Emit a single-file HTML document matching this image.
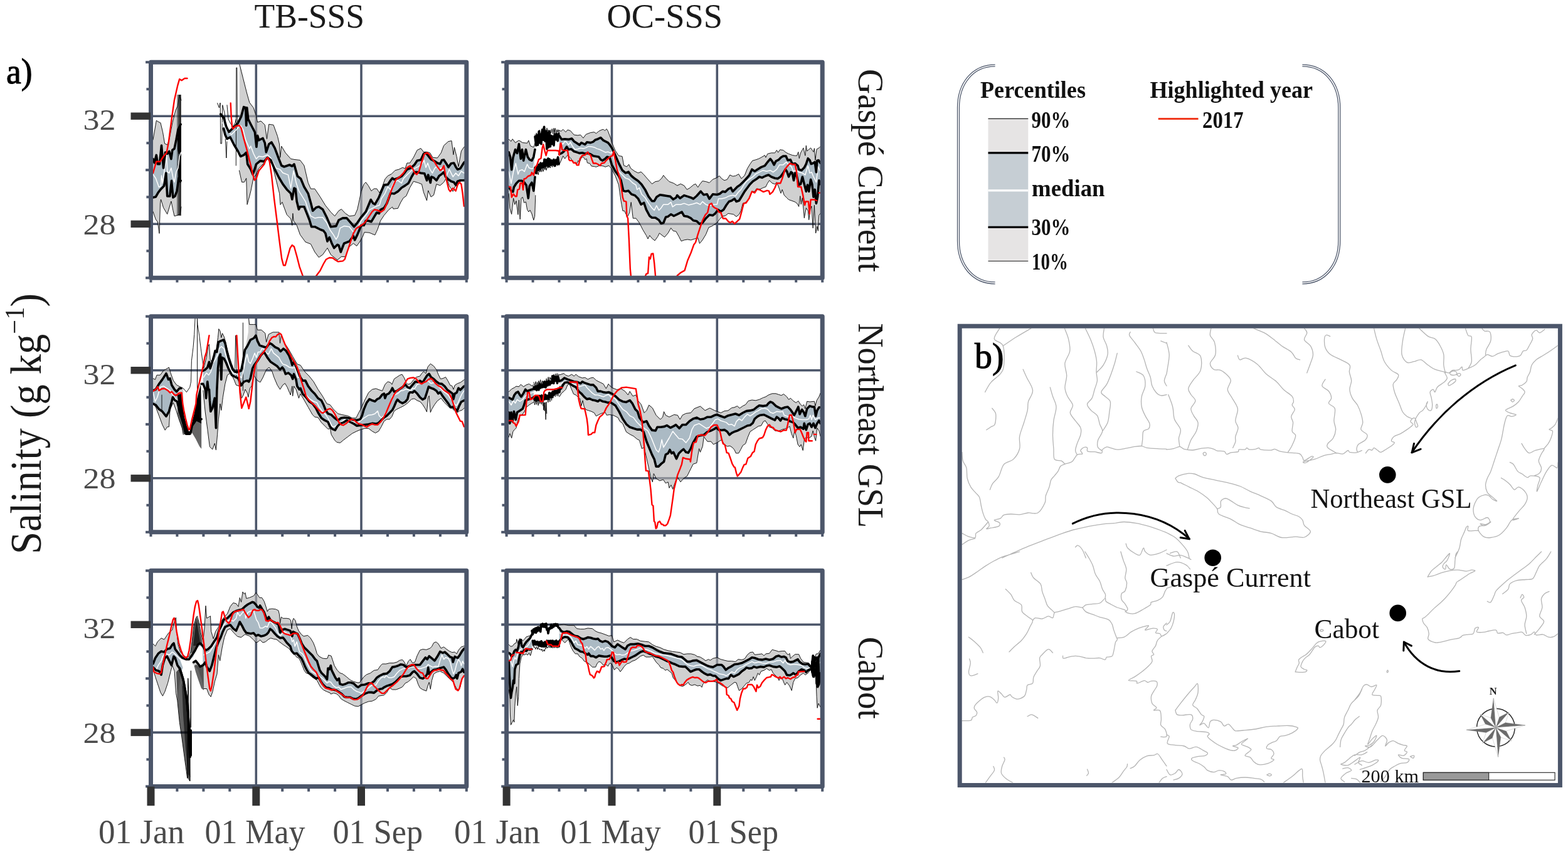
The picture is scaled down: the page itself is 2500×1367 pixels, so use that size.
<!DOCTYPE html>
<html lang="en"><head><meta charset="utf-8"><title>Salinity percentiles</title>
<style>html,body{margin:0;padding:0;background:#fff}body{width:2500px;height:1367px;overflow:hidden}svg{display:block}text{font-family:"Liberation Serif",serif}</style></head><body>
<svg width="2500" height="1367" viewBox="0 0 2500 1367">
<defs><linearGradient id="dk" x1="0" x2="1" y1="0" y2="0"><stop offset="0" stop-color="#000" stop-opacity="0"/><stop offset="0.35" stop-color="#000" stop-opacity="0.55"/><stop offset="1" stop-color="#000" stop-opacity="0.9"/></linearGradient></defs>
<rect width="2500" height="1367" fill="#fff"/>
<g>
<line x1="408.3" y1="99.2" x2="408.3" y2="443.3" stroke="#4c566a" stroke-width="3.6"/>
<line x1="576" y1="99.2" x2="576" y2="443.3" stroke="#4c566a" stroke-width="3.6"/>
<line x1="240.5" y1="185.2" x2="743.8" y2="185.2" stroke="#4c566a" stroke-width="3.6"/>
<line x1="240.5" y1="357.3" x2="743.8" y2="357.3" stroke="#4c566a" stroke-width="3.6"/>
<clipPath id="c1"><rect x="240.5" y="99.2" width="503.3" height="344.1"/></clipPath>
<g clip-path="url(#c1)" fill="none" stroke-linejoin="round" stroke-linecap="round">
<path d="M244,223 249.3,192.2 252,194 256,196 259.5,210.6 262.6,229 266.7,231 270,222 274.9,196 280,175.8 283,169.6 286.2,151.2 289,160 289,330 287.2,341.6 282,343.7 278,344.7 275.9,335.5 272.9,321 266.7,341.6 260.6,331.4 256.5,318 255.5,325 254,372.4 251.4,354 248.3,350 244,337.5Z" fill="#b3b3b3" fill-opacity="0.62" stroke="none"/>
<path d="M381.8,102 387.5,124.6 393.7,149 397.8,163.5 404,171.7 408,183.3 410.6,195 416,193 422.3,199.3 425.5,221.6 428.7,198.2 436,199.3 442.5,217.3 445.5,230 446.7,251.3 448.8,233.2 455.2,243.8 463.7,253.4 470,254.5 478.5,255.5 484.9,264 491.3,291.6 495.5,301.2 501.9,301.2 510.4,313.9 518.9,327.7 527.4,338.3 533.7,344.7 540.1,336.2 544.3,333.6 550.7,340.4 557.1,344.7 565.6,343.6 569.8,334 575.9,305.4 580.2,293.7 583.2,290.7 587.6,296.6 592,304.6 596.3,301 600.7,301 605.1,307.6 608.8,299.5 613.9,285.6 618.3,280.5 624.1,277.6 630,271.7 635.9,270.2 641.7,267.3 646,268.8 649,260 653.4,260 659.3,251.2 665.1,239.5 671,236.6 675.4,242.4 681.2,242.4 685.6,243.9 690,251.2 697.3,252 703.2,243.9 707.6,232.2 714.9,225.6 720,224.6 722.9,246.8 724.4,235 728.1,249.8 731,265.9 735.4,241 739.8,234.4 743,234 743,286 739.8,286.3 735.4,287.8 731,293.7 725.1,298 722.2,305.4 716.3,296.6 712,283.4 707.6,290.7 701.7,295.9 695.9,293.7 691.5,311.2 687.1,314.1 682.7,303.9 680.5,320 675.4,306.8 672.4,293.7 666.6,291.5 659.3,289.3 653.4,299.5 647.6,312.7 643.2,315.6 638.8,322.9 634.4,332.4 627,333.2 625.6,330.2 619.8,334.6 612.4,343.4 606.6,352.2 602.2,365.4 597.8,374.9 589,371.2 581,370.5 578.5,377 574,385 568.8,392.4 563.4,388.2 557,393.5 550.7,409.4 544.3,409.4 538,414.7 527.4,406.2 522,395.6 514.6,406.2 508.3,410.5 501.9,402 495.5,389.3 487,386 478.5,374.4 473.2,359.5 468,352 466.9,340.4 465.8,359.5 463.7,349 457.3,342.5 449.9,322.4 447,326.6 445.6,308.6 440.3,287.4 434,262 426.5,253.4 419,262 412.7,268.3 408,279 404.2,283 400,304.3 397.8,313 394.1,326.3 392.7,284.3 389.6,290.5 385.5,290.5 381.8,273.8Z" fill="#b3b3b3" fill-opacity="0.62" stroke="none"/>
<path d="M244,253.6 246.2,259.7 249.3,247.4 251.4,261.8 254.4,261.8 257.5,232 260.6,268 263.6,243 266.7,245.4 269.8,241.3 272.9,253.6 274.9,239.3 278,237.2 281,222.9 284,206.5 288.2,198.3 288.2,288.4 285,284 282,304.8 279,313 275.9,315 273.5,288.4 270.8,313 266.7,313 264.7,276 261.6,296.6 256.5,301.7 252.4,306.8 248.3,314 244,315Z" fill="#abbac4" stroke="none"/>
<path d="M356.5,187.6 356.8,188 360.9,202.4 365,210.6 371.2,204.4 379.4,196.3 384.5,186 388.6,170.7 391.6,171.7 392.7,200.3 393.7,171.7 395.7,190 399.8,198.2 406.4,211 408.9,234.3 410.6,216.2 412.7,223.7 419,220.5 422.3,228 424.4,242.8 428.7,230 432.9,226.9 438.2,236.4 444.6,253.4 448.8,264 453,266 461.6,263 465.8,265 469,261.9 474.3,281 479.6,285.2 484.9,298 491.3,308.6 495.5,323.4 498.7,336.2 504,330.9 508.3,329.8 514.6,334 521,346.8 527.4,361.7 535.9,360.6 540.1,351 546.5,347.9 552.8,347.9 559.2,355.3 564.5,361.7 569.8,355.3 575.9,346.3 583.2,337.6 587.6,327.3 591.2,318.5 594.9,324.4 597.8,325.8 603.7,315.6 608,305.4 612.4,295.1 618.3,294.4 622.7,287.8 625.6,284.2 628.5,286.3 634.4,284.2 640.2,281.2 644.6,276.1 649,270.2 654.9,268 660.7,262.9 665.1,256.3 671,254.9 675.4,245.4 679,243.9 682.7,248.3 687.1,254.1 692.9,257.1 697.3,260 701.7,261.5 704.6,255.6 707.6,254.9 712,261.5 714.9,266.6 719.3,260.7 723.7,260 726.6,265.9 729.5,270.2 733.9,268.8 739.8,259.3 743,257 743,288 739.8,287.8 733.9,287.8 729.5,289.3 726.6,295.1 723.7,290.7 719.3,289.3 714.9,286.3 710.5,282 707.6,274.6 704.6,277.6 700.2,280.5 695.9,287.8 691.5,283.4 687.8,282 686.3,291.5 682.7,279 680.5,287.8 676.8,276.8 671,276.1 665.1,274.6 660.7,274.6 656.3,282 651.2,292.2 646.1,295.9 640.2,299.5 634.4,305.4 628.5,309 622.7,308.3 616.8,324.4 612.4,331.7 606.6,334.6 604.4,340.5 600.7,339 596.3,346.3 592,353.7 587.6,352.2 583.2,352.2 580.2,359.5 575.9,359.5 569.8,374.4 565.6,382.9 563.4,376.5 557,385 548.6,388.2 546.5,393.5 543.3,402 540.1,391.4 538,390.3 532.7,395.6 529.5,389.3 525.2,378.6 522,385 518.9,372.3 515.7,368 510.4,366 501.9,361.7 496.6,361.7 493.4,351 489.2,340.4 484.9,329.8 478.5,329.8 476.4,334 473.2,321.3 471.1,301.2 469,300 465.8,318 463.7,308.6 457.3,302.2 450.9,293.7 444.6,283 438.2,270.4 431.8,255.5 426.5,251.3 421.2,257.6 414.9,256.6 408.5,261.9 406,270 403,278 399.8,270 394.7,261.8 392.7,243.4 388.6,247.4 383.5,249.5 379.4,241.3 373.2,231 367,218.8 362,221.5 358.9,214.7 356.5,205Z" fill="#abbac4" stroke="none"/>
<path d="M283,222 285,205 288.8,197 288.8,292 284.5,290 283.5,262 286,256 287,244 284.5,246 283,238Z" fill="#000" stroke="none"/>
<rect x="281" y="151" width="7.7" height="193" fill="url(#dk)" stroke="none"/>
<path d="M244,223 249.3,192.2 252,194 256,196 259.5,210.6 262.6,229 266.7,231 270,222 274.9,196 280,175.8 283,169.6 286.2,151.2 289,160" stroke="#000" stroke-width="0.9"/>
<path d="M381.8,102 387.5,124.6 393.7,149 397.8,163.5 404,171.7 408,183.3 410.6,195 416,193 422.3,199.3 425.5,221.6 428.7,198.2 436,199.3 442.5,217.3 445.5,230 446.7,251.3 448.8,233.2 455.2,243.8 463.7,253.4 470,254.5 478.5,255.5 484.9,264 491.3,291.6 495.5,301.2 501.9,301.2 510.4,313.9 518.9,327.7 527.4,338.3 533.7,344.7 540.1,336.2 544.3,333.6 550.7,340.4 557.1,344.7 565.6,343.6 569.8,334 575.9,305.4 580.2,293.7 583.2,290.7 587.6,296.6 592,304.6 596.3,301 600.7,301 605.1,307.6 608.8,299.5 613.9,285.6 618.3,280.5 624.1,277.6 630,271.7 635.9,270.2 641.7,267.3 646,268.8 649,260 653.4,260 659.3,251.2 665.1,239.5 671,236.6 675.4,242.4 681.2,242.4 685.6,243.9 690,251.2 697.3,252 703.2,243.9 707.6,232.2 714.9,225.6 720,224.6 722.9,246.8 724.4,235 728.1,249.8 731,265.9 735.4,241 739.8,234.4 743,234" stroke="#000" stroke-width="0.9"/>
<path d="M244,337.5 248.3,350 251.4,354 254,372.4 255.5,325 256.5,318 260.6,331.4 266.7,341.6 272.9,321 275.9,335.5 278,344.7 282,343.7 287.2,341.6 289,330" stroke="#000" stroke-width="0.9"/>
<path d="M381.4,272 385.5,290.5 389.6,290.5 392.7,284.3 394.1,326.3 397.8,313 400,304.3 404.2,283 408,279 412.7,268.3 419,262 426.5,253.4 434,262 440.3,287.4 445.6,308.6 447,326.6 449.9,322.4 457.3,342.5 463.7,349 465.8,359.5 466.9,340.4 468,352 473.2,359.5 478.5,374.4 487,386 495.5,389.3 501.9,402 508.3,410.5 514.6,406.2 522,395.6 527.4,406.2 538,414.7 544.3,409.4 550.7,409.4 557,393.5 563.4,388.2 568.8,392.4 574,385 578.5,377 581,370.5 589,371.2 597.8,374.9 602.2,365.4 606.6,352.2 612.4,343.4 619.8,334.6 625.6,330.2 627,333.2 634.4,332.4 638.8,322.9 643.2,315.6 647.6,312.7 653.4,299.5 659.3,289.3 666.6,291.5 672.4,293.7 675.4,306.8 680.5,320 682.7,303.9 687.1,314.1 691.5,311.2 695.9,293.7 701.7,295.9 707.6,290.7 712,283.4 716.3,296.6 722.2,305.4 725.1,298 731,293.7 735.4,287.8 739.8,286.3 743,286" stroke="#000" stroke-width="0.9"/>
<path d="M359.3,222 360.9,252 361.8,226" stroke="#000" stroke-width="0.9"/>
<path d="M346.6,164.5 348,168 349.5,172 350.5,166 351.2,164 351.7,229 353.5,229 354.8,167.6 358,180 360,200" stroke="#000" stroke-width="0.9"/>
<path d="M376.3,264 376.8,108 377.8,108 378.5,200" stroke="#000" stroke-width="0.9"/>
<path d="M362,167.6 364,190 367,196 371,202 375,196 376.3,190" stroke="#000" stroke-width="0.9"/>
<path d="M244,278 248.3,284.3 253.4,298.6 256.5,296.6 257.5,280 259.5,292.5 262.6,268 265.7,247.4 266.7,274 269.8,276 272.9,268 276,284 278,290.5 281,274 284,268 286.2,249.5 288.8,243" stroke="#fff" stroke-width="1.5"/>
<path d="M354.8,196 363,210.6 369,214.7 375.3,208.5 383.5,200 387.5,206.5 391.6,222.9 397.8,237.2 399.8,233 404.2,245 408.5,253.4 412.7,249.2 419,250.2 426.5,247 431.8,252.3 440.3,268.3 446.7,270.4 451,275.7 459.4,278.9 463.7,300 468,272.5 472.2,291.6 476.4,304.3 481.7,312.8 487,321.3 491.3,334 495.5,344.7 501.9,347.9 508.3,346.8 514.6,346.8 521,355.3 526.3,367 531.6,374.4 535.9,381.8 539,376.5 542.2,363.8 548.6,360.6 557,361.7 563.4,370.1 567.7,365.9 572,360.6 575.9,352.2 583.2,343.4 589,334.6 594.9,331.7 600.7,328.8 605.1,327.3 608,317 613.9,308.3 618.3,298 622.7,302.4 628.5,290.7 634.4,287.8 640.2,292.2 643.2,284.9 649,279 654.9,273.2 660.7,268.8 666.6,265.9 672.4,261.5 676.1,255.6 679,267.3 682,260 685.6,270.2 689.3,276.1 692.9,268.8 695.9,265.9 700.2,271.7 703.2,267.3 707.6,274.6 711.2,282 716.3,270.2 722.2,282 726.6,276.1 731,280.5 735.4,273.2 739.8,276.1 743,274" stroke="#fff" stroke-width="1.5"/>
<path d="M244,253.6 246.2,259.7 249.3,247.4 251.4,261.8 254.4,261.8 257.5,232 260.6,268 263.6,243 266.7,245.4 269.8,241.3 272.9,253.6 274.9,239.3 278,237.2 281,222.9 284,206.5 288.2,198.3" stroke="#000" stroke-width="3.6"/>
<path d="M351.7,182 356.8,188 360.9,202.4 365,210.6 371.2,204.4 379.4,196.3 384.5,186 388.6,170.7 391.6,171.7 392.7,200.3 393.7,171.7 395.7,190 399.8,198.2 406.4,211 408.9,234.3 410.6,216.2 412.7,223.7 419,220.5 422.3,228 424.4,242.8 428.7,230 432.9,226.9 438.2,236.4 444.6,253.4 448.8,264 453,266 461.6,263 465.8,265 469,261.9 474.3,281 479.6,285.2 484.9,298 491.3,308.6 495.5,323.4 498.7,336.2 504,330.9 508.3,329.8 514.6,334 521,346.8 527.4,361.7 535.9,360.6 540.1,351 546.5,347.9 552.8,347.9 559.2,355.3 564.5,361.7 569.8,355.3 575.9,346.3 583.2,337.6 587.6,327.3 591.2,318.5 594.9,324.4 597.8,325.8 603.7,315.6 608,305.4 612.4,295.1 618.3,294.4 622.7,287.8 625.6,284.2 628.5,286.3 634.4,284.2 640.2,281.2 644.6,276.1 649,270.2 654.9,268 660.7,262.9 665.1,256.3 671,254.9 675.4,245.4 679,243.9 682.7,248.3 687.1,254.1 692.9,257.1 697.3,260 701.7,261.5 704.6,255.6 707.6,254.9 712,261.5 714.9,266.6 719.3,260.7 723.7,260 726.6,265.9 729.5,270.2 733.9,268.8 739.8,259.3 743,257" stroke="#000" stroke-width="3.6"/>
<path d="M244,315 248.3,314 252.4,306.8 256.5,301.7 261.6,296.6 264.7,276 266.7,313 270.8,313 273.5,288.4 275.9,315 279,313 282,304.8 285,284 288.2,288.4" stroke="#000" stroke-width="3.6"/>
<path d="M356.5,205 358.9,214.7 362,221.5 367,218.8 373.2,231 379.4,241.3 383.5,249.5 388.6,247.4 392.7,243.4 394.7,261.8 399.8,270 403,278 406,270 408.5,261.9 414.9,256.6 421.2,257.6 426.5,251.3 431.8,255.5 438.2,270.4 444.6,283 450.9,293.7 457.3,302.2 463.7,308.6 465.8,318 469,300 471.1,301.2 473.2,321.3 476.4,334 478.5,329.8 484.9,329.8 489.2,340.4 493.4,351 496.6,361.7 501.9,361.7 510.4,366 515.7,368 518.9,372.3 522,385 525.2,378.6 529.5,389.3 532.7,395.6 538,390.3 540.1,391.4 543.3,402 546.5,393.5 548.6,388.2 557,385 563.4,376.5 565.6,382.9 569.8,374.4 575.9,359.5 580.2,359.5 583.2,352.2 587.6,352.2 592,353.7 596.3,346.3 600.7,339 604.4,340.5 606.6,334.6 612.4,331.7 616.8,324.4 622.7,308.3 628.5,309 634.4,305.4 640.2,299.5 646.1,295.9 651.2,292.2 656.3,282 660.7,274.6 665.1,274.6 671,276.1 676.8,276.8 680.5,287.8 682.7,279 686.3,291.5 687.8,282 691.5,283.4 695.9,287.8 700.2,280.5 704.6,277.6 707.6,274.6 710.5,282 714.9,286.3 719.3,289.3 723.7,290.7 726.6,295.1 729.5,289.3 733.9,287.8 739.8,287.8 743,288" stroke="#000" stroke-width="3.6"/>
<path d="M244,276 249.3,257.7 255.5,257.7 260.6,249.5 265.7,243.4 268.8,227 273.9,188 278,159.4 283.1,136.9 286.2,126.2 289.7,128.3 294.4,125 298.5,125" stroke="#ff0000" stroke-width="2.4"/>
<path d="M367.7,164.5 368.7,186 370.1,202.4 371.6,205.5 375.3,201.4 381.4,200 384.5,204.4 388.6,220.8 393.7,239.3 399.8,263.8 403.2,278.9 405.9,287.4 408.5,285.2 412.7,272.5 418,266 421.2,262 424.4,253.4 427.2,251.3 429.7,257.6 432.9,278.9 437.1,317 441.4,351 445.6,385 449.2,412.6 452,423.2 454.8,423.2 458.4,410.5 462.6,395.6 465.8,391 469,393.5 473.2,408.4 477.5,425.3 482.8,440.2 488,452 498,452 504,440.2 510.4,431.7 515.7,421 520,413.7 525.2,411 530.5,411.5 534.8,414.7 539,417.3 546.5,416.4 549.7,413.7 552.8,404 558.1,388.2 563.4,372.3 567.7,364.8 574,360.6 575.9,359.5 581.7,355.1 587.6,346.3 593.4,337.6 597.1,334.3 602.2,335.4 607.3,338.3 612.4,334.6 616.8,324.4 621.2,311.2 625.6,299.5 631.5,286.3 637.3,282 643.2,276.1 649,267.3 654.2,264.4 657.8,268.8 661.5,276.1 664.4,278.3 668.1,273.2 672.4,258.5 676.8,245.4 681.2,243.6 684.9,246.8 688.5,252.7 692.9,258.5 697.3,265.9 701.7,271.7 704.6,270.2 707.6,264.4 709.8,276.1 712.7,290.7 715.6,302.4 717.8,305.4 722.2,300.2 726.6,304.6 729.5,295.1 732.4,290.7 735.4,293.7 737.6,308.3 739.8,328.8" stroke="#ff0000" stroke-width="2.4"/>
</g>
<rect x="232.1" y="97.2" width="5.4" height="4" fill="#4c566a"/>
<rect x="233.4" y="140.2" width="4.1" height="4" fill="#4c566a"/>
<rect x="232.1" y="183.2" width="5.4" height="4" fill="#4c566a"/>
<rect x="233.4" y="226.2" width="4.1" height="4" fill="#4c566a"/>
<rect x="232.1" y="269.2" width="5.4" height="4" fill="#4c566a"/>
<rect x="233.4" y="312.3" width="4.1" height="4" fill="#4c566a"/>
<rect x="232.1" y="355.3" width="5.4" height="4" fill="#4c566a"/>
<rect x="233.4" y="398.3" width="4.1" height="4" fill="#4c566a"/>
<rect x="232.1" y="441.3" width="5.4" height="4" fill="#4c566a"/>
<rect x="238.5" y="446.3" width="4" height="4.2" fill="#4c566a"/>
<rect x="280.4" y="446.3" width="4" height="4.2" fill="#4c566a"/>
<rect x="322.4" y="446.3" width="4" height="4.2" fill="#4c566a"/>
<rect x="364.3" y="446.3" width="4" height="4.2" fill="#4c566a"/>
<rect x="406.3" y="446.3" width="4" height="4.2" fill="#4c566a"/>
<rect x="448.2" y="446.3" width="4" height="4.2" fill="#4c566a"/>
<rect x="490.1" y="446.3" width="4" height="4.2" fill="#4c566a"/>
<rect x="532.1" y="446.3" width="4" height="4.2" fill="#4c566a"/>
<rect x="574" y="446.3" width="4" height="4.2" fill="#4c566a"/>
<rect x="616" y="446.3" width="4" height="4.2" fill="#4c566a"/>
<rect x="657.9" y="446.3" width="4" height="4.2" fill="#4c566a"/>
<rect x="699.9" y="446.3" width="4" height="4.2" fill="#4c566a"/>
<rect x="741.8" y="446.3" width="4" height="4.2" fill="#4c566a"/>
<rect x="240.5" y="99.2" width="503.3" height="344.1" fill="none" stroke="#4c566a" stroke-width="7" stroke-linejoin="round"/>
<rect x="208.5" y="179.5" width="31.5" height="11.4" fill="#333"/>
<rect x="208.5" y="351.6" width="31.5" height="11.4" fill="#333"/>
</g>
<g>
<line x1="975.5" y1="99.2" x2="975.5" y2="443.3" stroke="#4c566a" stroke-width="3.6"/>
<line x1="1143.3" y1="99.2" x2="1143.3" y2="443.3" stroke="#4c566a" stroke-width="3.6"/>
<line x1="807.6" y1="185.2" x2="1311.2" y2="185.2" stroke="#4c566a" stroke-width="3.6"/>
<line x1="807.6" y1="357.3" x2="1311.2" y2="357.3" stroke="#4c566a" stroke-width="3.6"/>
<clipPath id="c2"><rect x="807.6" y="99.2" width="503.6" height="344.1"/></clipPath>
<g clip-path="url(#c2)" fill="none" stroke-linejoin="round" stroke-linecap="round">
<path d="M811.3,222.4 815,225.4 817.2,221.7 821.6,227.6 827.4,223.9 833.3,227.6 840.6,228.3 842.8,223.9 845.7,232.7 850.8,234.9 853,228.3 853,334.2 852.6,345.4 850.8,351.2 847.9,341 845,335.1 842.8,338 840.6,334.4 838.4,322 835.5,323.4 833.3,314.6 831.1,316.1 829.2,349.8 827.4,319 826,342.4 823,320.5 820.8,326.3 818.6,316.1 815.7,341.7 812.8,332.2 811.3,308.8Z" fill="#b3b3b3" fill-opacity="0.62" stroke="none"/>
<path d="M891.8,208.1 894.7,209.3 897.7,206.3 902,210.7 905,207.1 909.4,208.5 915.2,215.1 921.1,215.9 925.5,215.1 929.9,220.2 934.2,214.4 941.6,211.5 947.4,210.7 950.4,212.9 954.7,209.3 959.1,207.1 962,206.3 964.2,208.5 967.2,205.6 969.4,209.3 973.8,221 975.5,227.4 981,240.2 986.5,248.5 992,249.4 994.7,264 999.3,265.9 1002.6,262.2 1005.7,268.6 1012,273.2 1017.6,275.9 1022.1,274.1 1026.7,278.7 1032.2,285.1 1039.5,293.3 1045,289.6 1050.5,288.7 1055.1,284.1 1057.8,279.6 1061.5,284.1 1066.9,289.6 1074.3,292.4 1079.7,296 1085.2,293.3 1090.7,296 1095.3,302.4 1099.9,299.7 1105.4,295.1 1109,293.3 1112.7,298.8 1116.3,293.3 1120,288.7 1125.5,289.6 1131,291.5 1136.5,286 1143.3,283.4 1147,280.5 1150.6,284.9 1155,287.8 1159.4,286.3 1163.8,279 1168.2,281.2 1172.6,280.5 1177.7,277.6 1182.1,284.9 1187.2,279.8 1191.6,268.8 1196,261.5 1199.7,256.3 1204.8,254.9 1209.2,253.4 1213.6,251.2 1219.4,247.6 1220.9,251.2 1223.8,245.4 1229.7,243.9 1235.5,243.9 1238.4,239.5 1240.6,243.2 1243.6,238.8 1248.7,239.5 1253.1,243.2 1257.5,245.4 1263.3,247.6 1267.7,248.3 1270.6,248.3 1272.8,242.4 1274.3,252.7 1276.5,243.9 1280.9,235.9 1283.8,248.3 1285.3,232.2 1286.7,241 1292.6,235.9 1297,242.4 1298.4,236.6 1299.9,255.6 1302.1,238.1 1305.8,235.9 1308,233.7 1308,340.5 1305.8,343.4 1304.3,368.3 1302.8,361 1300.6,372 1298.4,327.3 1296.2,363.9 1294,328.8 1291.9,334.6 1289.7,350.7 1288.2,336.1 1285.3,331.7 1282.3,347.8 1279.4,315.6 1277.2,325.9 1275.8,312.7 1273.6,329.5 1271.4,325.1 1267.7,322.2 1261.9,320 1257.5,318.5 1254.5,315.6 1250.2,311.2 1247.2,302.4 1245,308.3 1241.4,298 1238.4,290.7 1235.5,293.7 1231.1,292.2 1226.7,287.8 1223.8,292.2 1220.9,298 1216.5,299.5 1212.1,301.7 1206.2,301 1203.3,305.4 1198.9,305.4 1194.5,317.1 1188.7,322.9 1184.3,324.4 1181.4,336.1 1178.4,342 1174,345.6 1169.7,342 1165.3,341.2 1160.9,340.5 1156.5,344.2 1152.1,344.9 1147.7,349.3 1143.3,355.1 1140.1,357.3 1134.6,361 1130,362.8 1125.5,373.8 1120,382.9 1115.4,388.4 1112.7,379.3 1107.2,381.1 1101.7,382.9 1096.2,382 1090.7,382.9 1086.2,384.7 1082.5,377.4 1077.9,369.2 1073.3,368.3 1069.7,363.7 1065.1,371.9 1059.6,378.3 1056,375.6 1051.4,371.9 1048.7,377.4 1044.1,383.8 1039.5,380.2 1035.8,375.6 1033.1,381.1 1030.4,375.6 1024.9,366.5 1019.4,355.5 1013.9,348.2 1009.3,348.2 1006.2,322.6 1003.8,339 1000.2,346.3 995.6,336.3 992.9,336.3 990.1,320.7 986.5,295.1 981,280.5 975.5,269.5 970.8,264.2 965,266.3 962,264.9 956.2,264.2 950.4,266.3 947.4,265.6 943,264.9 940.1,260.5 936.4,259.8 935,253.2 932.8,254.6 929.9,250.2 926.9,251.7 924,259 921.8,256.1 919.6,262 913.8,259 909.4,251.7 906.4,248.8 905,247.3 900.6,253.2 897.7,248.8 894.7,256.1 891.8,262Z" fill="#b3b3b3" fill-opacity="0.62" stroke="none"/>
<path d="M811.3,242.9 813.5,250.2 815.7,270.7 817.9,251.7 821.6,238.5 824.5,244.4 827.4,229.8 830.3,253.2 832.5,238.5 834.7,256.1 838.4,238.5 841.3,250.2 844.2,254.6 847.9,256.1 850.8,250.2 853,238.5 853,282.4 850.8,304.4 847.9,291.2 844.2,297 842.3,316.1 839.1,295.6 836.2,291.2 831.8,288.3 827.4,288.3 823,292.7 819.4,298.5 817.9,305.9 815,304.4 811.3,298.5Z" fill="#abbac4" stroke="none"/>
<path d="M891.8,216.6 895.5,222.4 900.6,221.7 906.4,222.4 911.6,221 915.2,225.4 919.6,228.3 924,231.2 926.9,227.6 932.8,230.5 935.7,226.8 941.6,227.6 946,226.1 948.9,223.2 953.3,221.7 957.7,219.5 962,223.9 966.4,226.1 969.4,227.6 972.3,231.2 975.5,235.7 981,247.6 986.5,260.4 992,271.3 997.4,275.9 1002,274.1 1006.6,280.5 1012.1,285.1 1017.6,288.7 1023,294.2 1028.5,302.4 1034,313.4 1039.5,320.7 1043.2,320.7 1046.8,314.3 1052.3,310.7 1057.8,311.6 1063.3,312.5 1068.8,313.4 1073.3,318 1077.9,315.2 1079.7,311.6 1084.3,316.2 1090.7,311.6 1096.2,313.4 1101.7,315.2 1105.4,317.1 1110.8,312.5 1117.2,305.2 1121.8,310.7 1127.3,309.7 1131,317.1 1136.5,309.7 1143.3,310.5 1147.7,309 1152.1,305.4 1156.5,306.1 1160.9,301.7 1165.3,299.5 1168.2,305.4 1172.6,301 1175.5,298 1179.9,295.1 1184.3,290.7 1188.7,286.3 1194.5,279.8 1198.9,270.2 1203.3,273.2 1207.7,270.2 1213.6,266.6 1219.4,264.4 1223.8,258.5 1228.2,253.4 1231.1,257.1 1234.1,262.9 1237,257.1 1241.4,254.9 1245,251.2 1248.7,249 1253.1,249 1256,255.6 1260.4,254.9 1263.3,261.5 1267.7,260.7 1272.1,264.4 1273.6,270.2 1278,271.7 1282.3,267.3 1285.3,261.5 1288.2,252.7 1291.1,255.6 1293.3,261.5 1297,260 1299.2,258.5 1301.4,274.6 1302.8,256.3 1305,255.6 1308,260 1308,293.7 1305.8,287.8 1303.6,314.1 1301.4,324.4 1299.2,302.4 1297,314.1 1294.8,293.7 1292.6,286.3 1289.7,305.4 1287.5,295.1 1285.3,305.4 1282.3,293.7 1279.4,282 1276.5,293.7 1273.6,295.1 1269.9,279 1267.7,276.1 1265.5,287.8 1263.3,276.1 1261.1,274.6 1257.5,282 1254.5,273.2 1252.3,270.2 1248.7,276.1 1244.3,282 1239.9,284.9 1235.5,284.2 1229.7,282 1225.3,279 1220.9,280.5 1215,283.4 1210.6,282 1206.2,285.6 1200.4,289.3 1196,293.7 1191.6,299.5 1187.2,305.4 1182.8,312.7 1178.4,320 1174,321.5 1171.1,317.1 1166.7,320 1162.3,321.5 1158,327.3 1153.6,334.6 1149.2,337.6 1144.8,334.6 1140.4,340.5 1136.5,343.6 1131,342.7 1125.5,348.2 1120,355.5 1115.4,357.3 1110.8,352.7 1105.4,351.8 1101.7,348.2 1096.2,345.4 1090.7,344.5 1087.1,338.1 1079.7,341.8 1074.3,344.5 1069.7,341.8 1065.1,345.4 1061.5,346.3 1057.8,355.5 1054.1,356.4 1050.5,350.9 1045,347.2 1039.5,347.2 1035.8,344.5 1030.4,334.4 1026.7,323.5 1022.1,326.2 1017.6,317.1 1012.1,311.6 1006.6,309.7 1002,304.3 997.4,305.2 993.8,304.3 990.1,287.8 986.5,280.5 981,273.2 975.5,263.1 972.3,251.7 967.9,250.2 964.2,253.9 960.6,256.1 957.7,254.6 954.7,250.2 950.4,249.5 946,248.8 941.6,245.9 937.2,244.4 932.8,245.1 928.4,243.7 924,244.4 919.6,242.9 915.2,241.5 910.8,237.8 906.4,238.5 903.5,234.1 899.1,241.5 895.5,244.4 891.8,245.9Z" fill="#abbac4" stroke="none"/>
<path d="M811.3,222.4 815,225.4 817.2,221.7 821.6,227.6 827.4,223.9 833.3,227.6 840.6,228.3 842.8,223.9 845.7,232.7 850.8,234.9 853,228.3" stroke="#000" stroke-width="0.9"/>
<path d="M891.1,207.8 894.7,209.3 897.7,206.3 902,210.7 905,207.1 909.4,208.5 915.2,215.1 921.1,215.9 925.5,215.1 929.9,220.2 934.2,214.4 941.6,211.5 947.4,210.7 950.4,212.9 954.7,209.3 959.1,207.1 962,206.3 964.2,208.5 967.2,205.6 969.4,209.3 973.8,221 975.5,227.4 981,240.2 986.5,248.5 992,249.4 994.7,264 999.3,265.9 1002.6,262.2 1005.7,268.6 1012,273.2 1017.6,275.9 1022.1,274.1 1026.7,278.7 1032.2,285.1 1039.5,293.3 1045,289.6 1050.5,288.7 1055.1,284.1 1057.8,279.6 1061.5,284.1 1066.9,289.6 1074.3,292.4 1079.7,296 1085.2,293.3 1090.7,296 1095.3,302.4 1099.9,299.7 1105.4,295.1 1109,293.3 1112.7,298.8 1116.3,293.3 1120,288.7 1125.5,289.6 1131,291.5 1136.5,286 1143.3,283.4 1147,280.5 1150.6,284.9 1155,287.8 1159.4,286.3 1163.8,279 1168.2,281.2 1172.6,280.5 1177.7,277.6 1182.1,284.9 1187.2,279.8 1191.6,268.8 1196,261.5 1199.7,256.3 1204.8,254.9 1209.2,253.4 1213.6,251.2 1219.4,247.6 1220.9,251.2 1223.8,245.4 1229.7,243.9 1235.5,243.9 1238.4,239.5 1240.6,243.2 1243.6,238.8 1248.7,239.5 1253.1,243.2 1257.5,245.4 1263.3,247.6 1267.7,248.3 1270.6,248.3 1272.8,242.4 1274.3,252.7 1276.5,243.9 1280.9,235.9 1283.8,248.3 1285.3,232.2 1286.7,241 1292.6,235.9 1297,242.4 1298.4,236.6 1299.9,255.6 1302.1,238.1 1305.8,235.9 1308,233.7" stroke="#000" stroke-width="0.9"/>
<path d="M811.3,308.8 812.8,332.2 815.7,341.7 818.6,316.1 820.8,326.3 823,320.5 826,342.4 827.4,319 829.2,349.8 831.1,316.1 833.3,314.6 835.5,323.4 838.4,322 840.6,334.4 842.8,338 845,335.1 847.9,341 850.8,351.2 852.6,345.4 853.8,311.7" stroke="#000" stroke-width="0.9"/>
<path d="M891.8,262 894.7,256.1 897.7,248.8 900.6,253.2 905,247.3 906.4,248.8 909.4,251.7 913.8,259 919.6,262 921.8,256.1 924,259 926.9,251.7 929.9,250.2 932.8,254.6 935,253.2 936.4,259.8 940.1,260.5 943,264.9 947.4,265.6 950.4,266.3 956.2,264.2 962,264.9 965,266.3 970.8,264.2 975.5,269.5 981,280.5 986.5,295.1 990.1,320.7 992.9,336.3 995.6,336.3 1000.2,346.3 1003.8,339 1006.2,322.6 1009.3,348.2 1013.9,348.2 1019.4,355.5 1024.9,366.5 1030.4,375.6 1033.1,381.1 1035.8,375.6 1039.5,380.2 1044.1,383.8 1048.7,377.4 1051.4,371.9 1056,375.6 1059.6,378.3 1065.1,371.9 1069.7,363.7 1073.3,368.3 1077.9,369.2 1082.5,377.4 1086.2,384.7 1090.7,382.9 1096.2,382 1101.7,382.9 1107.2,381.1 1112.7,379.3 1115.4,388.4 1120,382.9 1125.5,373.8 1130,362.8 1134.6,361 1140.1,357.3 1143.3,355.1 1147.7,349.3 1152.1,344.9 1156.5,344.2 1160.9,340.5 1165.3,341.2 1169.7,342 1174,345.6 1178.4,342 1181.4,336.1 1184.3,324.4 1188.7,322.9 1194.5,317.1 1198.9,305.4 1203.3,305.4 1206.2,301 1212.1,301.7 1216.5,299.5 1220.9,298 1223.8,292.2 1226.7,287.8 1231.1,292.2 1235.5,293.7 1238.4,290.7 1241.4,298 1245,308.3 1247.2,302.4 1250.2,311.2 1254.5,315.6 1257.5,318.5 1261.9,320 1267.7,322.2 1271.4,325.1 1273.6,329.5 1275.8,312.7 1277.2,325.9 1279.4,315.6 1282.3,347.8 1285.3,331.7 1288.2,336.1 1289.7,350.7 1291.9,334.6 1294,328.8 1296.2,363.9 1298.4,327.3 1300.6,372 1302.8,361 1304.3,368.3 1305.8,343.4 1308,340.5" stroke="#000" stroke-width="0.9"/>
<path d="M853,214.7 854.1,220.6 855.2,212 856.5,217.8 858.1,212.1 859.3,218.3 860.5,207.3 861.6,219.1 863.4,208.4 865,214.6 866.2,202.8 867.7,214.2 869.4,206.1 870.4,214.7 872,204.2 873.1,215.2 874.1,206.9 875.8,214.4 877.1,207.1 878.5,212.4 880.2,205.5 881.6,213.5 882.9,204.5 884.1,212.3 885.2,204.5 886.7,214.1 888.1,206.7 889.4,211.3 890.5,206.9 891.7,212.3" stroke="#000" stroke-width="0.9"/>
<path d="M853,272.6 854.6,277.8 856.4,271.8 858.1,278.9 859.5,271.4 861,274.2 862.1,268.8 863.3,274.2 864.8,266.4 865.9,273.6 867.7,267.6 868.8,270.6 869.9,266.4 871,271.6 872.7,264.5 873.8,268.2 875.5,263.8 877.3,268 878.9,262.5 880.7,266.5 882.4,263 883.7,266.2 884.8,260.5 885.8,265.6 887.3,259.4 888.9,264.4 890.1,260.3 891.5,263.5" stroke="#000" stroke-width="0.9"/>
<path d="M853,241.8 854.8,257.7 856.8,243.5 858.1,257.5 860.3,240 861.8,249.3 863.5,242.9 865.3,250.3 866.7,241.4 868.9,249.8 871,240.8 872.3,247.9 874.2,237.2 875.5,246.8 877.3,238.3 879.5,247.1 881.7,234.4 883.9,247.2 886.1,236.5 887.5,247.4 889,236.2 890.7,243" stroke="#fff" stroke-width="2.6"/>
<path d="M811.3,273.7 815,292.7 818.6,273.7 822.3,260.5 826,278 828.1,272.2 832.5,270.7 836.2,273.7 840.6,262 843.5,267.8 847.9,269.3 850.8,267.8 853,253.2" stroke="#fff" stroke-width="1.5"/>
<path d="M891.8,231.2 894.7,228.3 897.7,229.8 900.6,225.4 903.5,226.8 906.4,231.2 909.4,226.8 912.3,232.7 916.7,238.5 921.1,237.8 925.5,236.3 929.9,237.1 934.2,235.6 938.6,233.4 943,234.1 947.4,234.9 951.8,237.1 956.2,238.5 960.6,240.7 965,242.9 969.4,242.2 973.8,244.4 975.5,242.1 981,260.4 986.5,273.2 992,278.7 997.4,284.1 1002.9,286 1008.4,291.5 1013.9,295.1 1015.7,302.4 1019.4,299.7 1023,309.7 1028.5,315.2 1034,324.4 1039.5,331.7 1043.2,335.4 1046.8,328 1050.5,335.4 1054.1,331.7 1057.8,326.2 1065.1,326.2 1069.7,322.6 1072.4,329.9 1077.9,326.2 1085.2,326.2 1090.7,324.4 1098,327.1 1105.4,325.3 1110.8,323.5 1116.3,326.2 1120,321.6 1125.5,326.2 1131,328 1138.3,326.2 1143.3,325.9 1145.5,317.1 1150.6,317.1 1156.5,315.6 1162.3,312.7 1168.2,311.2 1172.6,312.7 1177,306.8 1181.4,302.4 1185.8,295.1 1190.1,289.3 1196,284.9 1200.4,282 1204.8,277.6 1210.6,274.6 1216.5,271.7 1222.3,273.2 1228.2,271.7 1232.6,274.6 1238.4,270.2 1242.8,262.9 1248.7,262.9 1253.8,258.5 1257.5,262.9 1261.9,265.9 1264.8,273.2 1269.2,271.7 1273.6,274.6 1279.4,276.1 1283.8,279 1288.2,264.4 1291.1,276.1 1294,274.6 1297,282 1301.4,290.7 1304.3,265.9 1308,273.2" stroke="#fff" stroke-width="1.5"/>
<path d="M811.3,242.9 813.5,250.2 815.7,270.7 817.9,251.7 821.6,238.5 824.5,244.4 827.4,229.8 830.3,253.2 832.5,238.5 834.7,256.1 838.4,238.5 841.3,250.2 844.2,254.6 847.9,256.1 850.8,250.2 853,238.5" stroke="#000" stroke-width="3.6"/>
<path d="M891.8,216.6 895.5,222.4 900.6,221.7 906.4,222.4 911.6,221 915.2,225.4 919.6,228.3 924,231.2 926.9,227.6 932.8,230.5 935.7,226.8 941.6,227.6 946,226.1 948.9,223.2 953.3,221.7 957.7,219.5 962,223.9 966.4,226.1 969.4,227.6 972.3,231.2 975.5,235.7 981,247.6 986.5,260.4 992,271.3 997.4,275.9 1002,274.1 1006.6,280.5 1012.1,285.1 1017.6,288.7 1023,294.2 1028.5,302.4 1034,313.4 1039.5,320.7 1043.2,320.7 1046.8,314.3 1052.3,310.7 1057.8,311.6 1063.3,312.5 1068.8,313.4 1073.3,318 1077.9,315.2 1079.7,311.6 1084.3,316.2 1090.7,311.6 1096.2,313.4 1101.7,315.2 1105.4,317.1 1110.8,312.5 1117.2,305.2 1121.8,310.7 1127.3,309.7 1131,317.1 1136.5,309.7 1143.3,310.5 1147.7,309 1152.1,305.4 1156.5,306.1 1160.9,301.7 1165.3,299.5 1168.2,305.4 1172.6,301 1175.5,298 1179.9,295.1 1184.3,290.7 1188.7,286.3 1194.5,279.8 1198.9,270.2 1203.3,273.2 1207.7,270.2 1213.6,266.6 1219.4,264.4 1223.8,258.5 1228.2,253.4 1231.1,257.1 1234.1,262.9 1237,257.1 1241.4,254.9 1245,251.2 1248.7,249 1253.1,249 1256,255.6 1260.4,254.9 1263.3,261.5 1267.7,260.7 1272.1,264.4 1273.6,270.2 1278,271.7 1282.3,267.3 1285.3,261.5 1288.2,252.7 1291.1,255.6 1293.3,261.5 1297,260 1299.2,258.5 1301.4,274.6 1302.8,256.3 1305,255.6 1308,260" stroke="#000" stroke-width="3.6"/>
<path d="M811.3,298.5 815,304.4 817.9,305.9 819.4,298.5 823,292.7 827.4,288.3 831.8,288.3 836.2,291.2 839.1,295.6 842.3,316.1 844.2,297 847.9,291.2 850.8,304.4 853,282.4" stroke="#000" stroke-width="3.6"/>
<path d="M891.8,245.9 895.5,244.4 899.1,241.5 903.5,234.1 906.4,238.5 910.8,237.8 915.2,241.5 919.6,242.9 924,244.4 928.4,243.7 932.8,245.1 937.2,244.4 941.6,245.9 946,248.8 950.4,249.5 954.7,250.2 957.7,254.6 960.6,256.1 964.2,253.9 967.9,250.2 972.3,251.7 975.5,263.1 981,273.2 986.5,280.5 990.1,287.8 993.8,304.3 997.4,305.2 1002,304.3 1006.6,309.7 1012.1,311.6 1017.6,317.1 1022.1,326.2 1026.7,323.5 1030.4,334.4 1035.8,344.5 1039.5,347.2 1045,347.2 1050.5,350.9 1054.1,356.4 1057.8,355.5 1061.5,346.3 1065.1,345.4 1069.7,341.8 1074.3,344.5 1079.7,341.8 1087.1,338.1 1090.7,344.5 1096.2,345.4 1101.7,348.2 1105.4,351.8 1110.8,352.7 1115.4,357.3 1120,355.5 1125.5,348.2 1131,342.7 1136.5,343.6 1140.4,340.5 1144.8,334.6 1149.2,337.6 1153.6,334.6 1158,327.3 1162.3,321.5 1166.7,320 1171.1,317.1 1174,321.5 1178.4,320 1182.8,312.7 1187.2,305.4 1191.6,299.5 1196,293.7 1200.4,289.3 1206.2,285.6 1210.6,282 1215,283.4 1220.9,280.5 1225.3,279 1229.7,282 1235.5,284.2 1239.9,284.9 1244.3,282 1248.7,276.1 1252.3,270.2 1254.5,273.2 1257.5,282 1261.1,274.6 1263.3,276.1 1265.5,287.8 1267.7,276.1 1269.9,279 1273.6,295.1 1276.5,293.7 1279.4,282 1282.3,293.7 1285.3,305.4 1287.5,295.1 1289.7,305.4 1292.6,286.3 1294.8,293.7 1297,314.1 1299.2,302.4 1301.4,324.4 1303.6,314.1 1305.8,287.8 1308,293.7" stroke="#000" stroke-width="3.6"/>
<path d="M853,218.1 854.8,231.9 856.1,215.6 857.5,231.1 859.3,209.5 860.4,227.6 861.8,214.3 862.9,229.7 864.6,206.9 866.5,223.2 867.6,202.4 869.1,225.2 870.5,209.3 871.9,237.6 873.2,212 874.7,234.9 875.9,209.9 877.4,233.7 878.4,216.2 880,229.7 881.2,217.2 883,231.9 884.4,213.8 886.1,222.7 887.5,213.8 889.2,224.8 890.7,213.3" stroke="#000" stroke-width="3.6"/>
<path d="M853,267.4 854.9,276.5 856,265.2 857.7,271.6 859.1,262.5 860.7,270.1 861.9,260 863.3,267.6 865.2,260.5 866.7,267 868,254.2 869.1,265.8 870.4,254.9 872.3,264.3 873.9,252.8 874.9,265.2 876.1,253.8 878.1,263.2 879.3,255.7 881,262.6 882.9,254.6 884.7,264.4 886.6,255 887.8,261.5 889.5,250.9 891,261.6" stroke="#000" stroke-width="3.6"/>
<path d="M811.3,297.8 814.2,298.5 815.7,314.6 818.6,309.5 821.6,313.2 823.8,313.2 825.2,302.9 828.1,301.5 829.6,292 832.5,292 834,302.9 835.5,285.4 838.4,284.6 842,281 846.4,279.5 847.9,275.1 850.8,279.5 853.8,266.3 856,263.4 858.9,254.6 862.5,252.4 864.7,235.6 866.2,230.5 868.4,240 870.6,248 872.8,240 877.2,240 886,240 891,240.7 891.8,247.3 893.3,229.8 894.4,228.3 896.2,238.5 899.1,240 905,240 907.2,254.6 908.6,256.1 912.3,256.1 914.5,259.8 918.2,259.8 919.6,263.4 922.5,263.4 924.7,253.2 928.4,248 932.8,247.3 935,244.4 937.2,242.6 938.6,245.9 941.6,247.3 943.8,254.6 946,260.5 950.4,260.5 953.3,262 956.9,264.2 959.1,260.5 963.5,259.8 966.4,256.1 970.8,251.7 973.7,249.4 976.4,248.5 978.6,241.2 980.1,251.2 983.7,269.5 988.3,284.1 991,302.4 992.9,315.2 994.7,320.7 998.4,321.6 999.3,344.5 1001.1,348.2 1002.9,382.9 1004.8,428.6 1006,441.4 1007,452 1027.5,452 1028.5,441.4 1030.4,436.9 1033.1,436 1034.9,410.3 1036.8,413.1 1038.6,404.9 1041.3,404.5 1043.2,419.5 1045,439.6 1046,452 1078,452 1079.7,439.6 1085.2,435 1091.6,431.4 1096.2,415.8 1101.7,403 1106.3,390.2 1109,386.6 1112.7,373.8 1116.3,362.8 1120,351.8 1124.6,342.7 1128.2,339 1131,326.2 1134.6,324.4 1136.5,329 1139.7,331.7 1143.3,333.2 1146.2,338.3 1149.2,339 1152.8,348.5 1157.2,348.5 1161.6,353.7 1164.5,355.1 1167.5,352.9 1171.1,356.9 1174.8,353.7 1179.2,349.3 1182.1,339 1185.8,324.4 1189.4,323.7 1194.5,316.3 1198.9,305.4 1203.3,307.6 1207,301.7 1212.1,303.2 1217.2,306.1 1223.1,303.9 1226,304.6 1227.5,309.8 1231.9,306.1 1235.5,299.5 1238.4,292.2 1244.3,292.2 1247.2,284.9 1251.6,270.2 1255.3,265.1 1259.7,260.7 1263.3,262.2 1267.7,262.2 1269.9,273.2 1272.1,298 1277.2,298 1280.2,311.2 1283.1,327.3 1284.5,321.5 1288.9,321.5 1290.8,341.2 1292.6,318.5 1298.4,318.5 1302.1,320" stroke="#ff0000" stroke-width="2.4"/>
<path d="M1305.5,307.6 1307.5,307.6" stroke="#ff0000" stroke-width="2.4"/>
</g>
<rect x="799.2" y="97.2" width="5.4" height="4" fill="#4c566a"/>
<rect x="800.5" y="140.2" width="4.1" height="4" fill="#4c566a"/>
<rect x="799.2" y="183.2" width="5.4" height="4" fill="#4c566a"/>
<rect x="800.5" y="226.2" width="4.1" height="4" fill="#4c566a"/>
<rect x="799.2" y="269.2" width="5.4" height="4" fill="#4c566a"/>
<rect x="800.5" y="312.3" width="4.1" height="4" fill="#4c566a"/>
<rect x="799.2" y="355.3" width="5.4" height="4" fill="#4c566a"/>
<rect x="800.5" y="398.3" width="4.1" height="4" fill="#4c566a"/>
<rect x="799.2" y="441.3" width="5.4" height="4" fill="#4c566a"/>
<rect x="805.6" y="446.3" width="4" height="4.2" fill="#4c566a"/>
<rect x="847.6" y="446.3" width="4" height="4.2" fill="#4c566a"/>
<rect x="889.5" y="446.3" width="4" height="4.2" fill="#4c566a"/>
<rect x="931.5" y="446.3" width="4" height="4.2" fill="#4c566a"/>
<rect x="973.5" y="446.3" width="4" height="4.2" fill="#4c566a"/>
<rect x="1015.4" y="446.3" width="4" height="4.2" fill="#4c566a"/>
<rect x="1057.4" y="446.3" width="4" height="4.2" fill="#4c566a"/>
<rect x="1099.4" y="446.3" width="4" height="4.2" fill="#4c566a"/>
<rect x="1141.3" y="446.3" width="4" height="4.2" fill="#4c566a"/>
<rect x="1183.3" y="446.3" width="4" height="4.2" fill="#4c566a"/>
<rect x="1225.3" y="446.3" width="4" height="4.2" fill="#4c566a"/>
<rect x="1267.2" y="446.3" width="4" height="4.2" fill="#4c566a"/>
<rect x="1309.2" y="446.3" width="4" height="4.2" fill="#4c566a"/>
<rect x="807.6" y="99.2" width="503.6" height="344.1" fill="none" stroke="#4c566a" stroke-width="7" stroke-linejoin="round"/>
</g>
<g>
<line x1="408.3" y1="504.7" x2="408.3" y2="848.8" stroke="#4c566a" stroke-width="3.6"/>
<line x1="576" y1="504.7" x2="576" y2="848.8" stroke="#4c566a" stroke-width="3.6"/>
<line x1="240.5" y1="590.7" x2="743.8" y2="590.7" stroke="#4c566a" stroke-width="3.6"/>
<line x1="240.5" y1="762.8" x2="743.8" y2="762.8" stroke="#4c566a" stroke-width="3.6"/>
<clipPath id="c3"><rect x="240.5" y="504.7" width="503.3" height="344.1"/></clipPath>
<g clip-path="url(#c3)" fill="none" stroke-linejoin="round" stroke-linecap="round">
<path d="M243.9,603.6 247.4,605.4 250,598.3 255.3,598.3 260.6,591.3 269.4,586 272,594.8 276.4,607.1 281.7,614.2 288.7,617.7 292.2,619.4 292.2,693.2 290.4,682.6 285.2,668.6 280.8,654.5 276.4,642.3 271.1,652.8 269.4,680.9 266.7,680.9 263.2,686.2 258.8,677.4 253.6,663.3 248.3,649.3 243.9,644Z" fill="#b3b3b3" fill-opacity="0.62" stroke="none"/>
<path d="M324.7,587.8 329.1,570.3 331.7,552.7 333.5,549.2 335.2,573.8 337.9,577.3 341.4,565 344.9,556.2 347.5,538.6 348.8,524.6 351,528.1 352.8,538.6 354.5,531.6 357.2,536.9 359.8,545.7 362.5,558 366,570.3 369.5,580.8 373,589.6 376,592 384.4,591.3 390.5,558 395.8,530 395.8,500 397.6,517.6 404.6,517.6 407.9,517.6 410.5,526.3 416.7,526.3 422.8,531.6 424.6,545.7 428.1,533.4 435.1,529.9 444.8,529.9 446.5,547.4 448.3,533.4 452.7,545.7 459.7,556.2 466.7,568.5 473.8,580.8 479,582.5 486.1,593.1 493.1,600.1 500.1,608.9 507.1,621.2 514.2,631.7 521.2,644 526.4,645.8 531.7,652.8 538.7,659.8 545.8,661.6 554.5,663.3 561.6,666.8 567.7,666.8 572.1,658 575.9,651.2 581.7,638 587.6,626.3 593.4,621.2 599.3,619.8 605.1,622 609.5,623.4 613.9,613.2 618.3,608.8 622.7,610.2 624.9,613.2 628.5,604.4 632.9,601.5 637.3,598.5 641,597.1 644.6,602.9 647.6,610.2 650.5,613.2 654.9,611.7 659.3,605.9 663.7,601.5 669.5,600 672.4,595.6 675.4,592.7 679,595.6 682,585.4 686.3,580.2 691.5,583.9 695.9,589.8 698.8,597.1 702.4,604.4 706.1,603.7 710.5,601.5 714.1,607.3 717.8,614.6 720.7,615.4 722.9,621.2 725.1,614.6 729.5,611.7 733.9,610.2 739.8,605.9 743,604 743,650 739.8,651.2 736.8,654.1 732.4,655.6 728.8,658.5 725.1,655.6 720.7,651.2 716.3,649.8 712,645.4 707.6,641 703.2,635.1 697.3,639.5 692.9,645.4 688.5,652.7 686.3,657.8 684.2,631.5 682.7,633.7 680.5,657.1 677.6,651.2 673.9,645.4 670.2,641 665.1,638.8 660.7,635.9 656.3,636.6 650.5,642.4 644.6,646.8 638.8,649.8 632.9,652.7 628.5,655.6 624.9,664.4 621.2,668.8 616.8,668.8 612.4,671.7 608,680.5 603.7,687.8 598.5,690.7 593.4,687.8 587.6,683.4 581.7,683.4 575.9,684.9 568.6,687.9 561.6,691.4 554.5,696.7 547.5,702 542.3,706.4 537,705.5 533.5,702 528.2,693.2 526.4,683.5 522.9,684.4 519.4,680.9 512.4,673.9 507.1,666 501.9,665.1 498.3,661.6 491.3,649.3 484.3,637 479,628.2 476.4,635.2 472,621.2 468.5,615.9 466.7,631.7 465.9,615.9 463.2,630 458,617.7 454.4,611.5 450.9,614.2 446.5,621.2 442.1,614.2 436.9,601.9 433.4,591.3 429,586 424.6,589.6 419.3,601.9 414.9,609.8 410.5,607.1 407.9,603.6 404.6,598.3 401.1,615.9 398.5,619.4 395.8,633.5 394,626.4 391,621 388,630 385.3,635.2 381.8,615.9 376.5,614.2 373,605.4 367.7,594.8 362.5,598.3 358.9,612.4 355.4,633.5 352.8,654.5 351,644 348.4,668.6 346.6,693.2 344.4,717.8 342.3,707.2 338.7,716.9 334.4,712.5 330.8,684.4 327.3,658 324.7,631.9Z" fill="#b3b3b3" fill-opacity="0.62" stroke="none"/>
<path d="M243.9,622.9 248.3,621.2 253.6,612.4 258.8,605.4 265,595.7 268.5,605.4 271.1,603.6 273.8,614.2 278.2,621.2 281.7,624.7 282.5,623.7 282.5,640.5 279,638.7 275.5,633.5 273.8,640.5 269.4,656.3 265,664.2 258.8,656.3 253.6,652.8 248.3,645.8 243.9,644Z" fill="#abbac4" stroke="none"/>
<path d="M323.8,591.3 327.3,589.6 330.8,586 333.5,577.3 335.2,587.8 337.9,579 341.4,566.7 343.1,559.7 345.8,561.5 348.4,545.7 351.9,543.9 356.3,542.1 358.9,547.4 361.6,559.7 364.2,570.3 367.7,580.8 371.2,589.6 374.7,593.1 380,593.1 384.4,591.3 387,579 390.5,558 394,552.7 399.3,542.1 404.6,539.5 407.9,535.1 410.5,543.9 414,550.9 419.3,552.7 424.6,554.4 429.9,547.4 433.4,549.2 438.6,553.6 443.9,556.2 447.4,560.6 451.8,556.2 456.2,559.7 460.6,566.7 464.1,575.5 465.9,582.5 468.5,577.3 472,584.3 474.6,591.3 479,601.9 482.5,607.1 486.9,607.1 491.3,615.9 496.6,622.9 501.9,628.2 507.1,635.2 512.4,638.7 515.9,645.8 519.4,654.5 522.9,659.8 528.2,661.6 533.5,666.8 538.7,670.4 544,666.8 549.3,666 556.3,666.8 561.6,669.5 567.7,670.4 574.4,668.8 577.3,662.9 580.2,652.7 584.6,642.4 589,636.6 593.4,638.8 597.8,640.2 601.5,636.6 605.1,635.1 609.5,629.3 612.4,627.8 613.9,635.1 616.1,629.3 619.8,627.8 623.4,623.4 625.6,619 628.5,624.9 632.9,623.4 637.3,620.5 641.7,617.6 646.1,613.2 649.8,617.6 653.4,619 657.8,613.9 662.2,608.8 666.6,609.5 669.5,607.3 673.9,610.2 678.3,602.9 681.2,598.5 684.2,596.3 687.1,601.5 691.5,604.4 695.9,608.8 700.2,611.7 704.6,612.4 709,616.1 713.4,622 717.8,624.9 721.5,627.8 722.9,636.6 725.1,627.8 728.1,626.3 731,619 733.9,622 739.8,616.1 743,615 743,638 739.8,638.8 735.4,641 731.7,648.3 728.8,655.6 725.9,652.7 722.2,649 718.5,649.8 714.9,643.9 710.5,638 706.1,632.2 701.7,625.6 698.8,627.8 695.9,623.4 691.5,620.5 687.1,619 683.4,616.8 680.5,626.3 677.6,635.1 673.9,637.3 669.5,633.7 665.1,627.8 660.7,623.4 657.8,626.3 654.1,625.6 651.9,627.8 649.8,636.6 646.1,641 641.7,643.2 637.3,641 633.7,637.3 631.5,641 628.5,648.3 625.6,654.1 621.2,658.5 616.8,662.9 612.4,665.9 608,670.2 603.7,674.6 599.3,676.1 593.4,675.4 587.6,676.8 581.7,677.6 575.9,678.3 568.6,679.1 563.3,675.6 558.1,673 552.8,670.4 547.5,673.9 542.3,675.6 537.9,680 534.4,686.2 530,684.4 526.4,680.9 522.9,673 517.7,670.4 512.4,666.8 507.1,658 503.6,651 498.3,644 493.1,640.5 487.8,633.5 482.5,628.2 479,619.4 477.3,621.2 473.8,615.9 472,605.4 468.5,596.6 466.7,604.5 464.1,598.3 459.7,594.8 455.3,596.6 452.7,589.6 450.1,586 446.5,589.6 442.1,584.3 436.9,580.8 431.6,577.3 426.3,570.3 421.1,561.5 415.8,566.7 410.5,575.5 405.3,582.5 402.6,587.8 399.3,603.6 396.7,608.9 394,607.1 388.8,608.9 384.4,615 380,603.6 374.7,601 369.5,598.3 364.2,587.8 360.7,579 357.2,572 354,570.3 352.8,605.4 351.4,565 349.3,570.3 347.5,587.8 345.8,622.9 344.4,682.6 342.3,635.2 338.7,651 335.8,656.3 334.4,638.7 333.5,621.2 332.2,621.2 330.8,608.9 328.6,635.2 327.3,621.2 323.8,612.4Z" fill="#abbac4" stroke="none"/>
<path d="M283,645 292,678 295.7,693 293,693 289,680 283,660Z" fill="#000" fill-opacity="0.55" stroke="none"/>
<path d="M303.6,693 306.2,682 313.3,672 321.2,676 321.2,716 318,712 312,700 306,690Z" fill="#000" fill-opacity="0.6" stroke="none"/>
<path d="M282.5,630 289.6,627.5 291.5,648 294,665 298,680 301,688 303,688 306.5,672 310,658 313,640 316,628 320.3,612 321.2,676 313.3,672 306.2,682 303.6,694 295.7,694 292,678 286.9,660Z" fill="#000" stroke="none"/>
<path d="M243.9,603.6 247.4,605.4 250,598.3 255.3,598.3 260.6,591.3 269.4,586 272,594.8 276.4,607.1 281.7,614.2 288.7,617.7 292.2,619.4 297.5,625.6 302.7,617.7 304.5,608.9 305.4,575.5 308,554.4 309.8,533.4 311.2,505 314.2,505 315,517.6 317.7,535.1 320.3,556.2 322.9,575.5 324.7,587.8 329.1,570.3 331.7,552.7 333.5,549.2 335.2,573.8 337.9,577.3 341.4,565 344.9,556.2 347.5,538.6 348.8,524.6 351,528.1 352.8,538.6 354.5,531.6 357.2,536.9 359.8,545.7 362.5,558 366,570.3 369.5,580.8 373,589.6 374.7,587.8 375.6,535.1 376.6,535.1 377.4,600" stroke="#000" stroke-width="0.9"/>
<path d="M395.8,500 397.6,517.6 404.6,517.6 407.9,517.6 410.5,526.3 416.7,526.3 422.8,531.6 424.6,545.7 428.1,533.4 435.1,529.9 444.8,529.9 446.5,547.4 448.3,533.4 452.7,545.7 459.7,556.2 466.7,568.5 473.8,580.8 479,582.5 486.1,593.1 493.1,600.1 500.1,608.9 507.1,621.2 514.2,631.7 521.2,644 526.4,645.8 531.7,652.8 538.7,659.8 545.8,661.6 554.5,663.3 561.6,666.8 567.7,666.8 572.1,658 575.9,651.2 581.7,638 587.6,626.3 593.4,621.2 599.3,619.8 605.1,622 609.5,623.4 613.9,613.2 618.3,608.8 622.7,610.2 624.9,613.2 628.5,604.4 632.9,601.5 637.3,598.5 641,597.1 644.6,602.9 647.6,610.2 650.5,613.2 654.9,611.7 659.3,605.9 663.7,601.5 669.5,600 672.4,595.6 675.4,592.7 679,595.6 682,585.4 686.3,580.2 691.5,583.9 695.9,589.8 698.8,597.1 702.4,604.4 706.1,603.7 710.5,601.5 714.1,607.3 717.8,614.6 720.7,615.4 722.9,621.2 725.1,614.6 729.5,611.7 733.9,610.2 739.8,605.9 743,604" stroke="#000" stroke-width="0.9"/>
<path d="M243.9,644 248.3,649.3 253.6,663.3 258.8,677.4 263.2,686.2 266.7,680.9 269.4,680.9 271.1,652.8 276.4,642.3 280.8,654.5 285.2,668.6 290.4,682.6 292.2,693.2" stroke="#000" stroke-width="0.9"/>
<path d="M323.8,622.9 327.3,658 330.8,684.4 334.4,712.5 338.7,716.9 342.3,707.2 344.4,717.8 346.6,693.2 348.4,668.6 351,644 352.8,654.5 355.4,633.5 358.9,612.4 362.5,598.3 367.7,594.8 373,605.4 376.5,614.2 381.8,615.9 385.3,635.2 388,630 391,621 394,626.4 395.8,633.5 398.5,619.4 401.1,615.9 404.6,598.3 407.9,603.6 410.5,607.1 414.9,609.8 419.3,601.9 424.6,589.6 429,586 433.4,591.3 436.9,601.9 442.1,614.2 446.5,621.2 450.9,614.2 454.4,611.5 458,617.7 463.2,630 465.9,615.9 466.7,631.7 468.5,615.9 472,621.2 476.4,635.2 479,628.2 484.3,637 491.3,649.3 498.3,661.6 501.9,665.1 507.1,666 512.4,673.9 519.4,680.9 522.9,684.4 526.4,683.5 528.2,693.2 533.5,702 537,705.5 542.3,706.4 547.5,702 554.5,696.7 561.6,691.4 568.6,687.9 575.9,684.9 581.7,683.4 587.6,683.4 593.4,687.8 598.5,690.7 603.7,687.8 608,680.5 612.4,671.7 616.8,668.8 621.2,668.8 624.9,664.4 628.5,655.6 632.9,652.7 638.8,649.8 644.6,646.8 650.5,642.4 656.3,636.6 660.7,635.9 665.1,638.8 670.2,641 673.9,645.4 677.6,651.2 680.5,657.1 682.7,633.7 684.2,631.5 686.3,657.8 688.5,652.7 692.9,645.4 697.3,639.5 703.2,635.1 707.6,641 712,645.4 716.3,649.8 720.7,651.2 725.1,655.6 728.8,658.5 732.4,655.6 736.8,654.1 739.8,651.2 743,650" stroke="#000" stroke-width="0.9"/>
<path d="M314.5,505 314.5,623" stroke="#000" stroke-width="0.9"/>
<path d="M387.4,515 387.4,623" stroke="#000" stroke-width="0.9"/>
<path d="M258,630 258,655" stroke="#000" stroke-width="0.9"/>
<path d="M243.9,624.7 247.4,640.5 250.9,633.5 255.3,617.7 260.6,615.9 265.9,619.4 271.1,622.9 276.4,631.7 280.8,637" stroke="#fff" stroke-width="1.5"/>
<path d="M324.7,601.9 329.1,594.8 332.6,598.3 336.1,593.1 339.6,579 343.1,573.8 346.6,566.7 349.3,556.2 352.8,552.7 357.2,556.2 360.7,568.5 364.2,579 367.7,589.6 372.1,595.7 376.5,596.6 381.8,600.1 385.3,602.7 388.8,587.8 391.4,573.8 394,565 396.7,577.3 399.3,579.9 403.5,570.3 406.1,563.2 408.8,570.3 411.4,561.5 414.9,561.5 417.6,556.2 421.1,557 424.6,563.2 428.1,565 432.5,556.2 436,563.2 440.4,566.7 444.8,570.3 447.4,575.5 450.9,580.8 456.2,582.5 461.5,586 466.7,586.9 470.2,586 472.9,594.8 474.6,601.9 478.2,601.9 482.5,615.9 487.8,630 494.8,637 500.1,640.5 505.4,642.3 508.9,649.3 514.2,656.3 519.4,661.6 522.9,666.8 526.4,673.9 530,680.9 534.4,680 538.7,677.4 544,673 549.3,669.5 554.5,670.4 559.8,671.2 565.1,673 570.4,674.7 575.9,670.2 581.7,665.9 587.6,662.2 593.4,661.5 597.8,660 602.2,655.6 604.4,662.9 608,666.6 612.4,662.9 616.8,654.1 621.2,645.4 625.6,632.2 630,629.3 634.4,627.8 638.8,623.4 643.2,622.7 647.6,620.5 651.9,622 654.9,623.4 657.8,619 660.7,620.5 665.1,613.2 669.5,611.7 673.9,610.2 678.3,608.8 682.7,607.3 687.1,611.7 691.5,610.2 695.9,613.2 701.7,619 707.6,624.9 712,627.8 714.9,630.7 717.8,635.1 722.2,639.5 725.1,645.4 728.1,646.8 731,641 733.9,633.7 736.8,627.8 739.8,623.4 743,622" stroke="#fff" stroke-width="1.5"/>
<path d="M243.9,622.9 248.3,621.2 253.6,612.4 258.8,605.4 265,595.7 268.5,605.4 271.1,603.6 273.8,614.2 278.2,621.2 281.7,624.7 286.1,619.4 288.7,619.4" stroke="#000" stroke-width="3.6"/>
<path d="M323.8,591.3 327.3,589.6 330.8,586 333.5,577.3 335.2,587.8 337.9,579 341.4,566.7 343.1,559.7 345.8,561.5 348.4,545.7 351.9,543.9 356.3,542.1 358.9,547.4 361.6,559.7 364.2,570.3 367.7,580.8 371.2,589.6 374.7,593.1 380,593.1 384.4,591.3 387,579 390.5,558 394,552.7 399.3,542.1 404.6,539.5 407.9,535.1 410.5,543.9 414,550.9 419.3,552.7 424.6,554.4 429.9,547.4 433.4,549.2 438.6,553.6 443.9,556.2 447.4,560.6 451.8,556.2 456.2,559.7 460.6,566.7 464.1,575.5 465.9,582.5 468.5,577.3 472,584.3 474.6,591.3 479,601.9 482.5,607.1 486.9,607.1 491.3,615.9 496.6,622.9 501.9,628.2 507.1,635.2 512.4,638.7 515.9,645.8 519.4,654.5 522.9,659.8 528.2,661.6 533.5,666.8 538.7,670.4 544,666.8 549.3,666 556.3,666.8 561.6,669.5 567.7,670.4 574.4,668.8 577.3,662.9 580.2,652.7 584.6,642.4 589,636.6 593.4,638.8 597.8,640.2 601.5,636.6 605.1,635.1 609.5,629.3 612.4,627.8 613.9,635.1 616.1,629.3 619.8,627.8 623.4,623.4 625.6,619 628.5,624.9 632.9,623.4 637.3,620.5 641.7,617.6 646.1,613.2 649.8,617.6 653.4,619 657.8,613.9 662.2,608.8 666.6,609.5 669.5,607.3 673.9,610.2 678.3,602.9 681.2,598.5 684.2,596.3 687.1,601.5 691.5,604.4 695.9,608.8 700.2,611.7 704.6,612.4 709,616.1 713.4,622 717.8,624.9 721.5,627.8 722.9,636.6 725.1,627.8 728.1,626.3 731,619 733.9,622 739.8,616.1 743,615" stroke="#000" stroke-width="3.6"/>
<path d="M243.9,644 248.3,645.8 253.6,652.8 258.8,656.3 265,664.2 269.4,656.3 273.8,640.5 275.5,633.5 279,638.7 282.5,640.5 286.9,658 292.2,675.6 295.7,691.4 303.6,691.4 306.2,679.1 313.3,668.6 321.2,668.6" stroke="#000" stroke-width="3.6"/>
<path d="M321.2,612.4 323.8,612.4 327.3,621.2 328.6,635.2 330.8,608.9 332.2,621.2 333.5,621.2 334.4,638.7 335.8,656.3 338.7,651 342.3,635.2 344.4,682.6 345.8,622.9 347.5,587.8 349.3,570.3 351.4,565 352.8,605.4 354,570.3 357.2,572 360.7,579 364.2,587.8 369.5,598.3 374.7,601 380,603.6 384.4,615 388.8,608.9 394,607.1 396.7,608.9 399.3,603.6 402.6,587.8 405.3,582.5 410.5,575.5 415.8,566.7 421.1,561.5 426.3,570.3 431.6,577.3 436.9,580.8 442.1,584.3 446.5,589.6 450.1,586 452.7,589.6 455.3,596.6 459.7,594.8 464.1,598.3 466.7,604.5 468.5,596.6 472,605.4 473.8,615.9 477.3,621.2 479,619.4 482.5,628.2 487.8,633.5 493.1,640.5 498.3,644 503.6,651 507.1,658 512.4,666.8 517.7,670.4 522.9,673 526.4,680.9 530,684.4 534.4,686.2 537.9,680 542.3,675.6 547.5,673.9 552.8,670.4 558.1,673 563.3,675.6 568.6,679.1 575.9,678.3 581.7,677.6 587.6,676.8 593.4,675.4 599.3,676.1 603.7,674.6 608,670.2 612.4,665.9 616.8,662.9 621.2,658.5 625.6,654.1 628.5,648.3 631.5,641 633.7,637.3 637.3,641 641.7,643.2 646.1,641 649.8,636.6 651.9,627.8 654.1,625.6 657.8,626.3 660.7,623.4 665.1,627.8 669.5,633.7 673.9,637.3 677.6,635.1 680.5,626.3 683.4,616.8 687.1,619 691.5,620.5 695.9,623.4 698.8,627.8 701.7,625.6 706.1,632.2 710.5,638 714.9,643.9 718.5,649.8 722.2,649 725.9,652.7 728.8,655.6 731.7,648.3 735.4,641 739.8,638.8 743,638" stroke="#000" stroke-width="3.6"/>
<path d="M243.9,623.8 248.3,621.2 251.5,616.8 253.6,622.9 258,620.3 262.3,619.8 267.6,622.9 271.1,626.4 273.8,624.7 277.3,629.1 280.8,630.8 285.2,627.3 289.6,626.4 291.3,644 293.1,654.5 295.7,666.8 298.3,677.4 301,685.3 302.7,684.4 306.2,668.6 309.8,654.5 312.4,644 313.3,630 316.8,614.2 320.3,600.1 323.8,584.3 326.4,570.3 329.1,561.5 331.7,545.7 333.5,535.1" stroke="#ff0000" stroke-width="2.4"/>
<path d="M377.4,535.1 379.1,566.7 380.9,596.6 382.6,626.4 385.3,651 388.8,642.3 392.3,633.5 394.9,644 396.7,651.9 399.3,640.5 401.8,619.4 404.4,598.3 407,582.5 410.5,575.5 415.8,566.7 421.1,560.6 426.3,552.7 429.9,543.9 433.4,538.6 436.9,536.9 439.5,537.2 442.1,534.2 445.7,531.6 448.3,533.4 450.9,540.4 454.4,549.2 459.7,559.7 465,570.3 470.2,579 473.8,586 477.3,596.6 480.8,608.9 484.3,619.4 487.8,631.7 491.3,637 495.7,641.4 501.9,646.6 507.1,652.8 512.4,658 515,658.9 519.4,655.4 522.9,652.8 526.4,651.9 530,654.5 533.5,659.8 537,666.8 540.5,673.9 544,677.4 547.5,678.3 551.9,675.6 556.3,671.2 560.7,668.6 565.1,670.4 568.6,673.9 573,676.5 575.9,676.8 580.2,679 584.6,681.2 589,678.3 593.4,676.1 597.8,677.6 602.2,677.6 606.6,673.2 611,667.3 615.4,658.5 619.8,648.3 624.1,638 628.5,629.3 632.2,624.1 637.3,620.5 641.7,617.6 646.1,610.2 649.8,604.4 654.1,602.9 659.3,602.2 663.7,604.4 668.1,610.2 672.4,612.4 675.4,610.2 679,608.8 683.4,605.1 687.1,603.7 690,605.9 694.4,611.7 698.8,615.4 703.2,617.6 707.6,622 712,624.9 716.3,627.8 720,635.1 723.7,646.8 727.3,658.5 731,665.9 733.9,671.7 736.8,672.4 739.8,680.5" stroke="#ff0000" stroke-width="2.4"/>
</g>
<rect x="232.1" y="502.7" width="5.4" height="4" fill="#4c566a"/>
<rect x="233.4" y="545.7" width="4.1" height="4" fill="#4c566a"/>
<rect x="232.1" y="588.7" width="5.4" height="4" fill="#4c566a"/>
<rect x="233.4" y="631.7" width="4.1" height="4" fill="#4c566a"/>
<rect x="232.1" y="674.8" width="5.4" height="4" fill="#4c566a"/>
<rect x="233.4" y="717.8" width="4.1" height="4" fill="#4c566a"/>
<rect x="232.1" y="760.8" width="5.4" height="4" fill="#4c566a"/>
<rect x="233.4" y="803.8" width="4.1" height="4" fill="#4c566a"/>
<rect x="232.1" y="846.8" width="5.4" height="4" fill="#4c566a"/>
<rect x="238.5" y="851.8" width="4" height="4.2" fill="#4c566a"/>
<rect x="280.4" y="851.8" width="4" height="4.2" fill="#4c566a"/>
<rect x="322.4" y="851.8" width="4" height="4.2" fill="#4c566a"/>
<rect x="364.3" y="851.8" width="4" height="4.2" fill="#4c566a"/>
<rect x="406.3" y="851.8" width="4" height="4.2" fill="#4c566a"/>
<rect x="448.2" y="851.8" width="4" height="4.2" fill="#4c566a"/>
<rect x="490.1" y="851.8" width="4" height="4.2" fill="#4c566a"/>
<rect x="532.1" y="851.8" width="4" height="4.2" fill="#4c566a"/>
<rect x="574" y="851.8" width="4" height="4.2" fill="#4c566a"/>
<rect x="616" y="851.8" width="4" height="4.2" fill="#4c566a"/>
<rect x="657.9" y="851.8" width="4" height="4.2" fill="#4c566a"/>
<rect x="699.9" y="851.8" width="4" height="4.2" fill="#4c566a"/>
<rect x="741.8" y="851.8" width="4" height="4.2" fill="#4c566a"/>
<rect x="240.5" y="504.7" width="503.3" height="344.1" fill="none" stroke="#4c566a" stroke-width="7" stroke-linejoin="round"/>
<rect x="208.5" y="585" width="31.5" height="11.4" fill="#333"/>
<rect x="208.5" y="757.1" width="31.5" height="11.4" fill="#333"/>
</g>
<g>
<line x1="975.5" y1="504.7" x2="975.5" y2="848.8" stroke="#4c566a" stroke-width="3.6"/>
<line x1="1143.3" y1="504.7" x2="1143.3" y2="848.8" stroke="#4c566a" stroke-width="3.6"/>
<line x1="807.6" y1="590.7" x2="1311.2" y2="590.7" stroke="#4c566a" stroke-width="3.6"/>
<line x1="807.6" y1="762.8" x2="1311.2" y2="762.8" stroke="#4c566a" stroke-width="3.6"/>
<clipPath id="c4"><rect x="807.6" y="504.7" width="503.6" height="344.1"/></clipPath>
<g clip-path="url(#c4)" fill="none" stroke-linejoin="round" stroke-linecap="round">
<path d="M811.3,624.9 815.7,620.5 820.1,618.3 823,616.1 827.4,616.8 830.3,613.2 834.7,616.8 839.1,613.9 843.5,612.4 847.9,615.4 850.8,613.9 850.8,641.7 847.9,643.2 843.5,646.1 839.8,649 836.2,656.3 833.3,660.7 828.1,663.7 825.2,672.4 823,682.7 820.1,685.6 817.9,688.5 815.7,698.8 812.8,691.5 811.3,697.3Z" fill="#b3b3b3" fill-opacity="0.62" stroke="none"/>
<path d="M891.8,598 894.7,597.1 899.1,595.6 902,598.5 906.4,600 911.6,597.1 915.2,600 918.2,597.1 922.5,600.7 928.4,602.9 932.8,602.2 937.2,605.1 941.6,602.9 946,602.2 950.4,606.6 956.2,609.5 962,612.4 966.4,619.8 970.1,612.4 973.8,616.8 975.7,618.5 983.3,621.4 990.9,620.4 996.6,624.2 1001.4,630 1004.2,624.2 1009,631.9 1013.8,630 1017.6,639.5 1022.3,645.2 1027.1,658.5 1030.9,654.7 1034.7,646.1 1040.4,650.9 1046.1,662.3 1052.8,669 1056.6,665.2 1058.5,656.6 1061.3,662.3 1067,665.2 1074.7,661.4 1080.4,662.3 1084.2,669 1088,662.3 1093.7,659.4 1101.3,658.5 1107,651.8 1116.5,648 1124.1,654.7 1131.7,650.9 1139.3,654.7 1143.3,656.3 1149.2,658.5 1155,655.6 1160.9,654.9 1166.7,650.5 1171.1,649.8 1175.5,647.6 1179.2,651.2 1184.3,647.6 1188.7,645.4 1193.1,639.5 1198.9,638 1204.8,638.8 1210.6,637.3 1216.5,634.4 1220.9,632.9 1225.3,630 1231.1,627.8 1237,627.8 1241.4,629.3 1245.8,630.7 1249.4,628.5 1254.5,632.9 1257.5,637.3 1260.4,635.1 1264.8,639.5 1269.2,642.4 1272.8,639.5 1276.5,645.4 1279.4,647.6 1281.6,645.4 1283.8,652 1286.7,640.2 1291.1,641 1298.4,640.2 1299.9,647.6 1302.1,638.8 1305.8,632.9 1308,627.1 1308,695.9 1305.8,687.1 1302.8,682.7 1300.6,703.2 1298.4,697.3 1296.2,687.1 1294,695.9 1289.7,698.8 1285.3,697.3 1282.3,701.7 1280.2,718.5 1277.2,709 1275,712.7 1272.1,709 1269.2,694.4 1267,687.1 1264.8,698.8 1261.9,691.5 1258.9,679.8 1256,682.7 1250.2,684.2 1245.8,685.6 1241.4,687.8 1235.5,687.1 1231.1,682.7 1226.7,681.2 1223.1,675.4 1220.1,671 1217.2,672.4 1213.6,679 1209.2,679.8 1204.8,682.7 1200.4,685.6 1196,688.5 1192.3,697.3 1188.7,707.6 1184.3,710.5 1181.4,716.3 1177.7,722.9 1173.3,722.9 1171.1,717.8 1168.2,714.2 1163.8,711.2 1159.4,712 1155,709 1150.6,701.7 1147.7,703.2 1143.3,706.1 1137.4,708.9 1133.6,704.2 1127.9,704.2 1122.2,696.6 1120.3,711.8 1116.5,721.3 1114.6,715.6 1110.8,738.4 1105.1,740.3 1101.3,747.9 1095.6,759.3 1089.9,763.1 1085.1,768.9 1080.4,761.2 1076.6,768.9 1072.7,780.3 1069.9,773.6 1067,778.4 1065.1,768.9 1061.3,770.8 1057.5,765 1051.8,766.9 1046.1,763.1 1042.3,755.5 1040.4,768.9 1037.5,761.2 1034.7,747.9 1030.9,730.8 1027.1,713.7 1023.3,715.6 1019.5,702.3 1015.7,700.4 1010,695.6 1004.2,692.7 998.5,688.9 992.8,675.6 988.1,671.8 985.2,666.1 977.6,662.3 972.3,661.5 967.2,662.2 965,657.8 959.1,659.3 954.7,661.5 950.4,663.7 947.4,658.5 943,656.3 938.6,654.9 934.2,653.4 931.3,649 929.1,638.8 926.9,647.6 924.7,635.9 922.5,634.4 918.2,630 914.5,628.5 910.8,619.8 907.9,612.4 905,613.9 902,621.2 899.1,624.1 895.5,627.1 891.8,632.9Z" fill="#b3b3b3" fill-opacity="0.62" stroke="none"/>
<path d="M811.3,634.4 814.2,635.9 817.2,637.3 820.1,630 823,626.3 826,624.9 828.9,630 831.1,632.9 834.7,627.1 837.7,621.2 840.6,624.1 843.5,622.7 847.9,621.2 850.8,620.5 850.8,634.4 846.4,635.9 842,637.3 837.7,638.8 835.5,646.1 833.3,652 828.9,654.9 824.5,657.8 822.3,669.5 819.4,656.3 817.2,672.4 815,657.8 812.8,675.4 811.3,657.8Z" fill="#abbac4" stroke="none"/>
<path d="M894.7,606.9 895.5,606.6 899.9,602.9 905,605.1 909.4,606.6 915.2,608.8 921.1,609.5 925.5,611.7 928.4,608.8 932.8,611 937.2,612.4 941.6,613.9 946,613.9 950.4,618.3 953.3,624.1 957.7,624.1 962,625.6 966.4,626.3 970.8,625.6 975.7,628.1 981.4,631.9 987.1,637.6 992.8,640.4 998.5,641.4 1004.2,638.5 1008.1,643.3 1012.8,652.8 1016.6,656.6 1019.5,666.1 1025.2,673.7 1030.9,671.8 1034.7,679.4 1039.5,686.1 1045.2,687 1048,681.3 1053.7,681.3 1059.4,680.4 1063.2,678.5 1068.9,682.3 1074.7,679.4 1077.5,677.5 1083.2,683.2 1088,677.5 1093.7,677.5 1099.4,671.8 1105.1,668 1110.8,666.1 1116.5,669 1122.2,668 1127.9,665.2 1133.6,665.2 1139.3,662.3 1143.3,661.5 1149.2,663.7 1155,665.9 1160.9,662.9 1166.7,661.5 1172.6,660 1178.4,662.2 1184.3,658.5 1190.1,655.6 1196,654.9 1201.8,653.4 1206.2,649.8 1210.6,646.8 1216.5,647.6 1222.3,646.8 1225.3,643.2 1228.2,641 1231.9,642.4 1237,647.6 1241.4,649.8 1245.8,652 1251.6,649.8 1256,649 1260.4,653.4 1263.3,657.8 1266.3,662.2 1269.2,656.3 1272.8,649 1275,660.7 1278.7,653.4 1281.6,657.8 1283.8,663.7 1286.7,652 1291.1,647.6 1295.5,649 1298.4,649 1300.6,663.7 1302.8,654.9 1305.8,649.8 1308,649.8 1308,675.4 1305.8,671 1302.8,675.4 1299.9,682.7 1297,675.4 1294,681.2 1291.1,675.4 1288.2,676.8 1285.3,685.6 1282.3,675.4 1280.9,684.2 1276.5,681.2 1272.1,682.7 1267.7,676.8 1264.8,673.9 1260.4,672.4 1256,669.5 1251.6,668.8 1247.2,666.6 1244.3,671 1241.4,667.3 1238.4,665.1 1235.5,670.2 1231.1,668.1 1226.7,665.9 1222.3,663.7 1218,661.5 1212.1,662.2 1207.7,664.4 1203.3,668.1 1200.4,674.6 1196,678.3 1191.6,679 1185.8,682 1179.9,684.9 1175.5,687.1 1171.1,688.5 1166.7,690.7 1163.1,693.7 1159.4,688.5 1155,685.6 1150.6,686.3 1146.2,685.6 1141.9,682 1139.3,684.2 1133.6,687 1127.9,688.9 1122.2,693.7 1116.5,694.6 1110.8,696.6 1105.1,706.1 1101.3,715.6 1097.5,722.2 1093.7,721.3 1089.9,716.5 1086.1,719.4 1082.3,723.2 1078.5,731.8 1073.7,721.3 1070.8,723.2 1068,717.5 1065.1,723.2 1061.3,725.1 1058.5,736.5 1054.7,739.4 1049.9,744.1 1046.1,744.1 1043.3,732.7 1039.5,725.1 1035.6,715.6 1030.9,704.2 1026.1,688.9 1021.4,685.1 1015.7,685.1 1010,683.2 1004.2,681.3 998.5,676.6 992.8,668 987.1,656.6 981.4,647.1 975.7,643.3 973.8,641.7 969.4,642.4 965,641 960.6,640.2 956.2,638 953.3,640.2 948.9,638.8 944.5,638 940.1,635.9 935.7,636.6 931.3,632.9 926.9,627.8 922.5,624.1 918.2,617.6 913.8,615.4 909.4,612.4 905,609.8 900.6,610.2 897.7,613.9 894.7,619.8Z" fill="#abbac4" stroke="none"/>
<path d="M811.3,624.9 815.7,620.5 820.1,618.3 823,616.1 827.4,616.8 830.3,613.2 834.7,616.8 839.1,613.9 843.5,612.4 847.9,615.4 850.8,613.9" stroke="#000" stroke-width="0.9"/>
<path d="M890.3,598.5 894.7,597.1 899.1,595.6 902,598.5 906.4,600 911.6,597.1 915.2,600 918.2,597.1 922.5,600.7 928.4,602.9 932.8,602.2 937.2,605.1 941.6,602.9 946,602.2 950.4,606.6 956.2,609.5 962,612.4 966.4,619.8 970.1,612.4 973.8,616.8 975.7,618.5 983.3,621.4 990.9,620.4 996.6,624.2 1001.4,630 1004.2,624.2 1009,631.9 1013.8,630 1017.6,639.5 1022.3,645.2 1027.1,658.5 1030.9,654.7 1034.7,646.1 1040.4,650.9 1046.1,662.3 1052.8,669 1056.6,665.2 1058.5,656.6 1061.3,662.3 1067,665.2 1074.7,661.4 1080.4,662.3 1084.2,669 1088,662.3 1093.7,659.4 1101.3,658.5 1107,651.8 1116.5,648 1124.1,654.7 1131.7,650.9 1139.3,654.7 1143.3,656.3 1149.2,658.5 1155,655.6 1160.9,654.9 1166.7,650.5 1171.1,649.8 1175.5,647.6 1179.2,651.2 1184.3,647.6 1188.7,645.4 1193.1,639.5 1198.9,638 1204.8,638.8 1210.6,637.3 1216.5,634.4 1220.9,632.9 1225.3,630 1231.1,627.8 1237,627.8 1241.4,629.3 1245.8,630.7 1249.4,628.5 1254.5,632.9 1257.5,637.3 1260.4,635.1 1264.8,639.5 1269.2,642.4 1272.8,639.5 1276.5,645.4 1279.4,647.6 1281.6,645.4 1283.8,652 1286.7,640.2 1291.1,641 1298.4,640.2 1299.9,647.6 1302.1,638.8 1305.8,632.9 1308,627.1" stroke="#000" stroke-width="0.9"/>
<path d="M811.3,697.3 812.8,691.5 815.7,698.8 817.9,688.5 820.1,685.6 823,682.7 825.2,672.4 828.1,663.7 833.3,660.7 836.2,656.3 839.8,649 843.5,646.1 847.9,643.2 850.8,641.7" stroke="#000" stroke-width="0.9"/>
<path d="M891.8,632.9 895.5,627.1 899.1,624.1 902,621.2 905,613.9 907.9,612.4 910.8,619.8 914.5,628.5 918.2,630 922.5,634.4 924.7,635.9 926.9,647.6 929.1,638.8 931.3,649 934.2,653.4 938.6,654.9 943,656.3 947.4,658.5 950.4,663.7 954.7,661.5 959.1,659.3 965,657.8 967.2,662.2 972.3,661.5 977.6,662.3 985.2,666.1 988.1,671.8 992.8,675.6 998.5,688.9 1004.2,692.7 1010,695.6 1015.7,700.4 1019.5,702.3 1023.3,715.6 1027.1,713.7 1030.9,730.8 1034.7,747.9 1037.5,761.2 1040.4,768.9 1042.3,755.5 1046.1,763.1 1051.8,766.9 1057.5,765 1061.3,770.8 1065.1,768.9 1067,778.4 1069.9,773.6 1072.7,780.3 1076.6,768.9 1080.4,761.2 1085.1,768.9 1089.9,763.1 1095.6,759.3 1101.3,747.9 1105.1,740.3 1110.8,738.4 1114.6,715.6 1116.5,721.3 1120.3,711.8 1122.2,696.6 1127.9,704.2 1133.6,704.2 1137.4,708.9 1143.3,706.1 1147.7,703.2 1150.6,701.7 1155,709 1159.4,712 1163.8,711.2 1168.2,714.2 1171.1,717.8 1173.3,722.9 1177.7,722.9 1181.4,716.3 1184.3,710.5 1188.7,707.6 1192.3,697.3 1196,688.5 1200.4,685.6 1204.8,682.7 1209.2,679.8 1213.6,679 1217.2,672.4 1220.1,671 1223.1,675.4 1226.7,681.2 1231.1,682.7 1235.5,687.1 1241.4,687.8 1245.8,685.6 1250.2,684.2 1256,682.7 1258.9,679.8 1261.9,691.5 1264.8,698.8 1267,687.1 1269.2,694.4 1272.1,709 1275,712.7 1277.2,709 1280.2,718.5 1282.3,701.7 1285.3,697.3 1289.7,698.8 1294,695.9 1296.2,687.1 1298.4,697.3 1300.6,703.2 1302.8,682.7 1305.8,687.1 1308,695.9" stroke="#000" stroke-width="0.9"/>
<path d="M851,609.8 852.6,615.4 854.2,608.6 855.4,616.2 856.6,609.6 857.7,614.3 858.8,607.5 860.2,612.6 861.7,605.7 862.9,614 864.6,607.3 866.3,610.8 867.9,606.8 869.5,611.7 871.2,603.8 872.8,609.5 874.2,601.4 875.5,609.5 876.6,601.7 878.2,605.5 879.8,598.5 881.4,608.4 882.9,597.1 884.1,607.4 885.5,596.1 886.9,604.9 888.2,595.6 889.6,605.7 890.7,596.8" stroke="#000" stroke-width="0.9"/>
<path d="M851,636.5 852.5,645.9 854.1,636.8 855.2,645.3 856.6,636.7 858.1,646.7 859.6,635.4 860.7,644 861.9,635.8 863.4,645.1 864.4,636.9 865.9,647.2" stroke="#000" stroke-width="0.9"/>
<path d="M866,640.1 866.6,653.8 867.4,641.9 868,655.4 869,642 870.2,669.3 871,641.1 871.8,659.5" stroke="#000" stroke-width="0.9"/>
<path d="M872.5,631.9 873.9,641.9 875.2,630.7 876.8,640.9 878.3,627.1 879.5,638.7 880.6,629.4 881.9,635 883.6,625.5 885.4,632.7 886.9,622.7 888.3,631.7 889.5,622.3 890.7,631.7" stroke="#000" stroke-width="0.9"/>
<path d="M811.3,640.2 815,646.1 818.6,638.8 821.6,643.2 824.5,637.3 828.9,640.2 833.3,637.3 837.7,631.5 842,628.5 846.4,627.1 850.8,625.6" stroke="#fff" stroke-width="1.5"/>
<path d="M891.8,613.9 896.2,611 900.6,608 906.4,609.5 912.3,611.7 918.2,613.9 924,616.8 928.4,615.4 932.8,613.9 935.7,618.3 940.1,622.7 944.5,627.1 948.9,630 953.3,630 957.7,631.5 962,632.9 966.4,630.7 970.1,629.3 973.8,632.9 975.7,632.8 981.4,636.6 987.1,645.2 992.8,652.8 998.5,656.6 1004.2,663.3 1010,666.1 1015.7,673.7 1021.4,679.4 1027.1,683.2 1032.8,687 1038.5,698.5 1042.3,708 1046.1,717.5 1049.9,721.3 1052.8,713.7 1055.2,701.3 1057.9,713.7 1061.3,708 1067,698.5 1072.7,688 1076.6,692.7 1082.3,699.4 1088,700.4 1093.7,706.1 1099.4,698.5 1103.2,685.1 1107,678.5 1114.6,675.6 1120.3,679.4 1126,683.2 1131.7,681.3 1137.4,673.7 1140.4,669.5 1144.8,668.1 1149.2,671 1153.6,672.4 1158,673.9 1162.3,677.6 1166.7,676.8 1171.1,679.8 1174,672.4 1178.4,668.1 1182.8,671 1187.2,665.1 1191.6,660.7 1196,663.7 1200.4,660.7 1204.8,657.1 1209.2,654.9 1213.6,652 1219.4,651.2 1223.8,652.7 1228.2,657.8 1232.6,659.3 1238.4,656.3 1244.3,657.1 1248,656.3 1250.2,662.2 1254.5,663.7 1258.9,665.1 1263.3,663.7 1267.7,666.6 1273.6,668.8 1279.4,669.5 1285.3,669.5 1289.7,668.1 1291.9,662.2 1294,669.5 1296.2,662.2 1299.9,669.5 1304.3,666.6 1308,666.6" stroke="#fff" stroke-width="1.5"/>
<path d="M811.3,634.4 814.2,635.9 817.2,637.3 820.1,630 823,626.3 826,624.9 828.9,630 831.1,632.9 834.7,627.1 837.7,621.2 840.6,624.1 843.5,622.7 847.9,621.2 850.8,620.5" stroke="#000" stroke-width="3.6"/>
<path d="M891.8,608 895.5,606.6 899.9,602.9 905,605.1 909.4,606.6 915.2,608.8 921.1,609.5 925.5,611.7 928.4,608.8 932.8,611 937.2,612.4 941.6,613.9 946,613.9 950.4,618.3 953.3,624.1 957.7,624.1 962,625.6 966.4,626.3 970.8,625.6 975.7,628.1 981.4,631.9 987.1,637.6 992.8,640.4 998.5,641.4 1004.2,638.5 1008.1,643.3 1012.8,652.8 1016.6,656.6 1019.5,666.1 1025.2,673.7 1030.9,671.8 1034.7,679.4 1039.5,686.1 1045.2,687 1048,681.3 1053.7,681.3 1059.4,680.4 1063.2,678.5 1068.9,682.3 1074.7,679.4 1077.5,677.5 1083.2,683.2 1088,677.5 1093.7,677.5 1099.4,671.8 1105.1,668 1110.8,666.1 1116.5,669 1122.2,668 1127.9,665.2 1133.6,665.2 1139.3,662.3 1143.3,661.5 1149.2,663.7 1155,665.9 1160.9,662.9 1166.7,661.5 1172.6,660 1178.4,662.2 1184.3,658.5 1190.1,655.6 1196,654.9 1201.8,653.4 1206.2,649.8 1210.6,646.8 1216.5,647.6 1222.3,646.8 1225.3,643.2 1228.2,641 1231.9,642.4 1237,647.6 1241.4,649.8 1245.8,652 1251.6,649.8 1256,649 1260.4,653.4 1263.3,657.8 1266.3,662.2 1269.2,656.3 1272.8,649 1275,660.7 1278.7,653.4 1281.6,657.8 1283.8,663.7 1286.7,652 1291.1,647.6 1295.5,649 1298.4,649 1300.6,663.7 1302.8,654.9 1305.8,649.8 1308,649.8" stroke="#000" stroke-width="3.6"/>
<path d="M811.3,657.8 812.8,675.4 815,657.8 817.2,672.4 819.4,656.3 822.3,669.5 824.5,657.8 828.9,654.9 833.3,652 835.5,646.1 837.7,638.8 842,637.3 846.4,635.9 850.8,634.4" stroke="#000" stroke-width="3.6"/>
<path d="M894.7,619.8 897.7,613.9 900.6,610.2 905,609.8 909.4,612.4 913.8,615.4 918.2,617.6 922.5,624.1 926.9,627.8 931.3,632.9 935.7,636.6 940.1,635.9 944.5,638 948.9,638.8 953.3,640.2 956.2,638 960.6,640.2 965,641 969.4,642.4 973.8,641.7 975.7,643.3 981.4,647.1 987.1,656.6 992.8,668 998.5,676.6 1004.2,681.3 1010,683.2 1015.7,685.1 1021.4,685.1 1026.1,688.9 1030.9,704.2 1035.6,715.6 1039.5,725.1 1043.3,732.7 1046.1,744.1 1049.9,744.1 1054.7,739.4 1058.5,736.5 1061.3,725.1 1065.1,723.2 1068,717.5 1070.8,723.2 1073.7,721.3 1078.5,731.8 1082.3,723.2 1086.1,719.4 1089.9,716.5 1093.7,721.3 1097.5,722.2 1101.3,715.6 1105.1,706.1 1110.8,696.6 1116.5,694.6 1122.2,693.7 1127.9,688.9 1133.6,687 1139.3,684.2 1141.9,682 1146.2,685.6 1150.6,686.3 1155,685.6 1159.4,688.5 1163.1,693.7 1166.7,690.7 1171.1,688.5 1175.5,687.1 1179.9,684.9 1185.8,682 1191.6,679 1196,678.3 1200.4,674.6 1203.3,668.1 1207.7,664.4 1212.1,662.2 1218,661.5 1222.3,663.7 1226.7,665.9 1231.1,668.1 1235.5,670.2 1238.4,665.1 1241.4,667.3 1244.3,671 1247.2,666.6 1251.6,668.8 1256,669.5 1260.4,672.4 1264.8,673.9 1267.7,676.8 1272.1,682.7 1276.5,681.2 1280.9,684.2 1282.3,675.4 1285.3,685.6 1288.2,676.8 1291.1,675.4 1294,681.2 1297,675.4 1299.9,682.7 1302.8,675.4 1305.8,671 1308,675.4" stroke="#000" stroke-width="3.6"/>
<path d="M851,617.3 852.6,621 854,616.2 855.6,622.4 857.1,615.3 858.9,621.9 860.2,612.2 862,618.8 863.1,614.2 865,617.7 866.6,609.9 867.7,617.1 868.8,609.2 870,617.9 871.5,608.9 873.3,614.9 874.9,607.8 876.6,613.8 877.9,608.3 879.8,611.1 881.5,599.7 882.8,611.4 883.9,600.5 885.3,607.4 886.7,601.3 888.5,611.2 889.7,600.7 891.2,607" stroke="#000" stroke-width="3.6"/>
<path d="M851,633.3 852.6,638.1 853.8,631.7 855.2,639.2 857,633.4 858.6,638.3 860.2,631.4 861.7,639.5 863.5,630.7 865.3,639.7 867,631.3 868.4,636.8 869.5,629.5 871.3,636.5 872.5,631.2 874.4,636.4 875.8,626.6 877.1,633.3 878.3,627.3 879.4,633.7 881.2,624.7 882.6,630.2 884.1,623 885.2,628.1 887.1,623.2 888.8,626.9 890.1,620.6 891.8,625.6 893.1,617.9" stroke="#000" stroke-width="3.6"/>
<path d="M811.3,671 817.2,671 818.6,674.6 820.8,675.4 823,679.8 825.2,675.4 826.7,672.4 828.9,662.2 837.7,661.9 839.1,643.2 841.3,626.3 843.8,626.3 845.7,637.3 849.4,635.9 853,630.7 858.2,630.7 860.3,634.4 861.8,640.2 865.5,640.2 867.2,625.6 869.1,622.7 872.8,621.2 883,621.2 888.2,619.8 891.8,618.3 896.2,618.3" stroke="#ff0000" stroke-width="2.4"/>
<path d="M908.6,609.5 920.3,609.5 921.1,621.2 922.5,635.9 924.7,646.1 926.6,651.7 932.1,652 933.5,657.8 935.7,668.1 937.2,679.8 937.9,693.7 942.3,692.9 945.2,690 948.2,690 950.4,678.3 953.3,671 956.2,665.1 960.6,661.5 963.5,657.8 966.4,651.2 970.8,644.6 973.8,639.5 978.6,630 984.3,623.3 990.9,618.5 998.5,617.6 1006.2,618.9 1013.8,620.1 1015.7,631.9 1017.6,645.2 1020.4,654.7 1023.3,669.9 1025.2,688.9 1027.1,711.8 1028.6,734.6 1029.9,750.8 1033.7,751.4 1035.6,765 1037.5,780.3 1039.5,805 1041.4,806.9 1042.9,831.6 1044.2,832.6 1045.7,843.1 1047.1,842.1 1049,833.6 1051.8,831.6 1054.7,836.4 1056.6,836.4 1058.5,838.3 1061.3,838.3 1064.2,835.5 1067,827.8 1068.9,822.1 1070.8,808.8 1072.7,795.5 1074.7,780.3 1077.5,768.9 1080.4,757.4 1084.2,747.9 1087,740.3 1088.9,729.9 1093.7,731.8 1100.3,732.7 1100.9,736.5 1103.2,719.4 1106,706.1 1109.8,705.1 1112.7,694.6 1118.4,693.7 1124.1,694.6 1128.9,688.9 1133.6,681.3 1138.4,677.9 1143.3,678 1146.2,684.2 1148.4,690 1150.6,700.2 1152.8,707.6 1155.8,709.8 1158.7,722.2 1161.6,722.9 1164.5,731 1167.5,739.8 1170.4,744.9 1171.9,745.6 1174,754.4 1175.8,759.5 1178.4,756.6 1181.4,752.9 1184.3,745.6 1186.5,741.2 1189.4,740.5 1192.3,731 1196.7,728.1 1199.7,722.2 1202.6,720 1204.8,709 1207.7,703.2 1210.6,699.5 1215.8,698 1218,694.4 1220.9,685.6 1223.8,679.8 1226.7,677.6 1229.7,681.2 1232.6,682 1235.5,685.6 1239.9,687.1 1245,688.5 1249.4,686.3 1253.8,686.3 1256,676.8 1258.9,662.2 1261.9,661.9 1264.8,672.4 1267.7,690 1269.9,684.9 1275.8,684.9 1278.7,691.5 1280.9,697.3 1283.8,703.2 1285.3,704.6 1286.7,690 1288.9,690 1289.4,703.2 1294.8,703.2" stroke="#ff0000" stroke-width="2.4"/>
<path d="M1297.7,692.9 1301.4,692.9" stroke="#ff0000" stroke-width="2.4"/>
</g>
<rect x="799.2" y="502.7" width="5.4" height="4" fill="#4c566a"/>
<rect x="800.5" y="545.7" width="4.1" height="4" fill="#4c566a"/>
<rect x="799.2" y="588.7" width="5.4" height="4" fill="#4c566a"/>
<rect x="800.5" y="631.7" width="4.1" height="4" fill="#4c566a"/>
<rect x="799.2" y="674.8" width="5.4" height="4" fill="#4c566a"/>
<rect x="800.5" y="717.8" width="4.1" height="4" fill="#4c566a"/>
<rect x="799.2" y="760.8" width="5.4" height="4" fill="#4c566a"/>
<rect x="800.5" y="803.8" width="4.1" height="4" fill="#4c566a"/>
<rect x="799.2" y="846.8" width="5.4" height="4" fill="#4c566a"/>
<rect x="805.6" y="851.8" width="4" height="4.2" fill="#4c566a"/>
<rect x="847.6" y="851.8" width="4" height="4.2" fill="#4c566a"/>
<rect x="889.5" y="851.8" width="4" height="4.2" fill="#4c566a"/>
<rect x="931.5" y="851.8" width="4" height="4.2" fill="#4c566a"/>
<rect x="973.5" y="851.8" width="4" height="4.2" fill="#4c566a"/>
<rect x="1015.4" y="851.8" width="4" height="4.2" fill="#4c566a"/>
<rect x="1057.4" y="851.8" width="4" height="4.2" fill="#4c566a"/>
<rect x="1099.4" y="851.8" width="4" height="4.2" fill="#4c566a"/>
<rect x="1141.3" y="851.8" width="4" height="4.2" fill="#4c566a"/>
<rect x="1183.3" y="851.8" width="4" height="4.2" fill="#4c566a"/>
<rect x="1225.3" y="851.8" width="4" height="4.2" fill="#4c566a"/>
<rect x="1267.2" y="851.8" width="4" height="4.2" fill="#4c566a"/>
<rect x="1309.2" y="851.8" width="4" height="4.2" fill="#4c566a"/>
<rect x="807.6" y="504.7" width="503.6" height="344.1" fill="none" stroke="#4c566a" stroke-width="7" stroke-linejoin="round"/>
</g>
<g>
<line x1="408.3" y1="910.3" x2="408.3" y2="1254.4" stroke="#4c566a" stroke-width="3.6"/>
<line x1="576" y1="910.3" x2="576" y2="1254.4" stroke="#4c566a" stroke-width="3.6"/>
<line x1="240.5" y1="996.3" x2="743.8" y2="996.3" stroke="#4c566a" stroke-width="3.6"/>
<line x1="240.5" y1="1168.4" x2="743.8" y2="1168.4" stroke="#4c566a" stroke-width="3.6"/>
<clipPath id="c5"><rect x="240.5" y="910.3" width="503.3" height="344.1"/></clipPath>
<g clip-path="url(#c5)" fill="none" stroke-linejoin="round" stroke-linecap="round">
<path d="M244.2,1027.1 247.7,1030.7 251.2,1023.6 257.1,1017.8 261.7,1020.1 268.8,1009.6 274.6,1004.9 278.1,990.9 280.5,985 281.6,1007.2 284,1028.3 287.5,1040 292.2,1044.7 298,1049.4 301.5,1047 303.9,1040 306.2,1023.6 308.6,1000.2 312.1,986.2 314.4,982.7 316.8,990.9 320.3,1009.6 323.8,1023.6 326.1,1000.2 328,966.3 329.6,986.2 335.5,982.7 336.7,1007.2 340.2,1018.9 343.7,1007.2 348.4,1000.2 353,990.9 357.7,983.8 362.4,979.2 367.1,967.5 371.8,961.6 376.5,962.8 380,967.5 382.3,953.4 384.6,960.4 387,944 389.3,947.6 391,945.5 392.8,954.6 397.5,953.4 404.4,950.5 408,945.4 411,949 413.9,953.4 417.6,953.4 421.2,959.3 424.1,968 426.3,975.4 428.5,971.7 433.7,971 439.5,971.7 443.9,973.9 445.4,979.8 446.5,994.4 448.3,984.1 451.2,986.3 457.1,986.3 461.5,987.1 463.7,990 465.1,1003.2 466.6,990 468.1,986.3 471,990 473.2,998.8 476.1,1006.1 480.5,1012 484.2,1014.9 490.7,1013.4 495.1,1017.8 499.5,1025.1 502.4,1032.4 505.4,1042.7 509,1047.1 514.2,1050 520,1050.7 522.2,1050 523.7,1044.9 528.1,1046.3 530.3,1052.9 533.2,1061.7 537.6,1069 542,1073.4 546.3,1074.9 552.2,1079.3 558.1,1084.4 563.9,1087.3 569.8,1088.8 573,1089 575.9,1085.4 580.2,1079.5 584.6,1075.9 590.5,1073.7 596.3,1069.3 602.2,1068.5 606.6,1062 609.5,1059 615.4,1059 621.2,1057.6 627.1,1057.6 632.9,1056.1 637.3,1053.2 641.7,1052.4 644.6,1056.1 647.6,1062 651.2,1054.6 654.1,1051.7 657.8,1057.6 661.5,1056.1 665.1,1045.9 669.5,1037.1 673.9,1035.6 679.8,1036.3 685.6,1034.1 688.5,1031.2 691.5,1025.4 695.1,1023.9 698.8,1026.8 703.2,1034.1 707.6,1031.9 712,1035.6 716.3,1038.5 720.7,1040.7 725.1,1040 728.1,1042.9 731,1037.1 735.4,1031.9 739.8,1030.5 743,1030 743,1077 739.8,1078 736.8,1082.4 733.9,1095.6 731,1101.5 727.3,1097.1 723.7,1089.8 720.7,1086.1 716.3,1082.4 712,1078 707.6,1073.7 701.7,1070.7 695.9,1072.2 691.5,1075.1 688.5,1085.4 686.3,1099.3 684.2,1088.3 682,1094.1 679.8,1102.2 673.9,1100 669.5,1097.1 666.6,1091.2 663.7,1082.4 659.3,1079.5 654.9,1083.9 650.5,1087.6 646.1,1089.8 641.7,1095.6 637.3,1097.8 631.5,1100 625.6,1100 621.2,1097.1 616.8,1104.4 612.4,1108.8 608,1109.5 603.7,1110.2 599.3,1115.4 593.4,1118.3 587.6,1119 581.7,1121.2 575.9,1124.1 571.2,1126.8 565.4,1126.1 559.5,1123.2 553.7,1120.3 547.8,1117.3 543.4,1114.4 540.5,1110 536.1,1106.4 531.7,1105.6 527.3,1107.1 525.9,1104.9 521.5,1103.4 515.6,1100.5 511.2,1096.1 508.3,1091 505.4,1085.1 501,1082.2 496.6,1079.3 492.2,1074.9 487.8,1073.4 484.9,1069 482,1061.7 479,1054.4 476.1,1049.3 473.2,1048.5 468.8,1042.7 464.4,1039 460,1033.9 455.6,1031 451.2,1028.1 445.4,1023.7 441,1020 436.6,1019.3 431.5,1017.8 427.8,1020 423.4,1023.7 419,1025.1 414.6,1020.7 411.7,1023.7 408,1025.1 404.4,1020.7 397.5,1014.3 390.5,1011.9 384.6,1016.6 378.8,1015.4 373,1009.6 367.1,1002.6 362.4,1004.9 357.7,1016.6 354.2,1033 350.7,1054.1 348.4,1044.7 346,1075.1 342.5,1086.8 339,1103.2 336.2,1111.4 333.1,1107.9 329.6,1098.5 325,1098.5 322,1085 316,1068 308,1060 300,1056 290,1060 282.8,1117.3 280.5,1105.6 278.1,1070.4 274.6,1061.1 272.3,1070.4 267.6,1089.2 262.9,1103.2 259.4,1110.2 255.9,1104.4 252.4,1093.9 247.7,1079.8 244.2,1068.1Z" fill="#b3b3b3" fill-opacity="0.62" stroke="none"/>
<path d="M244.2,1058.7 247.7,1049.4 252.4,1042.4 257.1,1038.9 261.7,1040 266.4,1035.3 271.1,1034.2 274.6,1028.3 277,1026 279.3,1035.3 282.8,1040 286.3,1044.7 291,1049.4 296.9,1051.7 301.5,1051.7 306.2,1044.7 310.9,1037.7 315.6,1028.3 319.1,1026 323.8,1030.7 327.3,1037.7 332,1035.3 336.7,1030.7 341.3,1023.6 346,1016.6 349.5,1004.9 353,997.9 356.6,988.5 362.4,986.2 367.1,981.5 371.8,976.8 376.5,974.5 381.1,973.3 385.8,972.1 390.5,967.5 395.2,964 402.2,960.4 404.4,960.7 408,964.4 410.2,968 413.2,969.5 414.6,965.9 417.6,971 421.2,976.8 424.1,984.9 426.3,988.5 428.5,984.1 431.5,989.3 436.6,992.2 441,994.4 443.9,995.9 446.8,1009 449.8,1004.6 454.1,1003.2 458.5,1004.6 462.9,1006.1 465.9,1014.9 467.3,1007.6 471.7,1009.8 474.6,1011.2 477.6,1017.8 481.2,1026.6 484.9,1032.4 489.3,1036.8 493.7,1041.2 498.1,1045.6 502.4,1051.5 505.4,1054.4 507.6,1061.7 509.8,1069 512.7,1073.4 515.6,1076.3 518.5,1079.3 521.5,1083.7 522.9,1066.1 525.1,1067.6 527.3,1061.7 528.8,1069 531.7,1074.9 534.6,1080.7 537.6,1085.1 540.5,1082.2 542,1091 546.3,1092.4 550.7,1091 555.1,1088.8 559.5,1088.8 563.9,1090.2 568.3,1094.6 571.2,1096.1 575.9,1092.7 581.7,1092 587.6,1089.8 592,1089.8 596.3,1086.8 600.7,1081 605.1,1078 611,1075.1 616.8,1074.4 621.2,1070.7 625.6,1064.1 630,1063.4 634.4,1062 638.8,1059.8 643.2,1060.5 647.6,1064.1 651.9,1062.7 656.3,1061.2 660.7,1060.5 665.1,1060.5 669.5,1060.5 673.9,1054.6 678.3,1048.8 681.2,1051.7 684.2,1046.6 688.5,1050.2 692.9,1053.9 697.3,1047.3 701.7,1039.3 706.1,1041.5 709,1040 713.4,1043.7 717.8,1048 720.7,1048.8 722.2,1056.1 725.1,1047.3 729.5,1049.5 732.4,1045.9 736.8,1038.5 739.8,1034.9 743,1033 743,1072 739.8,1072.2 737.6,1067.1 735.4,1071.5 731,1073.7 728.8,1082.4 727.3,1076.6 725.1,1081 722.2,1082.4 719.3,1081 714.9,1075.1 710.5,1067.8 707.6,1064.1 704.6,1064.9 700.2,1066.3 695.9,1067.8 691.5,1068.5 687.1,1072.2 684.2,1075.1 682.7,1064.9 681.2,1075.1 678.3,1079.5 673.9,1082.4 669.5,1081 665.1,1075.1 660.7,1070.7 657.8,1072.2 653.4,1077.3 647.6,1078.8 643.2,1078.8 638.8,1079.5 634.4,1083.9 630,1088.3 625.6,1091.2 621.2,1092.7 616.8,1094.1 612.4,1096.3 609.5,1098.5 605.1,1099.3 600.7,1101.5 596.3,1105.1 592,1104.4 587.6,1104.4 581.7,1106.6 575.9,1110.2 571.2,1113.7 566.8,1115.1 562.4,1114.4 558.1,1112.2 553.7,1112.2 549.3,1111.5 544.9,1107.1 540.5,1104.1 536.1,1101.2 533.2,1100.5 528.8,1099.8 524.4,1097.6 520,1096.8 517.1,1093.9 514.2,1091 511.2,1086.6 508.3,1080.7 503.9,1082.2 501,1080 496.6,1076.3 492.2,1073.4 489.3,1069 486.3,1063.2 483.4,1055.9 480.5,1050 476.1,1045.6 473.2,1042 468.8,1042.7 465.1,1038.3 462.9,1031 460,1028.1 457.1,1025.1 454.1,1020.7 451.2,1017.1 446.8,1017.8 442.4,1014.9 438,1010.5 433.7,1005.4 430.7,1003.2 427.8,1009 424.9,1012 420.5,1014.1 416.1,1014.9 411.7,1012.7 408,1014.1 404.4,1009.8 399.9,1010.8 392.8,1009.6 389.3,1004.9 385.8,997.9 382.3,992 380,997.9 376.5,1006.1 371.8,1002.6 367.1,996.7 363.6,997.9 358.9,1000.2 355.4,1007.2 351.9,1016.6 348.4,1023.6 344.8,1033 341.3,1047 337.8,1061.1 334.3,1070.4 329.6,1063.4 327.3,1056.4 323.8,1061.1 319.1,1063.4 315.6,1058.7 312.1,1054.1 308.6,1056.4 303,1053 296,1054 288.7,1072.8 286.3,1065.8 282.8,1061.1 279.3,1049.4 277,1047 273.5,1061.1 271.1,1056.4 266.4,1047 262.9,1049.4 259.4,1061.1 257.1,1076.3 253.6,1070.4 248.9,1069.3 244.2,1064.6Z" fill="#abbac4" stroke="none"/>
<path d="M281,1072 286.3,1066 292.2,1084.5 298,1117.3 301.5,1164.1 303,1210 303.5,1246 302,1246 299,1241 294.5,1211 289.8,1176 286.3,1152 282.8,1117Z" fill="#000" fill-opacity="0.62" stroke="none"/>
<path d="M290,1090 296,1105 299.5,1136 301.5,1164 303,1210 303.5,1240 300,1235 296,1195 292,1140Z" fill="#000" fill-opacity="0.55" stroke="none"/>
<path d="M304,1042 306.5,1020 309,1000 313.2,984 316,990 319,1006 322,1022 323,1030 318,1027 314,1032 310,1040Z" fill="#000" fill-opacity="0.6" stroke="none"/>
<path d="M308,1030 311,1005 313.2,990 316,1005 319,1024 314,1030Z" fill="#000" fill-opacity="0.6" stroke="none"/>
<path d="M309.5,1062 313,1060 318,1064 324.5,1062 325,1101 321,1098 316,1084 312,1072Z" fill="#000" fill-opacity="0.6" stroke="none"/>
<path d="M286,1049 292,1052 301,1053 308,1048 314,1034 319,1030 323,1034 323.5,1058 318,1062 312,1053 308,1057 304.5,1068 303,1090 301,1075 297,1070 292,1066Z" fill="#fff" stroke="none"/>
<path d="M244.2,1027.1 247.7,1030.7 251.2,1023.6 257.1,1017.8 261.7,1020.1 268.8,1009.6 274.6,1004.9 278.1,990.9 280.5,985 281.6,1007.2 284,1028.3 287.5,1040 292.2,1044.7 298,1049.4 301.5,1047 303.9,1040 306.2,1023.6 308.6,1000.2 312.1,986.2 314.4,982.7 316.8,990.9 320.3,1009.6 323.8,1023.6 326.1,1000.2 328,966.3 329.6,986.2 335.5,982.7 336.7,1007.2 340.2,1018.9 343.7,1007.2 348.4,1000.2 353,990.9 357.7,983.8 362.4,979.2 367.1,967.5 371.8,961.6 376.5,962.8 380,967.5 382.3,953.4 384.6,960.4 387,944 389.3,947.6 391,945.5 392.8,954.6 397.5,953.4 404.4,950.5 408,945.4 411,949 413.9,953.4 417.6,953.4 421.2,959.3 424.1,968 426.3,975.4 428.5,971.7 433.7,971 439.5,971.7 443.9,973.9 445.4,979.8 446.5,994.4 448.3,984.1 451.2,986.3 457.1,986.3 461.5,987.1 463.7,990 465.1,1003.2 466.6,990 468.1,986.3 471,990 473.2,998.8 476.1,1006.1 480.5,1012 484.2,1014.9 490.7,1013.4 495.1,1017.8 499.5,1025.1 502.4,1032.4 505.4,1042.7 509,1047.1 514.2,1050 520,1050.7 522.2,1050 523.7,1044.9 528.1,1046.3 530.3,1052.9 533.2,1061.7 537.6,1069 542,1073.4 546.3,1074.9 552.2,1079.3 558.1,1084.4 563.9,1087.3 569.8,1088.8 573,1089 575.9,1085.4 580.2,1079.5 584.6,1075.9 590.5,1073.7 596.3,1069.3 602.2,1068.5 606.6,1062 609.5,1059 615.4,1059 621.2,1057.6 627.1,1057.6 632.9,1056.1 637.3,1053.2 641.7,1052.4 644.6,1056.1 647.6,1062 651.2,1054.6 654.1,1051.7 657.8,1057.6 661.5,1056.1 665.1,1045.9 669.5,1037.1 673.9,1035.6 679.8,1036.3 685.6,1034.1 688.5,1031.2 691.5,1025.4 695.1,1023.9 698.8,1026.8 703.2,1034.1 707.6,1031.9 712,1035.6 716.3,1038.5 720.7,1040.7 725.1,1040 728.1,1042.9 731,1037.1 735.4,1031.9 739.8,1030.5 743,1030" stroke="#000" stroke-width="0.9"/>
<path d="M244.2,1068.1 247.7,1079.8 252.4,1093.9 255.9,1104.4 259.4,1110.2 262.9,1103.2 267.6,1089.2 272.3,1070.4 274.6,1061.1 278.1,1070.4 280.5,1105.6 282.8,1117.3 286.3,1152.4 289.8,1175.8 294.5,1210.9 298.7,1241.3 299.7,1082.2 300.7,1100 302.7,1246 304.4,1070.4" stroke="#000" stroke-width="0.9"/>
<path d="M325,1098.5 329.6,1098.5 333.1,1107.9 336.2,1111.4 339,1103.2 342.5,1086.8 346,1075.1 348.4,1044.7 350.7,1054.1 354.2,1033 357.7,1016.6 362.4,1004.9 367.1,1002.6 373,1009.6 378.8,1015.4 384.6,1016.6 390.5,1011.9 397.5,1014.3 404.4,1020.7 408,1025.1 411.7,1023.7 414.6,1020.7 419,1025.1 423.4,1023.7 427.8,1020 431.5,1017.8 436.6,1019.3 441,1020 445.4,1023.7 451.2,1028.1 455.6,1031 460,1033.9 464.4,1039 468.8,1042.7 473.2,1048.5 476.1,1049.3 479,1054.4 482,1061.7 484.9,1069 487.8,1073.4 492.2,1074.9 496.6,1079.3 501,1082.2 505.4,1085.1 508.3,1091 511.2,1096.1 515.6,1100.5 521.5,1103.4 525.9,1104.9 527.3,1107.1 531.7,1105.6 536.1,1106.4 540.5,1110 543.4,1114.4 547.8,1117.3 553.7,1120.3 559.5,1123.2 565.4,1126.1 571.2,1126.8 575.9,1124.1 581.7,1121.2 587.6,1119 593.4,1118.3 599.3,1115.4 603.7,1110.2 608,1109.5 612.4,1108.8 616.8,1104.4 621.2,1097.1 625.6,1100 631.5,1100 637.3,1097.8 641.7,1095.6 646.1,1089.8 650.5,1087.6 654.9,1083.9 659.3,1079.5 663.7,1082.4 666.6,1091.2 669.5,1097.1 673.9,1100 679.8,1102.2 682,1094.1 684.2,1088.3 686.3,1099.3 688.5,1085.4 691.5,1075.1 695.9,1072.2 701.7,1070.7 707.6,1073.7 712,1078 716.3,1082.4 720.7,1086.1 723.7,1089.8 727.3,1097.1 731,1101.5 733.9,1095.6 736.8,1082.4 739.8,1078 743,1077" stroke="#000" stroke-width="0.9"/>
<path d="M299.7,1082 299.9,1240" stroke="#000" stroke-width="0.9"/>
<path d="M304.4,1070 304.6,1160" stroke="#000" stroke-width="0.9"/>
<path d="M244.2,1063.4 248.9,1068.1 252.4,1061.1 257.1,1054.1 259.4,1047 264.1,1042.4 269.9,1044.7 274.6,1040 278.1,1042.4 282.8,1047 287.5,1051.7" stroke="#fff" stroke-width="1.5"/>
<path d="M325,1044.7 329.6,1042.4 334.3,1040 339,1033 343.7,1023.6 348.4,1011.9 353,1002.6 357.7,995.5 362.4,990.9 367.1,988.5 371.8,990.9 376.5,986.2 378.8,976.8 382.3,982.7 387,976.8 390.5,974.5 391.7,986.2 395.2,976.8 399.9,974.5 404.4,973.9 406.6,981.2 408.8,988.5 411.7,992.9 414.6,1001.7 419,1001.7 423.4,998.8 426.3,1000.2 429.3,992.9 431.5,991.5 435.1,995.9 439.5,1001.7 442.4,1009 446.8,1014.1 450.5,1010.5 452.7,1007.6 458.5,1010.5 462.9,1012 465.9,1023.7 468.1,1020.7 470.2,1031 473.2,1023.7 475.4,1032.4 477.6,1039.8 482,1042.7 484.9,1047.1 487.8,1054.4 490.7,1060.2 493.7,1066.1 496.6,1070.5 501,1073.4 505.4,1076.3 509.8,1079.3 514.2,1082.2 518.5,1086.6 521.5,1089.5 524.4,1087.3 527.3,1088 531.7,1093.9 536.1,1096.8 540.5,1096.1 543.4,1099.8 547.8,1098.3 553.7,1096.1 559.5,1095.4 563.9,1099.8 568.3,1102.7 572.7,1104.1 575.9,1105.9 581.7,1101.5 587.6,1097.1 593.4,1092.7 599.3,1092.7 603.7,1085.4 608,1081 611,1079.5 613.2,1081 615.4,1077.3 619.8,1081 624.1,1081 628.5,1079.5 632.9,1073.7 637.3,1069.3 641.7,1067.1 646.1,1065.6 650.5,1066.3 654.9,1064.1 659.3,1063.4 665.1,1066.3 671,1066.3 675.4,1064.9 679.8,1063.4 682.7,1059.8 685.6,1062 690,1064.1 694.4,1062.7 698.8,1063.4 701.7,1053.2 704.6,1044.4 707.6,1051.7 710.5,1048.8 714.9,1050.2 717.8,1056.1 720.7,1067.8 722.9,1075.1 725.1,1070.7 728.1,1059 731,1051.7 733.9,1056.1 735.4,1062 737.6,1054.6 739.8,1059 743,1058" stroke="#fff" stroke-width="1.5"/>
<path d="M244.2,1058.7 247.7,1049.4 252.4,1042.4 257.1,1038.9 261.7,1040 266.4,1035.3 271.1,1034.2 274.6,1028.3 277,1026 279.3,1035.3 282.8,1040 286.3,1044.7 291,1049.4 296.9,1051.7 301.5,1051.7 306.2,1044.7 310.9,1037.7 315.6,1028.3 319.1,1026 323.8,1030.7 327.3,1037.7 332,1035.3 336.7,1030.7 341.3,1023.6 346,1016.6 349.5,1004.9 353,997.9 356.6,988.5 362.4,986.2 367.1,981.5 371.8,976.8 376.5,974.5 381.1,973.3 385.8,972.1 390.5,967.5 395.2,964 402.2,960.4 404.4,960.7 408,964.4 410.2,968 413.2,969.5 414.6,965.9 417.6,971 421.2,976.8 424.1,984.9 426.3,988.5 428.5,984.1 431.5,989.3 436.6,992.2 441,994.4 443.9,995.9 446.8,1009 449.8,1004.6 454.1,1003.2 458.5,1004.6 462.9,1006.1 465.9,1014.9 467.3,1007.6 471.7,1009.8 474.6,1011.2 477.6,1017.8 481.2,1026.6 484.9,1032.4 489.3,1036.8 493.7,1041.2 498.1,1045.6 502.4,1051.5 505.4,1054.4 507.6,1061.7 509.8,1069 512.7,1073.4 515.6,1076.3 518.5,1079.3 521.5,1083.7 522.9,1066.1 525.1,1067.6 527.3,1061.7 528.8,1069 531.7,1074.9 534.6,1080.7 537.6,1085.1 540.5,1082.2 542,1091 546.3,1092.4 550.7,1091 555.1,1088.8 559.5,1088.8 563.9,1090.2 568.3,1094.6 571.2,1096.1 575.9,1092.7 581.7,1092 587.6,1089.8 592,1089.8 596.3,1086.8 600.7,1081 605.1,1078 611,1075.1 616.8,1074.4 621.2,1070.7 625.6,1064.1 630,1063.4 634.4,1062 638.8,1059.8 643.2,1060.5 647.6,1064.1 651.9,1062.7 656.3,1061.2 660.7,1060.5 665.1,1060.5 669.5,1060.5 673.9,1054.6 678.3,1048.8 681.2,1051.7 684.2,1046.6 688.5,1050.2 692.9,1053.9 697.3,1047.3 701.7,1039.3 706.1,1041.5 709,1040 713.4,1043.7 717.8,1048 720.7,1048.8 722.2,1056.1 725.1,1047.3 729.5,1049.5 732.4,1045.9 736.8,1038.5 739.8,1034.9 743,1033" stroke="#000" stroke-width="3.6"/>
<path d="M244.2,1064.6 248.9,1069.3 253.6,1070.4 257.1,1076.3 259.4,1061.1 262.9,1049.4 266.4,1047 271.1,1056.4 273.5,1061.1 277,1047 279.3,1049.4 282.8,1061.1 286.3,1065.8 288.7,1072.8 292.2,1084.5 295.7,1103.2 298,1117.3 299.7,1136 301.5,1164.1 302.9,1207.4" stroke="#000" stroke-width="3.6"/>
<path d="M308.6,1056.4 312.1,1054.1 315.6,1058.7 319.1,1063.4 323.8,1061.1 327.3,1056.4 329.6,1063.4 334.3,1070.4 337.8,1061.1 341.3,1047 344.8,1033 348.4,1023.6 351.9,1016.6 355.4,1007.2 358.9,1000.2 363.6,997.9 367.1,996.7 371.8,1002.6 376.5,1006.1 380,997.9 382.3,992 385.8,997.9 389.3,1004.9 392.8,1009.6 399.9,1010.8 404.4,1009.8 408,1014.1 411.7,1012.7 416.1,1014.9 420.5,1014.1 424.9,1012 427.8,1009 430.7,1003.2 433.7,1005.4 438,1010.5 442.4,1014.9 446.8,1017.8 451.2,1017.1 454.1,1020.7 457.1,1025.1 460,1028.1 462.9,1031 465.1,1038.3 468.8,1042.7 473.2,1042 476.1,1045.6 480.5,1050 483.4,1055.9 486.3,1063.2 489.3,1069 492.2,1073.4 496.6,1076.3 501,1080 503.9,1082.2 508.3,1080.7 511.2,1086.6 514.2,1091 517.1,1093.9 520,1096.8 524.4,1097.6 528.8,1099.8 533.2,1100.5 536.1,1101.2 540.5,1104.1 544.9,1107.1 549.3,1111.5 553.7,1112.2 558.1,1112.2 562.4,1114.4 566.8,1115.1 571.2,1113.7 575.9,1110.2 581.7,1106.6 587.6,1104.4 592,1104.4 596.3,1105.1 600.7,1101.5 605.1,1099.3 609.5,1098.5 612.4,1096.3 616.8,1094.1 621.2,1092.7 625.6,1091.2 630,1088.3 634.4,1083.9 638.8,1079.5 643.2,1078.8 647.6,1078.8 653.4,1077.3 657.8,1072.2 660.7,1070.7 665.1,1075.1 669.5,1081 673.9,1082.4 678.3,1079.5 681.2,1075.1 682.7,1064.9 684.2,1075.1 687.1,1072.2 691.5,1068.5 695.9,1067.8 700.2,1066.3 704.6,1064.9 707.6,1064.1 710.5,1067.8 714.9,1075.1 719.3,1081 722.2,1082.4 725.1,1081 727.3,1076.6 728.8,1082.4 731,1073.7 735.4,1071.5 737.6,1067.1 739.8,1072.2 743,1072" stroke="#000" stroke-width="3.6"/>
<path d="M286.3,1065.8 288.7,1072.8 292.2,1084.5 295.7,1103.2 298,1117.3 299.7,1136 301.5,1164.1 302.9,1207.4" stroke="#000" stroke-width="3.6"/>
<path d="M304.2,1165 304.2,1205" stroke="#000" stroke-width="3.6"/>
<path d="M244.2,1064.6 245.4,1071.6 250,1074 254.7,1075.1 257.1,1072.8 259.4,1061.1 262.9,1044.7 266.4,1028.3 269.9,1014.3 273.5,997.9 275.8,988.5 277.7,985.7 279.3,990.9 281.6,1007.2 285.2,1026 288.7,1037.7 292.2,1045.9 295.7,1049.4 299.2,1047 301.5,1037.7 303.9,1021.3 306.2,1000.2 308.6,981.5 310.9,967.5 313.2,959.3 315.1,958.1 316.8,965.1 319.1,981.5 322.6,1007.2 326.1,1035.3 329.6,1063.4 332,1082.2 334.3,1098.5 335.9,1102 337.8,1093.9 341.3,1070.4 344.8,1040 348.4,1011.9 351.9,990.9 354.2,976.8 355.9,975.6 357.7,981.5 361.2,990.9 364.7,994.4 367.1,990.9 370.6,980.3 374.1,975.6 378.8,974.5 383.5,973.3 388.2,972.1 392.8,980.3 396.3,985 399.9,981.5 402.9,973.9 405.9,972.1 408.8,973.9 412.4,973.9 414.6,972.4 417.6,972.4 420.5,976.8 422.7,984.1 424.1,990 427.8,990.7 431.5,988.5 435.1,991.5 439.5,993.7 443.2,992.9 446.1,997.3 449,1003.2 451.2,1009 454.9,1011.2 458.5,1012 462.9,1013.4 467.3,1010.5 471.7,1010.2 474.6,1011.2 477.6,1017.8 480.5,1026.6 483.4,1033.9 486.3,1041.2 489.3,1048.5 492.2,1055.9 495.9,1063.2 499.5,1067.6 503.9,1071.9 506.8,1077.8 509.8,1083.7 512.7,1089.5 515.6,1093.9 519.3,1097.6 524.4,1099 528.8,1100.5 533.2,1099.8 537.6,1102.7 542,1105.6 546.3,1108.5 550.7,1112.2 555.1,1112.6 559.5,1112.9 562.4,1115.1 565.4,1116.1 569.8,1115.6 574.4,1112.4 578.8,1108.8 582.4,1101.5 586.1,1094.1 589.8,1089.8 592.7,1089.5 596.3,1094.1 600.7,1098.5 605.1,1102.9 608.8,1105.9 612.4,1105.9 616.8,1101.5 621.2,1097.1 627.1,1092.7 632.9,1087.6 638.8,1081 643.2,1075.1 647.6,1067.8 651.9,1062.7 656.3,1060.2 660,1060.5 662.9,1064.9 666.6,1069.3 671,1072.9 673.9,1073.7 676.8,1079.5 679.8,1082.4 682,1082.4 684.9,1078 688.5,1072.2 692.2,1069.3 695.9,1069 700.2,1067.5 703.9,1069 706.8,1069 710.5,1073.7 714.1,1077.3 717.8,1082.4 722.2,1085.4 724.4,1092.7 726.6,1099.3 730.2,1101.5 732.4,1098.5 734.6,1089.8 736.8,1082.4 739.8,1078" stroke="#ff0000" stroke-width="2.4"/>
</g>
<rect x="232.1" y="908.3" width="5.4" height="4" fill="#4c566a"/>
<rect x="233.4" y="951.3" width="4.1" height="4" fill="#4c566a"/>
<rect x="232.1" y="994.3" width="5.4" height="4" fill="#4c566a"/>
<rect x="233.4" y="1037.3" width="4.1" height="4" fill="#4c566a"/>
<rect x="232.1" y="1080.3" width="5.4" height="4" fill="#4c566a"/>
<rect x="233.4" y="1123.4" width="4.1" height="4" fill="#4c566a"/>
<rect x="232.1" y="1166.4" width="5.4" height="4" fill="#4c566a"/>
<rect x="233.4" y="1209.4" width="4.1" height="4" fill="#4c566a"/>
<rect x="232.1" y="1252.4" width="5.4" height="4" fill="#4c566a"/>
<rect x="238.5" y="1257.4" width="4" height="5.2" fill="#4c566a"/>
<rect x="280.4" y="1257.4" width="4" height="5.2" fill="#4c566a"/>
<rect x="322.4" y="1257.4" width="4" height="5.2" fill="#4c566a"/>
<rect x="364.3" y="1257.4" width="4" height="5.2" fill="#4c566a"/>
<rect x="406.3" y="1257.4" width="4" height="5.2" fill="#4c566a"/>
<rect x="448.2" y="1257.4" width="4" height="5.2" fill="#4c566a"/>
<rect x="490.1" y="1257.4" width="4" height="5.2" fill="#4c566a"/>
<rect x="532.1" y="1257.4" width="4" height="5.2" fill="#4c566a"/>
<rect x="574" y="1257.4" width="4" height="5.2" fill="#4c566a"/>
<rect x="616" y="1257.4" width="4" height="5.2" fill="#4c566a"/>
<rect x="657.9" y="1257.4" width="4" height="5.2" fill="#4c566a"/>
<rect x="699.9" y="1257.4" width="4" height="5.2" fill="#4c566a"/>
<rect x="741.8" y="1257.4" width="4" height="5.2" fill="#4c566a"/>
<rect x="240.5" y="910.3" width="503.3" height="344.1" fill="none" stroke="#4c566a" stroke-width="7" stroke-linejoin="round"/>
<rect x="208.5" y="990.6" width="31.5" height="11.4" fill="#333"/>
<rect x="208.5" y="1162.7" width="31.5" height="11.4" fill="#333"/>
<rect x="234.5" y="1254.7" width="12" height="30.5" fill="#333"/>
<rect x="402.3" y="1254.7" width="12" height="30.5" fill="#333"/>
<rect x="570" y="1254.7" width="12" height="30.5" fill="#333"/>
</g>
<g>
<line x1="975.5" y1="910.3" x2="975.5" y2="1254.4" stroke="#4c566a" stroke-width="3.6"/>
<line x1="1143.3" y1="910.3" x2="1143.3" y2="1254.4" stroke="#4c566a" stroke-width="3.6"/>
<line x1="807.6" y1="996.3" x2="1311.2" y2="996.3" stroke="#4c566a" stroke-width="3.6"/>
<line x1="807.6" y1="1168.4" x2="1311.2" y2="1168.4" stroke="#4c566a" stroke-width="3.6"/>
<clipPath id="c6"><rect x="807.6" y="910.3" width="503.6" height="344.1"/></clipPath>
<g clip-path="url(#c6)" fill="none" stroke-linejoin="round" stroke-linecap="round">
<path d="M811.3,1028.3 814.2,1031.2 817.2,1030.5 820.1,1026.8 823,1025.4 823.8,1019.5 826,1026.8 828.1,1018.8 831.8,1019.5 833.3,1022.4 836.2,1019.5 839.1,1015.9 843.5,1014.4 846.4,1013.7 847.9,1009.3 847.9,1038.5 845.7,1045.9 843.5,1041.5 841.3,1045.1 839.1,1042.9 836.9,1044.4 833.3,1044.4 831.1,1048.8 828.9,1059 827.4,1082.4 826.7,1111.7 825.2,1125.6 823.8,1095.6 822.3,1105.9 820.8,1126.3 819.8,1152 818.6,1148.3 816.4,1152.7 814.5,1156.3 813.5,1141 812.8,1111.7 811.3,1100Z" fill="#b3b3b3" fill-opacity="0.62" stroke="none"/>
<path d="M891.8,996.8 899.1,996.1 906.4,997.6 915.2,997.6 919.6,1002.7 925.5,1003.4 931.3,1003.4 937.2,1002 944.5,1002.7 948.9,1006.3 953.3,1008.5 959.1,1010 965,1012.2 970.8,1014.4 975.4,1013.7 978.8,1023.9 984.6,1021 990.5,1023.9 994.9,1025.4 1000.7,1019.5 1005.1,1016.6 1009.5,1019.5 1015.4,1019.5 1021.2,1022.4 1028.5,1023.2 1034.4,1023.9 1040.2,1028.3 1046.1,1031.2 1051.9,1032.7 1057.8,1035.6 1065.1,1037.8 1072.4,1039.3 1078.3,1040 1084.2,1040.7 1090,1043.7 1095.9,1042.9 1101.7,1042.9 1107.6,1044.4 1112,1047.3 1116.3,1048 1122.2,1051.7 1125.1,1053.9 1129.5,1051.7 1132.4,1053.2 1136.8,1050.2 1143.3,1048.8 1149.2,1051.7 1155,1053.2 1160.9,1054.6 1166.7,1054.6 1172.6,1055.4 1177,1051.7 1182.8,1052.4 1187.2,1051 1191.6,1044.4 1196,1040.7 1200.4,1040 1203.3,1044.4 1209.2,1043.7 1215,1042.9 1218,1045.9 1220.9,1042.9 1226.7,1042.2 1231.1,1036.3 1237,1037.8 1241.4,1039.3 1247.2,1038.5 1251.6,1038.5 1254.5,1042.9 1257.5,1044.4 1258.9,1042.2 1260.4,1050.2 1263.3,1047.3 1267.7,1043.7 1273.6,1043.7 1276.5,1050.2 1280.9,1056.1 1285.3,1056.8 1289.7,1057.6 1293.3,1063.4 1295.5,1045.9 1297,1062 1298.4,1050.2 1301.4,1042.9 1304.3,1042.9 1308,1037.1 1308,1127.8 1305,1122 1303.1,1129.3 1302.1,1111.7 1300.6,1075.1 1298.4,1081 1295.5,1079.5 1292.6,1067.8 1288.2,1073.7 1283.8,1076.6 1280.9,1073.7 1276.5,1076.6 1272.1,1081 1267.7,1082.4 1264.8,1088.3 1262.2,1101.5 1258.9,1094.1 1254.5,1088.3 1251.6,1092.7 1250.2,1089.8 1247.2,1082.4 1244.3,1079.5 1242.1,1085.4 1239.9,1081 1237,1078 1232.6,1073.7 1229.7,1067.8 1226.7,1069.3 1222.3,1066.3 1218,1069.3 1213.6,1070.7 1210.6,1076.6 1208.4,1073.7 1206.2,1079.5 1203.3,1085.4 1201.1,1079.5 1198.9,1085.4 1196.7,1083.9 1194.5,1088.3 1190.1,1089.8 1186.5,1094.1 1182.8,1098.5 1178.4,1101.5 1176.2,1095.6 1174,1089 1171.1,1088.3 1165.3,1092.7 1160.1,1097.1 1156.5,1095.6 1152.1,1094.1 1147.7,1091.2 1143.3,1088.3 1136.8,1086.8 1132.4,1086.8 1128.1,1084.6 1125.1,1086.8 1120.7,1091.2 1119,1096.3 1116.3,1093.4 1112,1094.1 1107.6,1092 1103.2,1093.4 1099.5,1092 1097.3,1088.3 1092.9,1092 1088.5,1094.9 1085.6,1094.1 1081.2,1091.2 1076.8,1085.4 1073.2,1081 1071,1073.7 1067.3,1070.7 1063.7,1067.8 1060.7,1069.3 1057.8,1066.3 1053.4,1064.9 1050.5,1060.5 1046.1,1056.1 1043.2,1051.7 1040.2,1047.3 1035.9,1048 1030,1048 1025.6,1045.1 1021.2,1046.6 1016.8,1050.2 1012.4,1053.2 1008,1054.6 1003.7,1057.6 999.3,1059 994.9,1063.4 992,1067.8 989,1071.5 986.1,1067.1 983.2,1064.9 979.5,1068.5 975.4,1059 972.3,1057.6 969.4,1062.7 965,1059 962,1061.2 957.7,1056.1 954.7,1055.4 951.8,1059 949.6,1064.1 944.5,1064.1 940.1,1059.8 935.7,1056.1 931.3,1054.6 928.4,1050.2 924,1047.3 921.1,1042.9 917.4,1042.9 913.8,1038.5 910.8,1032.7 908.6,1026.8 906.4,1019.5 903.5,1022.4 900.6,1025.4 897.7,1022.4 894.7,1019.5 891.8,1031.2Z" fill="#b3b3b3" fill-opacity="0.62" stroke="none"/>
<path d="M811.3,1041.5 813.5,1042.9 815.7,1047.3 817.9,1044.4 820.1,1038.5 822.3,1036.3 824.5,1038.5 826.7,1031.2 828.1,1022.4 830.3,1021 831.8,1029.8 834,1032.7 836.2,1028.3 839.1,1023.9 842,1021 845,1018 847.9,1012.2 847.9,1035.6 845,1036.3 842,1035.6 839.1,1038.5 835.5,1037.1 833.3,1041.5 831.1,1040 828.9,1044.4 827.4,1051.7 826,1059 823,1060.5 820.8,1067.8 819.8,1089.8 818.6,1085.4 817.2,1097.1 815.7,1104.4 814.5,1113.2 813.5,1104.4 812.5,1082.4 811.3,1056.1Z" fill="#abbac4" stroke="none"/>
<path d="M891.8,1001.9 894.7,1006.3 899.1,1008.5 903.5,1007.1 907.9,1007.8 912.3,1011.5 916.7,1014.4 921.1,1015.1 925.5,1018 929.9,1019.5 934.2,1018 937.2,1016.6 941.6,1017.3 946,1018.8 950.4,1019.5 953.3,1018.8 956.9,1022.4 960.6,1023.9 965,1022.4 969.4,1023.9 973.8,1028.3 975.4,1030.5 980.2,1032.7 984.6,1027.6 989,1030.5 993.4,1033.4 997.1,1035.6 1000.7,1029.8 1005.1,1027.6 1011,1027.6 1016.8,1026.8 1022.7,1028.3 1028.5,1030.5 1034.4,1030.5 1040.2,1032.7 1046.1,1036.3 1051.9,1039.3 1057.8,1041.5 1063.7,1042.2 1069.5,1042.9 1075.4,1045.1 1081.2,1047.3 1087.1,1048 1091.5,1051.7 1095.9,1055.4 1100.2,1055.4 1104.6,1053.9 1110.5,1053.2 1114.9,1055.4 1119.3,1057.6 1123.7,1059.8 1128.1,1062 1132.4,1063.4 1136.8,1064.1 1143.3,1060.5 1150.6,1060.5 1153.6,1063.4 1157.2,1068.5 1160.9,1065.6 1165.3,1063.4 1171.1,1059.8 1177,1059 1182.8,1057.6 1188.7,1054.6 1194.5,1051.7 1198.9,1048.8 1203.3,1049.5 1209.2,1051.7 1215,1052.4 1220.9,1051 1226.7,1052.4 1232.6,1051 1237,1047.3 1241.4,1045.9 1245.8,1048 1250.2,1047.3 1253.1,1048.8 1256,1054.6 1260.4,1056.1 1264.8,1055.4 1269.2,1053.2 1272.1,1051.7 1275,1056.1 1279.4,1059 1283.8,1059.8 1288.2,1059 1291.1,1062 1294,1064.9 1296.2,1045.9 1297.7,1067.8 1299.2,1053.2 1301.4,1048.8 1304.3,1050.2 1308,1042.9 1308,1073.7 1305.8,1091.2 1303.6,1095.6 1302.1,1082.4 1299.9,1067.8 1297,1079.5 1294,1066.3 1291.1,1067.8 1288.2,1069.3 1285.3,1072.2 1282.3,1069.3 1278,1067.8 1273.6,1070.7 1269.2,1076.6 1264.8,1073.7 1261.9,1075.9 1258.9,1077.3 1254.5,1076.6 1251.6,1070.7 1248.7,1067.8 1245.8,1064.9 1242.8,1062.7 1238.4,1064.1 1232.6,1063.4 1226.7,1061.2 1222.3,1062 1218,1064.1 1212.1,1063.4 1206.2,1064.9 1201.8,1063.4 1198.9,1065.6 1194.5,1066.3 1190.1,1064.9 1187.2,1067.8 1182.8,1070.7 1178.4,1075.1 1174,1077.3 1169.7,1079.5 1165.3,1076.6 1161.6,1082.4 1158,1082.4 1153.6,1083.9 1149.2,1085.4 1144.8,1082.4 1140.4,1078 1136.8,1078 1132.4,1075.9 1128.1,1076.6 1123.7,1074.4 1119.3,1071.5 1114.9,1067.8 1110.5,1067.8 1106.1,1069.3 1101,1071.5 1097.3,1067.8 1092.9,1063.4 1088.5,1063.4 1082.7,1062.7 1076.8,1059.8 1072.4,1058.3 1068.1,1056.1 1063.7,1054.6 1057.8,1051.7 1051.9,1048.8 1046.1,1047.3 1040.2,1044.4 1034.4,1042.2 1030,1040 1025.6,1038.5 1021.2,1040 1016.8,1042.9 1012.4,1045.9 1008,1048 1003.7,1050.2 999.3,1051.7 995.6,1051 992,1052.4 987.6,1054.6 983.2,1056.1 978.8,1054.6 975.4,1048.8 972.3,1045.9 967.9,1047.3 963.5,1047.3 959.1,1046.6 954.7,1045.9 950.4,1048.8 946,1046.6 941.6,1046.6 938.6,1042.2 937.2,1044.4 934.2,1042.9 929.9,1040 925.5,1039.3 921.1,1036.3 916.7,1034.1 913.8,1029.8 910.8,1023.9 907.9,1019.5 905,1016.6 900.6,1015.9 896.2,1018 891.8,1022.4Z" fill="#abbac4" stroke="none"/>
<path d="M811.3,1028.3 814.2,1031.2 817.2,1030.5 820.1,1026.8 823,1025.4 823.8,1019.5 826,1026.8 828.1,1018.8 831.8,1019.5 833.3,1022.4 836.2,1019.5 839.1,1015.9 843.5,1014.4 846.4,1013.7 847.9,1009.3" stroke="#000" stroke-width="0.9"/>
<path d="M891.8,996.8 899.1,996.1 906.4,997.6 915.2,997.6 919.6,1002.7 925.5,1003.4 931.3,1003.4 937.2,1002 944.5,1002.7 948.9,1006.3 953.3,1008.5 959.1,1010 965,1012.2 970.8,1014.4 975.4,1013.7 978.8,1023.9 984.6,1021 990.5,1023.9 994.9,1025.4 1000.7,1019.5 1005.1,1016.6 1009.5,1019.5 1015.4,1019.5 1021.2,1022.4 1028.5,1023.2 1034.4,1023.9 1040.2,1028.3 1046.1,1031.2 1051.9,1032.7 1057.8,1035.6 1065.1,1037.8 1072.4,1039.3 1078.3,1040 1084.2,1040.7 1090,1043.7 1095.9,1042.9 1101.7,1042.9 1107.6,1044.4 1112,1047.3 1116.3,1048 1122.2,1051.7 1125.1,1053.9 1129.5,1051.7 1132.4,1053.2 1136.8,1050.2 1143.3,1048.8 1149.2,1051.7 1155,1053.2 1160.9,1054.6 1166.7,1054.6 1172.6,1055.4 1177,1051.7 1182.8,1052.4 1187.2,1051 1191.6,1044.4 1196,1040.7 1200.4,1040 1203.3,1044.4 1209.2,1043.7 1215,1042.9 1218,1045.9 1220.9,1042.9 1226.7,1042.2 1231.1,1036.3 1237,1037.8 1241.4,1039.3 1247.2,1038.5 1251.6,1038.5 1254.5,1042.9 1257.5,1044.4 1258.9,1042.2 1260.4,1050.2 1263.3,1047.3 1267.7,1043.7 1273.6,1043.7 1276.5,1050.2 1280.9,1056.1 1285.3,1056.8 1289.7,1057.6 1293.3,1063.4 1295.5,1045.9 1297,1062 1298.4,1050.2 1301.4,1042.9 1304.3,1042.9 1308,1037.1" stroke="#000" stroke-width="0.9"/>
<path d="M811.3,1100 812.8,1111.7 813.5,1141 814.5,1156.3 816.4,1152.7 818.6,1148.3 819.8,1152 820.8,1126.3 822.3,1105.9 823.8,1095.6 825.2,1125.6 826.7,1111.7 827.4,1082.4 828.9,1059 831.1,1048.8 833.3,1044.4 836.9,1044.4 839.1,1042.9 841.3,1045.1 843.5,1041.5 845.7,1045.9 847.9,1038.5" stroke="#000" stroke-width="0.9"/>
<path d="M891.8,1031.2 894.7,1019.5 897.7,1022.4 900.6,1025.4 903.5,1022.4 906.4,1019.5 908.6,1026.8 910.8,1032.7 913.8,1038.5 917.4,1042.9 921.1,1042.9 924,1047.3 928.4,1050.2 931.3,1054.6 935.7,1056.1 940.1,1059.8 944.5,1064.1 949.6,1064.1 951.8,1059 954.7,1055.4 957.7,1056.1 962,1061.2 965,1059 969.4,1062.7 972.3,1057.6 975.4,1059 979.5,1068.5 983.2,1064.9 986.1,1067.1 989,1071.5 992,1067.8 994.9,1063.4 999.3,1059 1003.7,1057.6 1008,1054.6 1012.4,1053.2 1016.8,1050.2 1021.2,1046.6 1025.6,1045.1 1030,1048 1035.9,1048 1040.2,1047.3 1043.2,1051.7 1046.1,1056.1 1050.5,1060.5 1053.4,1064.9 1057.8,1066.3 1060.7,1069.3 1063.7,1067.8 1067.3,1070.7 1071,1073.7 1073.2,1081 1076.8,1085.4 1081.2,1091.2 1085.6,1094.1 1088.5,1094.9 1092.9,1092 1097.3,1088.3 1099.5,1092 1103.2,1093.4 1107.6,1092 1112,1094.1 1116.3,1093.4 1119,1096.3 1120.7,1091.2 1125.1,1086.8 1128.1,1084.6 1132.4,1086.8 1136.8,1086.8 1143.3,1088.3 1147.7,1091.2 1152.1,1094.1 1156.5,1095.6 1160.1,1097.1 1165.3,1092.7 1171.1,1088.3 1174,1089 1176.2,1095.6 1178.4,1101.5 1182.8,1098.5 1186.5,1094.1 1190.1,1089.8 1194.5,1088.3 1196.7,1083.9 1198.9,1085.4 1201.1,1079.5 1203.3,1085.4 1206.2,1079.5 1208.4,1073.7 1210.6,1076.6 1213.6,1070.7 1218,1069.3 1222.3,1066.3 1226.7,1069.3 1229.7,1067.8 1232.6,1073.7 1237,1078 1239.9,1081 1242.1,1085.4 1244.3,1079.5 1247.2,1082.4 1250.2,1089.8 1251.6,1092.7 1254.5,1088.3 1258.9,1094.1 1262.2,1101.5 1264.8,1088.3 1267.7,1082.4 1272.1,1081 1276.5,1076.6 1280.9,1073.7 1283.8,1076.6 1288.2,1073.7 1292.6,1067.8 1295.5,1079.5 1298.4,1081 1300.6,1075.1 1302.1,1111.7 1303.1,1129.3 1305,1122 1308,1127.8" stroke="#000" stroke-width="0.9"/>
<path d="M849.4,1029.2 851.2,1032.7 852.3,1031.3 853.8,1035.6 855.6,1031.3 856.9,1035.9 858.3,1032.3 859.9,1036.3 861.3,1035.1 862.8,1037.4 863.9,1035.1 865.3,1039.3 867.1,1036.4 868.2,1038.9 869.5,1033.7 870.6,1034.7 871.6,1030.8 873.1,1033.8 874.8,1030.4 875.9,1032.9 877.1,1031.3 878.5,1033.5 879.9,1031.7 881.3,1033.9 883,1031.5 884,1033.5 885.6,1031.9 887,1033.5 888.2,1031.9 889.4,1033.9 890.5,1031.3" stroke="#000" stroke-width="0.9"/>
<path d="M848,1004.6 849.2,1004.7 850.6,1002.7 852.3,1002 853.3,1001.4 854.7,1000.5 856.5,999.9 857.8,999.6 859.4,998.8 860.4,998.7 861.6,997.3 863.1,995.5 864.9,995.7 866.5,994.8 868.3,994.6 869.8,994.6 870.8,993.6 872.3,997.7 873.9,995.3 875.3,996.8 876.4,995.3 877.6,996.1 878.9,994.4 880.3,996.2 881.4,994.4 883,995.4 884.3,994.3 885.9,994.9 887,994.5 888,995.1 889.8,994.7" stroke="#000" stroke-width="0.9"/>
<path d="M811.3,1045.9 812.8,1048.8 815,1056.1 817.2,1063.4 818.6,1054.6 820.8,1048.8 823,1051.7 824.5,1045.9 827.4,1038.5 830.3,1035.6 833.3,1034.1 836.2,1032.7 840.6,1031.2 843.5,1026.8 846.4,1021 847.9,1018" stroke="#fff" stroke-width="1.5"/>
<path d="M891.8,1009.3 896.2,1011.5 900.6,1013.7 905,1012.9 909.4,1015.1 912.3,1019.5 915.2,1025.4 918.2,1022.4 921.1,1028.3 925.5,1029 929.9,1030.5 932.8,1034.1 935.7,1031.2 938.6,1035.6 941.6,1031.2 945.2,1034.1 948.2,1037.1 951.8,1032.7 954.7,1031.2 957.7,1035.6 960.6,1034.1 962.8,1037.8 965.7,1033.4 969.4,1032.7 973.8,1035.6 975.4,1037.1 978.8,1041.5 983.2,1044.4 987.6,1043.7 992,1045.1 996.3,1044.4 1000.7,1041.5 1005.1,1038.5 1009.5,1037.8 1013.9,1036.3 1018.3,1034.9 1021.2,1033.4 1025.6,1034.9 1031.5,1036.3 1037.3,1038.5 1043.2,1041.5 1049,1042.9 1054.9,1044.4 1060.7,1045.1 1066.6,1046.6 1072.4,1048 1078.3,1049.5 1084.2,1051 1088.5,1053.2 1092.9,1057.6 1097.3,1060.5 1101.7,1062 1106.1,1062.7 1110.5,1061.2 1116.3,1060.5 1120.7,1062 1125.1,1064.9 1129.5,1067.1 1133.9,1068.5 1138.3,1070.7 1141.9,1072.2 1147.7,1075.1 1153.6,1075.9 1158,1078 1162.3,1075.1 1166.7,1071.5 1171.1,1073.7 1175.5,1067.8 1179.9,1064.9 1184.3,1063.4 1188.7,1060.5 1194.5,1057.6 1198.9,1055.4 1203.3,1057.6 1209.2,1056.1 1215,1057.6 1220.9,1058.3 1226.7,1056.1 1232.6,1056.1 1238.4,1053.9 1244.3,1053.2 1248.7,1057.6 1251.6,1053.2 1256,1059 1260.4,1060.5 1264.8,1059.8 1269.2,1059.8 1273.6,1060.5 1278,1061.2 1282.3,1064.9 1286.7,1066.3 1291.1,1065.6 1294.8,1066.3 1297,1081 1299.2,1070.7 1301.4,1057.6 1304.3,1060.5 1308,1056.1" stroke="#fff" stroke-width="1.5"/>
<path d="M811.3,1041.5 813.5,1042.9 815.7,1047.3 817.9,1044.4 820.1,1038.5 822.3,1036.3 824.5,1038.5 826.7,1031.2 828.1,1022.4 830.3,1021 831.8,1029.8 834,1032.7 836.2,1028.3 839.1,1023.9 842,1021 845,1018 847.9,1012.2" stroke="#000" stroke-width="3.6"/>
<path d="M891.8,1001.9 894.7,1006.3 899.1,1008.5 903.5,1007.1 907.9,1007.8 912.3,1011.5 916.7,1014.4 921.1,1015.1 925.5,1018 929.9,1019.5 934.2,1018 937.2,1016.6 941.6,1017.3 946,1018.8 950.4,1019.5 953.3,1018.8 956.9,1022.4 960.6,1023.9 965,1022.4 969.4,1023.9 973.8,1028.3 975.4,1030.5 980.2,1032.7 984.6,1027.6 989,1030.5 993.4,1033.4 997.1,1035.6 1000.7,1029.8 1005.1,1027.6 1011,1027.6 1016.8,1026.8 1022.7,1028.3 1028.5,1030.5 1034.4,1030.5 1040.2,1032.7 1046.1,1036.3 1051.9,1039.3 1057.8,1041.5 1063.7,1042.2 1069.5,1042.9 1075.4,1045.1 1081.2,1047.3 1087.1,1048 1091.5,1051.7 1095.9,1055.4 1100.2,1055.4 1104.6,1053.9 1110.5,1053.2 1114.9,1055.4 1119.3,1057.6 1123.7,1059.8 1128.1,1062 1132.4,1063.4 1136.8,1064.1 1143.3,1060.5 1150.6,1060.5 1153.6,1063.4 1157.2,1068.5 1160.9,1065.6 1165.3,1063.4 1171.1,1059.8 1177,1059 1182.8,1057.6 1188.7,1054.6 1194.5,1051.7 1198.9,1048.8 1203.3,1049.5 1209.2,1051.7 1215,1052.4 1220.9,1051 1226.7,1052.4 1232.6,1051 1237,1047.3 1241.4,1045.9 1245.8,1048 1250.2,1047.3 1253.1,1048.8 1256,1054.6 1260.4,1056.1 1264.8,1055.4 1269.2,1053.2 1272.1,1051.7 1275,1056.1 1279.4,1059 1283.8,1059.8 1288.2,1059 1291.1,1062 1294,1064.9 1296.2,1045.9 1297.7,1067.8 1299.2,1053.2 1301.4,1048.8 1304.3,1050.2 1308,1042.9" stroke="#000" stroke-width="3.6"/>
<path d="M811.3,1056.1 812.5,1082.4 813.5,1104.4 814.5,1113.2 815.7,1104.4 817.2,1097.1 818.6,1085.4 819.8,1089.8 820.8,1067.8 823,1060.5 826,1059 827.4,1051.7 828.9,1044.4 831.1,1040 833.3,1041.5 835.5,1037.1 839.1,1038.5 842,1035.6 845,1036.3 847.9,1035.6" stroke="#000" stroke-width="3.6"/>
<path d="M891.8,1022.4 896.2,1018 900.6,1015.9 905,1016.6 907.9,1019.5 910.8,1023.9 913.8,1029.8 916.7,1034.1 921.1,1036.3 925.5,1039.3 929.9,1040 934.2,1042.9 937.2,1044.4 938.6,1042.2 941.6,1046.6 946,1046.6 950.4,1048.8 954.7,1045.9 959.1,1046.6 963.5,1047.3 967.9,1047.3 972.3,1045.9 975.4,1048.8 978.8,1054.6 983.2,1056.1 987.6,1054.6 992,1052.4 995.6,1051 999.3,1051.7 1003.7,1050.2 1008,1048 1012.4,1045.9 1016.8,1042.9 1021.2,1040 1025.6,1038.5 1030,1040 1034.4,1042.2 1040.2,1044.4 1046.1,1047.3 1051.9,1048.8 1057.8,1051.7 1063.7,1054.6 1068.1,1056.1 1072.4,1058.3 1076.8,1059.8 1082.7,1062.7 1088.5,1063.4 1092.9,1063.4 1097.3,1067.8 1101,1071.5 1106.1,1069.3 1110.5,1067.8 1114.9,1067.8 1119.3,1071.5 1123.7,1074.4 1128.1,1076.6 1132.4,1075.9 1136.8,1078 1140.4,1078 1144.8,1082.4 1149.2,1085.4 1153.6,1083.9 1158,1082.4 1161.6,1082.4 1165.3,1076.6 1169.7,1079.5 1174,1077.3 1178.4,1075.1 1182.8,1070.7 1187.2,1067.8 1190.1,1064.9 1194.5,1066.3 1198.9,1065.6 1201.8,1063.4 1206.2,1064.9 1212.1,1063.4 1218,1064.1 1222.3,1062 1226.7,1061.2 1232.6,1063.4 1238.4,1064.1 1242.8,1062.7 1245.8,1064.9 1248.7,1067.8 1251.6,1070.7 1254.5,1076.6 1258.9,1077.3 1261.9,1075.9 1264.8,1073.7 1269.2,1076.6 1273.6,1070.7 1278,1067.8 1282.3,1069.3 1285.3,1072.2 1288.2,1069.3 1291.1,1067.8 1294,1066.3 1297,1079.5 1299.9,1067.8 1302.1,1082.4 1303.6,1095.6 1305.8,1091.2 1308,1073.7" stroke="#000" stroke-width="3.6"/>
<path d="M848,1006.3 849.4,1011.8 850.7,1003.8 852.3,1008.7 853.6,1002.4 854.7,1009.1 855.9,1001.7 856.8,1006.7 857.9,1000.4 858.9,1005.7 860.3,1001.6 861.7,1007.7 862.9,996 863.9,999.5 865.1,995.1 866.6,999.8 868.3,995.5 869.6,1000.5 870.9,994.9 871.9,1004.5 872.9,1002.6 874,1010.2 875.6,1002.1 877.1,1002.9 878.6,997.3 879.9,1001.7 881,998 882.6,999.8 883.8,995.9 885,997.9 886.2,995.4 887.2,998.2 888.8,996.1 890.1,1000.9" stroke="#000" stroke-width="3.6"/>
<path d="M849.4,1022 850.5,1028.6 852.3,1022.1 853.4,1028.1 854.7,1024 855.8,1028.2 857.1,1023.5 858.9,1030.1 860.6,1024.1 861.6,1030.5 863.1,1022.8 864.2,1031.2 865.7,1025.2 867.3,1031.3 868.8,1024 870.3,1031 872.1,1022 873.7,1027.7 875.2,1022.3 876.9,1029 878.1,1022.1 879.5,1031 881.2,1022 882.6,1029.8 884.2,1023 885.4,1030 886.9,1021.7 888.4,1029.6 889.7,1023.6 891.1,1031" stroke="#000" stroke-width="3.6"/>
<path d="M1295,1055.4 1296,1070.9 1296.6,1052 1297.4,1074.6 1298,1048" stroke="#000" stroke-width="3.6"/>
<path d="M1301,1057.4 1302,1090.2 1303,1049.6 1303.9,1092.8 1304.8,1048.1 1305.7,1084.6" stroke="#000" stroke-width="3.6"/>
<path d="M811.3,1053.9 814.2,1053.2 816.4,1045.1 819.4,1044.4" stroke="#ff0000" stroke-width="2.4"/>
<path d="M823,1040.7 828.1,1041.2 834,1042.2 836.2,1037.8 838.4,1034.4 841.3,1034.9 843.5,1035.6 847.9,1035.6" stroke="#ff0000" stroke-width="2.4"/>
<path d="M871.3,1022.4 872.8,1026.8 874.2,1028.3 878.6,1028.3 880.8,1030.5 890.3,1030.9 892.5,1026.8 894.7,1018 896.5,1010.7 899.1,1009.7 903.5,1009.3 907.9,1011.5 912.3,1013.7 916.7,1015.1 921.1,1016.6 924,1018.8 926.2,1023.9 928.4,1026.8 929.9,1032.7 931.3,1038.5 933.5,1042.9 935,1056.1 937.2,1059.8 939.4,1070.7 940.8,1075.9 944.5,1078 946.7,1081.4 948.2,1080.2 949.6,1075.1 951.8,1070.7 954,1071.5 955.5,1072.9 957.7,1067.8 959.1,1063.7 963.5,1063.1 966.4,1056.1 967.9,1052 971.6,1051.7 974.4,1045.9 975.9,1040.3 978,1040.7 979.5,1048.8 981.7,1058.3 984.6,1056.8 986.1,1056.1 987.6,1061.2 989.8,1057.6 992,1054.6 994.1,1056.1 998.5,1055.8 1000.7,1048.8 1002.9,1041.5 1005.9,1034.1 1008.8,1032.4 1013.9,1032.7 1016.1,1029.8 1019,1029.5 1022.7,1031.2 1025.6,1034.1 1027.8,1038.5 1031.5,1040.7 1035.9,1041.5 1040.2,1043.7 1044.6,1045.9 1050.5,1046.6 1054.9,1048.8 1059.3,1051 1063.7,1053.2 1066.6,1056.1 1068.8,1062 1071,1069.3 1073.2,1072.2 1075.4,1079.5 1078.3,1086.8 1080.5,1090.5 1084.2,1093.4 1087.1,1092 1089.3,1092.7 1091.5,1089 1095.1,1084.6 1098.8,1082.4 1102.4,1080.7 1104.6,1079.8 1107.6,1081 1111.2,1080.7 1114.1,1081.7 1117.8,1084.6 1121.5,1087.6 1125.1,1089 1128.8,1086.8 1132.4,1086.8 1136.8,1086.5 1140.4,1085.4 1142.6,1083.6 1144,1087.6 1147.7,1089 1152.1,1092 1155.8,1095.6 1158,1097.1 1158.7,1108 1161.6,1109.5 1163.1,1113.2 1165.3,1114.6 1167.5,1119 1170.4,1120.5 1172.6,1126.3 1175.2,1132.9 1177,1129.3 1178.4,1126.3 1179.9,1114.6 1182.1,1105.9 1185,1098.5 1188,1098.5 1190.9,1096.3 1192.3,1092 1198.9,1092 1201.8,1095.6 1204,1100 1205.5,1102.9 1207,1092.7 1209.2,1097.1 1212.1,1094.9 1215,1089 1218,1085.4 1222.3,1081 1226,1080.2 1228.9,1079.5 1230.4,1076.3 1232.6,1076.6 1235.5,1078.8 1238.4,1080.2 1241.4,1081.7 1243.6,1079.5 1245.8,1082.4 1248,1081 1250.2,1079.5 1253.1,1082.4 1256,1081 1260.4,1083.2 1263.3,1081 1268.4,1079.5 1269.5,1076.6 1272.1,1076.6 1272.8,1071.5 1282.3,1071" stroke="#ff0000" stroke-width="2.4"/>
<path d="M1303.6,1146.8 1307.5,1146.8" stroke="#ff0000" stroke-width="2.4"/>
</g>
<rect x="799.2" y="908.3" width="5.4" height="4" fill="#4c566a"/>
<rect x="800.5" y="951.3" width="4.1" height="4" fill="#4c566a"/>
<rect x="799.2" y="994.3" width="5.4" height="4" fill="#4c566a"/>
<rect x="800.5" y="1037.3" width="4.1" height="4" fill="#4c566a"/>
<rect x="799.2" y="1080.3" width="5.4" height="4" fill="#4c566a"/>
<rect x="800.5" y="1123.4" width="4.1" height="4" fill="#4c566a"/>
<rect x="799.2" y="1166.4" width="5.4" height="4" fill="#4c566a"/>
<rect x="800.5" y="1209.4" width="4.1" height="4" fill="#4c566a"/>
<rect x="799.2" y="1252.4" width="5.4" height="4" fill="#4c566a"/>
<rect x="805.6" y="1257.4" width="4" height="5.2" fill="#4c566a"/>
<rect x="847.6" y="1257.4" width="4" height="5.2" fill="#4c566a"/>
<rect x="889.5" y="1257.4" width="4" height="5.2" fill="#4c566a"/>
<rect x="931.5" y="1257.4" width="4" height="5.2" fill="#4c566a"/>
<rect x="973.5" y="1257.4" width="4" height="5.2" fill="#4c566a"/>
<rect x="1015.4" y="1257.4" width="4" height="5.2" fill="#4c566a"/>
<rect x="1057.4" y="1257.4" width="4" height="5.2" fill="#4c566a"/>
<rect x="1099.4" y="1257.4" width="4" height="5.2" fill="#4c566a"/>
<rect x="1141.3" y="1257.4" width="4" height="5.2" fill="#4c566a"/>
<rect x="1183.3" y="1257.4" width="4" height="5.2" fill="#4c566a"/>
<rect x="1225.3" y="1257.4" width="4" height="5.2" fill="#4c566a"/>
<rect x="1267.2" y="1257.4" width="4" height="5.2" fill="#4c566a"/>
<rect x="1309.2" y="1257.4" width="4" height="5.2" fill="#4c566a"/>
<rect x="807.6" y="910.3" width="503.6" height="344.1" fill="none" stroke="#4c566a" stroke-width="7" stroke-linejoin="round"/>
<rect x="801.6" y="1254.7" width="12" height="30.5" fill="#333"/>
<rect x="969.5" y="1254.7" width="12" height="30.5" fill="#333"/>
<rect x="1137.3" y="1254.7" width="12" height="30.5" fill="#333"/>
</g>
<text x="405.5" y="43.9" font-size="54.5" fill="#1a1a1a" text-anchor="start" textLength="175.5" lengthAdjust="spacingAndGlyphs">TB-SSS</text>
<text x="967.5" y="43.9" font-size="54.5" fill="#1a1a1a" text-anchor="start" textLength="184.5" lengthAdjust="spacingAndGlyphs">OC-SSS</text>
<text x="10" y="132.8" font-size="56" fill="#000" text-anchor="start" textLength="41.5" lengthAdjust="spacingAndGlyphs" stroke="#000" stroke-width="1.1">a)</text>
<text x="132.5" y="207.2" font-size="46" fill="#4a4a4a" text-anchor="start" textLength="52" lengthAdjust="spacingAndGlyphs">32</text>
<text x="132.5" y="373.8" font-size="46" fill="#4a4a4a" text-anchor="start" textLength="52" lengthAdjust="spacingAndGlyphs">28</text>
<text x="132.5" y="612.7" font-size="46" fill="#4a4a4a" text-anchor="start" textLength="52" lengthAdjust="spacingAndGlyphs">32</text>
<text x="132.5" y="779.3" font-size="46" fill="#4a4a4a" text-anchor="start" textLength="52" lengthAdjust="spacingAndGlyphs">28</text>
<text x="132.5" y="1018.3" font-size="46" fill="#4a4a4a" text-anchor="start" textLength="52" lengthAdjust="spacingAndGlyphs">32</text>
<text x="132.5" y="1184.9" font-size="46" fill="#4a4a4a" text-anchor="start" textLength="52" lengthAdjust="spacingAndGlyphs">28</text>
<text x="157" y="1345.3" font-size="54" fill="#4a4a4a" text-anchor="start" textLength="137" lengthAdjust="spacingAndGlyphs">01 Jan</text>
<text x="326.5" y="1345.3" font-size="54" fill="#4a4a4a" text-anchor="start" textLength="160" lengthAdjust="spacingAndGlyphs">01 May</text>
<text x="530.5" y="1345.3" font-size="54" fill="#4a4a4a" text-anchor="start" textLength="143.5" lengthAdjust="spacingAndGlyphs">01 Sep</text>
<text x="724.1" y="1345.3" font-size="54" fill="#4a4a4a" text-anchor="start" textLength="137" lengthAdjust="spacingAndGlyphs">01 Jan</text>
<text x="893.6" y="1345.3" font-size="54" fill="#4a4a4a" text-anchor="start" textLength="160" lengthAdjust="spacingAndGlyphs">01 May</text>
<text x="1097.6" y="1345.3" font-size="54" fill="#4a4a4a" text-anchor="start" textLength="143.5" lengthAdjust="spacingAndGlyphs">01 Sep</text>
<text transform="translate(64.5,884) rotate(-90)" font-size="70" fill="#1a1a1a" textLength="416" lengthAdjust="spacingAndGlyphs">Salinity (g kg<tspan dy="-27" font-size="44">−1</tspan><tspan dy="27">)</tspan></text>
<text transform="translate(1368.8,110) rotate(90)" font-size="57" fill="#1a1a1a" textLength="324" lengthAdjust="spacingAndGlyphs">Gaspé Current</text>
<text transform="translate(1368.8,515.5) rotate(90)" font-size="57" fill="#1a1a1a" textLength="326.5" lengthAdjust="spacingAndGlyphs">Northeast GSL</text>
<text transform="translate(1368.8,1015.7) rotate(90)" font-size="57" fill="#1a1a1a" textLength="131" lengthAdjust="spacingAndGlyphs">Cabot</text>
<g>
<path d="M1586.6,104.5 C1551,104.5 1528,133 1528,172 L1528,384 C1528,423 1551,451.3 1586.6,451.3" fill="none" stroke="#4c566a" stroke-width="4.2"/>
<path d="M1586.6,104.5 C1551,104.5 1528,133 1528,172 L1528,384 C1528,423 1551,451.3 1586.6,451.3" fill="none" stroke="#fff" stroke-width="1.7" stroke-linecap="square"/>
<path d="M2076.4,104.5 C2112,104.5 2135.3,133 2135.3,172 L2135.3,384 C2135.3,423 2112,451.3 2076.4,451.3" fill="none" stroke="#4c566a" stroke-width="4.2"/>
<path d="M2076.4,104.5 C2112,104.5 2135.3,133 2135.3,172 L2135.3,384 C2135.3,423 2112,451.3 2076.4,451.3" fill="none" stroke="#fff" stroke-width="1.7" stroke-linecap="square"/>
<rect x="1575.5" y="189.4" width="63.8" height="54.5" fill="#e6e4e4"/>
<rect x="1575.5" y="243.9" width="63.8" height="118.5" fill="#c6ced4"/>
<rect x="1575.5" y="362.4" width="63.8" height="54.1" fill="#e6e4e4"/>
<line x1="1575.5" x2="1639.3" y1="189.4" y2="189.4" stroke="#222" stroke-width="1.2"/>
<line x1="1575.5" x2="1639.3" y1="416.5" y2="416.5" stroke="#222" stroke-width="1.2"/>
<line x1="1575.5" x2="1639.3" y1="243.9" y2="243.9" stroke="#000" stroke-width="3.4"/>
<line x1="1575.5" x2="1639.3" y1="362.4" y2="362.4" stroke="#000" stroke-width="3.4"/>
<line x1="1575.5" x2="1639.3" y1="303.8" y2="303.8" stroke="#fff" stroke-width="3.2"/>
<line x1="1846.7" x2="1910.5" y1="189.4" y2="189.4" stroke="#f03a1f" stroke-width="3"/>
<text x="1563" y="156.3" font-size="37" fill="#111" text-anchor="start" textLength="168" lengthAdjust="spacingAndGlyphs" font-weight="bold">Percentiles</text>
<text x="1833.5" y="156.3" font-size="37" fill="#111" text-anchor="start" textLength="259.5" lengthAdjust="spacingAndGlyphs" font-weight="bold">Highlighted year</text>
<text x="1644.5" y="203.5" font-size="38" fill="#111" text-anchor="start" textLength="62" lengthAdjust="spacingAndGlyphs" font-weight="bold">90%</text>
<text x="1644.5" y="257.6" font-size="38" fill="#111" text-anchor="start" textLength="62" lengthAdjust="spacingAndGlyphs" font-weight="bold">70%</text>
<text x="1645" y="312.8" font-size="38" fill="#111" text-anchor="start" textLength="116.5" lengthAdjust="spacingAndGlyphs" font-weight="bold">median</text>
<text x="1644.5" y="374.6" font-size="38" fill="#111" text-anchor="start" textLength="62" lengthAdjust="spacingAndGlyphs" font-weight="bold">30%</text>
<text x="1645" y="430.2" font-size="38" fill="#111" text-anchor="start" textLength="58" lengthAdjust="spacingAndGlyphs" font-weight="bold">10%</text>
<text x="1917" y="203.5" font-size="38" fill="#111" text-anchor="start" textLength="65.5" lengthAdjust="spacingAndGlyphs" font-weight="bold">2017</text>
</g>
<g>
<rect x="1529.8" y="519.8" width="957.3" height="732.1" fill="#fff"/>
<clipPath id="mc"><rect x="1533.3" y="523.3" width="950.3" height="725.1"/></clipPath>
<g clip-path="url(#mc)" fill="none" stroke="#b4b4b4" stroke-width="1.3" stroke-linejoin="round" stroke-linecap="round">
<path d="M1593.7,523.9 C1592.3,526.7 1584.4,535.9 1585.3,540.6 C1586.3,545.2 1596.7,544.8 1599.2,551.7 C1601.8,558.7 1601.3,574.9 1600.6,582.3 C1599.9,589.7 1598.5,591.5 1595.1,596.2 C1591.6,600.8 1583.8,605.2 1579.8,610.1 C1575.7,614.9 1572.1,622.8 1570.6,625.4 M1599.2,551.7 C1602.7,549.4 1612.7,542.4 1620.1,537.8 C1627.5,533.2 1639.8,526.2 1643.7,523.9 M1631.2,589.2 C1632.1,591.3 1634.2,596.2 1636.8,601.7 C1639.3,607.3 1646.0,616.1 1646.5,622.6 C1647.0,629.1 1640.9,635.3 1639.5,640.7 C1638.2,646.0 1639.3,649.0 1638.2,654.6 C1637.0,660.1 1634.7,667.1 1632.6,674.0 C1630.5,681.0 1626.8,689.3 1625.6,696.3 C1624.5,703.2 1627.3,709.7 1625.6,715.7 C1624.0,721.8 1620.1,728.2 1615.9,732.4 C1611.7,736.6 1604.6,736.1 1600.6,740.7 C1596.7,745.4 1595.3,755.1 1592.3,760.2 C1589.3,765.3 1584.9,767.9 1582.6,771.3 C1580.2,774.8 1579.1,779.4 1578.4,781.1 M1581.7,651.2 C1582.7,652.7 1586.8,655.9 1587.6,660.1 C1588.3,664.4 1587.5,673.3 1586.2,676.8 C1584.9,680.3 1582.0,679.5 1579.8,681.0 C1577.5,682.5 1574.0,684.9 1572.8,685.7 M1674.3,617.9 C1675.0,620.3 1676.8,627.1 1678.5,632.3 C1680.1,637.5 1683.8,642.5 1684.0,649.0 C1684.3,655.5 1680.8,663.8 1679.9,671.2 C1678.9,678.7 1678.5,686.1 1678.5,693.5 C1678.5,700.9 1679.4,709.2 1679.9,715.7 C1680.3,722.2 1679.2,729.2 1681.2,732.4 C1683.3,735.7 1689.6,733.9 1692.4,735.2 C1695.1,736.5 1697.0,739.4 1697.9,740.2 M1697.4,523.9 C1698.4,526.7 1702.1,534.6 1703.5,540.6 C1704.9,546.6 1706.6,553.6 1705.7,560.0 C1704.8,566.5 1698.8,573.0 1697.9,579.5 C1697.1,586.0 1700.7,592.5 1700.7,599.0 C1700.7,605.4 1697.7,612.9 1697.9,618.4 C1698.2,624.0 1700.0,627.7 1702.1,632.3 C1704.2,637.0 1709.7,641.8 1710.4,646.2 C1711.1,650.6 1705.6,654.6 1706.3,658.7 C1707.0,662.9 1711.8,667.3 1714.6,671.2 C1717.4,675.2 1721.6,678.7 1722.9,682.4 C1724.3,686.1 1723.9,689.3 1722.9,693.5 C1722.0,697.7 1718.8,703.2 1717.4,707.4 C1716.0,711.6 1714.6,715.5 1714.6,718.5 C1714.6,721.5 1716.9,724.3 1717.4,725.5 M1730.5,523.9 C1732.0,527.1 1737.2,537.3 1739.6,543.4 C1742.1,549.4 1743.7,554.5 1745.2,560.0 C1746.7,565.6 1748.1,571.2 1748.5,576.7 C1749.0,582.3 1747.8,588.3 1748.0,593.4 C1748.1,598.5 1749.8,602.7 1749.4,607.3 C1748.9,611.9 1746.6,616.6 1745.2,621.2 C1743.8,625.8 1743.0,631.2 1741.0,635.1 C1739.1,639.0 1733.7,641.6 1733.5,644.8 C1733.3,648.1 1737.0,651.6 1739.6,654.6 C1742.3,657.6 1747.0,659.2 1749.4,662.9 C1751.7,666.6 1752.1,672.6 1753.5,676.8 C1754.9,681.0 1758.2,683.8 1757.7,687.9 C1757.2,692.1 1752.0,697.7 1750.7,701.8 C1749.5,706.0 1749.3,710.2 1750.2,712.9 C1751.1,715.7 1755.3,717.6 1756.3,718.5 M1760.5,523.9 C1760.2,526.2 1758.4,533.2 1759.1,537.8 C1759.8,542.4 1763.5,547.1 1764.6,551.7 C1765.8,556.3 1767.0,560.5 1766.0,565.6 C1765.1,570.7 1762.0,577.6 1759.1,582.3 C1756.2,587.0 1750.3,592.0 1748.5,594.0 M1781.3,563.4 C1780.6,566.1 1778.8,574.0 1777.2,579.5 C1775.5,585.0 1773.7,590.6 1771.6,596.2 C1769.5,601.7 1767.3,608.0 1764.6,612.9 C1762.0,617.7 1756.2,622.1 1755.8,625.4 C1755.3,628.6 1759.5,629.8 1761.9,632.3 C1764.3,634.9 1769.1,636.5 1770.2,640.7 C1771.4,644.8 1769.5,651.8 1768.8,657.3 C1768.1,662.9 1767.9,668.9 1766.0,674.0 C1764.2,679.1 1759.1,685.6 1757.7,687.9 M1802.2,529.5 C1801.9,530.4 1799.6,532.2 1800.8,535.0 C1801.9,537.8 1806.1,542.0 1809.1,546.1 C1812.1,550.3 1816.3,555.4 1818.9,560.0 C1821.4,564.7 1822.8,569.3 1824.4,573.9 C1826.0,578.6 1827.0,583.2 1828.6,587.8 C1830.2,592.5 1832.8,597.1 1834.2,601.7 C1835.5,606.4 1835.3,611.5 1836.9,615.6 C1838.6,619.8 1841.6,624.2 1843.9,626.8 C1846.2,629.3 1848.1,630.5 1850.8,630.9 C1853.5,631.4 1858.5,629.8 1860.0,629.5 M1811.9,592.8 C1813.8,593.9 1820.7,595.2 1823.0,599.0 C1825.3,602.8 1826.3,610.1 1825.8,615.6 C1825.3,621.2 1821.2,626.8 1820.3,632.3 C1819.3,637.9 1819.3,643.9 1820.3,649.0 C1821.2,654.1 1823.7,658.5 1825.8,662.9 C1827.9,667.3 1831.8,671.9 1832.8,675.4 C1833.7,678.9 1833.0,681.7 1831.4,683.8 C1829.7,685.8 1824.7,684.9 1823.0,687.9 C1821.4,690.9 1822.1,697.9 1821.6,701.8 C1821.2,705.8 1820.5,709.9 1820.3,711.6 M1838.3,523.9 C1839.0,525.1 1838.9,529.6 1842.5,530.9 C1846.1,532.1 1857.1,531.5 1860.0,531.7 M1850.8,543.9 L1860.0,547.5 M1860.0,596.2 C1859.4,598.0 1856.4,604.1 1856.4,607.3 C1856.4,610.5 1859.4,614.3 1860.0,615.6 M1533.9,721.3 C1534.1,723.6 1534.1,731.0 1535.3,735.2 C1536.4,739.4 1539.7,741.7 1540.9,746.3 C1542.0,750.9 1541.1,757.9 1542.2,763.0 C1543.4,768.1 1545.5,773.0 1547.8,776.9 C1550.1,780.8 1553.8,783.8 1556.1,786.6 C1558.5,789.4 1560.3,790.1 1561.7,793.6 C1563.1,797.0 1563.6,803.3 1564.5,807.5 C1565.4,811.6 1566.1,815.1 1567.3,818.6 C1568.4,822.1 1570.0,826.0 1571.4,828.3 C1572.8,830.6 1574.7,830.6 1575.6,832.5 C1576.5,834.3 1577.5,837.6 1577.0,839.4 C1576.5,841.3 1572.4,843.1 1572.8,843.6 C1573.3,844.1 1576.5,842.9 1579.8,842.2 C1583.0,841.5 1590.0,840.8 1592.3,839.4 C1594.6,838.1 1594.8,835.5 1593.7,833.9 C1592.5,832.3 1585.1,830.9 1585.3,829.7 C1585.6,828.6 1592.5,828.3 1595.1,826.9 C1597.6,825.5 1597.8,822.5 1600.6,821.4 C1603.4,820.2 1607.6,820.1 1611.7,820.0 C1615.9,819.9 1621.0,821.1 1625.6,820.8 C1630.3,820.5 1634.7,818.5 1639.5,818.0 C1644.4,817.6 1650.4,820.7 1654.8,818.0 C1659.2,815.3 1663.9,806.5 1666.0,801.9 C1668.0,797.4 1666.2,795.0 1667.3,790.8 C1668.5,786.6 1671.5,781.1 1672.9,776.9 C1674.3,772.7 1674.3,768.8 1675.7,765.8 C1677.1,762.8 1679.4,761.1 1681.2,758.8 C1683.1,756.5 1685.2,754.4 1686.8,751.9 C1688.4,749.3 1689.1,745.5 1691.0,743.5 C1692.8,741.6 1694.9,741.4 1697.9,740.2 C1700.9,739.0 1705.8,739.0 1709.0,736.6 C1712.3,734.1 1714.6,727.5 1717.4,725.5 C1720.2,723.4 1724.8,725.2 1725.7,724.1 C1726.7,722.9 1722.5,720.3 1722.9,718.5 C1723.4,716.7 1726.7,714.2 1728.5,713.5 C1730.3,712.8 1732.6,713.3 1733.5,714.3 C1734.4,715.4 1732.1,718.8 1734.1,719.9 C1736.0,721.0 1741.5,720.3 1745.2,720.7 C1748.9,721.2 1754.2,723.3 1756.3,722.7 C1758.4,722.1 1756.3,718.7 1757.7,717.1 C1759.1,715.5 1762.6,713.4 1764.6,712.9 C1766.7,712.5 1767.4,713.6 1770.2,714.3 C1773.0,715.0 1777.2,717.0 1781.3,717.1 C1785.5,717.3 1790.6,716.0 1795.2,715.2 C1799.9,714.4 1805.0,713.0 1809.1,712.4 C1813.3,711.8 1817.0,711.2 1820.3,711.6 C1823.5,711.9 1824.4,713.6 1828.6,714.3 C1832.8,715.0 1840.0,715.4 1845.3,715.7 C1850.5,716.1 1857.5,716.2 1860.0,716.3 M1533.9,850.6 C1535.8,851.5 1541.5,855.0 1545.0,856.1 C1548.5,857.3 1552.9,858.4 1554.8,857.5 C1556.6,856.6 1554.5,852.6 1556.1,850.6 C1557.8,848.5 1561.2,848.0 1564.5,845.0 C1567.7,842.0 1573.7,834.6 1575.6,832.5 M1533.9,868.6 C1535.8,867.5 1541.5,863.3 1545.0,861.7 C1548.5,860.1 1553.1,859.4 1554.8,858.9 M1597.8,890.0 C1601.1,888.6 1610.4,884.2 1617.3,881.1 C1624.3,878.0 1631.7,874.7 1639.5,871.4 C1647.4,868.2 1656.7,864.7 1664.6,861.7 C1672.4,858.7 1678.9,856.1 1686.8,853.3 C1694.7,850.6 1703.5,847.3 1711.8,845.0 C1720.2,842.7 1729.0,841.0 1736.8,839.4 C1744.7,837.9 1752.6,836.6 1759.1,835.8 C1765.6,835.0 1770.2,835.3 1775.8,834.7 C1781.3,834.2 1786.4,832.5 1792.4,832.5 C1798.5,832.5 1805.4,833.6 1811.9,834.7 C1818.4,835.9 1825.3,837.7 1831.4,839.4 C1837.4,841.2 1843.3,843.3 1848.1,845.0 C1852.8,846.7 1858.0,848.9 1860.0,849.7 M1714.6,872.8 C1715.3,872.3 1716.9,869.3 1718.8,870.0 C1720.6,870.7 1723.6,873.6 1725.7,877.0 C1727.8,880.3 1730.4,887.9 1731.3,890.0 M1786.9,879.8 L1789.7,890.0 M1795.2,867.2 C1795.7,868.4 1795.7,871.6 1798.0,874.2 C1800.3,876.7 1805.9,880.7 1809.1,882.5 C1812.4,884.4 1815.2,886.7 1817.5,885.3 C1819.8,883.9 1821.6,875.1 1823.0,874.2 C1824.4,873.3 1824.0,877.9 1825.8,879.8 C1827.7,881.6 1830.4,884.8 1834.2,885.3 C1837.9,885.8 1843.7,883.9 1848.1,882.5 C1852.4,881.1 1858.0,877.9 1860.0,877.0 M1860.0,546.1 C1860.7,549.4 1863.9,558.7 1864.2,565.6 C1864.4,572.6 1862.1,582.7 1861.4,587.8 C1860.7,592.9 1860.2,594.8 1860.0,596.2 M1862.8,629.5 C1863.9,632.8 1868.1,642.5 1869.7,649.0 C1871.4,655.5 1870.4,662.4 1872.5,668.5 C1874.6,674.5 1881.1,680.0 1882.2,685.1 C1883.4,690.2 1879.7,694.6 1879.5,699.0 C1879.2,703.4 1880.6,709.5 1880.9,711.6 M1894.8,551.1 C1895.9,552.6 1898.5,557.2 1901.7,560.0 C1904.9,562.9 1912.1,563.3 1914.2,568.4 C1916.3,573.5 1916.3,584.1 1914.2,590.6 C1912.1,597.1 1904.9,602.4 1901.7,607.3 C1898.5,612.2 1895.2,616.1 1894.8,619.8 C1894.3,623.5 1897.1,626.3 1898.9,629.5 C1900.8,632.8 1905.9,635.6 1905.9,639.3 C1905.9,643.0 1899.4,647.8 1898.9,651.8 C1898.5,655.7 1901.2,659.2 1903.1,662.9 C1904.9,666.6 1909.3,669.9 1910.0,674.0 C1910.7,678.2 1909.1,683.3 1907.3,687.9 C1905.4,692.6 1901.2,697.0 1898.9,701.8 C1896.6,706.7 1894.3,714.6 1893.4,717.1 M1930.9,523.9 C1930.7,525.8 1928.6,531.3 1929.5,535.0 C1930.4,538.7 1935.1,541.0 1936.5,546.1 C1937.8,551.2 1939.0,560.0 1937.8,565.6 C1936.7,571.2 1930.0,575.6 1929.5,579.5 C1929.0,583.4 1932.3,587.4 1935.1,589.2 C1937.8,591.1 1942.5,589.0 1946.2,590.6 C1949.9,592.2 1954.6,596.2 1957.3,599.0 C1960.0,601.7 1962.3,603.6 1962.3,607.3 C1962.3,611.0 1957.2,617.0 1957.3,621.2 C1957.4,625.4 1960.5,628.2 1962.9,632.3 C1965.2,636.5 1969.4,642.5 1971.2,646.2 C1973.0,649.9 1973.7,650.4 1973.4,654.6 C1973.2,658.7 1969.7,666.6 1969.8,671.2 C1969.9,675.9 1974.0,678.2 1974.0,682.4 C1974.0,686.5 1970.5,692.6 1969.8,696.3 C1969.1,700.0 1970.5,701.6 1969.8,704.6 C1969.1,707.6 1966.3,712.7 1965.6,714.3 M1973.4,567.0 C1974.0,568.2 1974.6,573.2 1976.8,573.9 C1978.9,574.6 1981.9,570.0 1986.5,571.2 C1991.1,572.3 1999.2,576.7 2004.6,580.9 C2009.9,585.1 2013.4,591.5 2018.5,596.2 C2023.6,600.8 2030.5,604.5 2035.1,608.7 C2039.8,612.9 2042.1,617.3 2046.3,621.2 C2050.4,625.1 2057.5,629.1 2060.2,632.3 C2062.9,635.6 2062.4,638.3 2062.4,640.7 C2062.4,643.0 2059.8,644.1 2060.2,646.2 C2060.5,648.3 2064.6,650.2 2064.3,653.2 C2064.1,656.2 2059.2,660.8 2058.8,664.3 C2058.3,667.8 2061.3,670.1 2061.6,674.0 C2061.8,678.0 2059.5,684.5 2060.2,687.9 C2060.9,691.4 2065.7,691.2 2065.7,694.9 C2065.7,698.6 2062.3,705.7 2060.2,710.2 C2058.1,714.7 2054.4,719.9 2053.2,721.8 M1999.0,523.9 C2001.8,525.1 2010.6,528.1 2015.7,530.9 C2020.8,533.6 2025.0,537.1 2029.6,540.6 C2034.2,544.1 2038.6,548.2 2043.5,551.7 C2048.4,555.2 2055.1,558.2 2058.8,561.4 C2062.5,564.7 2063.4,569.1 2065.7,571.2 C2068.0,573.2 2071.5,573.5 2072.7,573.9 M2079.6,523.9 C2080.3,525.1 2083.8,527.8 2083.8,530.9 C2083.8,533.9 2078.7,538.5 2079.6,542.0 C2080.6,545.4 2087.0,547.8 2089.4,551.7 C2091.7,555.6 2093.5,561.0 2093.5,565.6 C2093.5,570.2 2091.0,574.6 2089.4,579.5 C2087.7,584.4 2084.7,592.2 2083.8,594.8 M2120.8,536.4 C2119.7,536.1 2115.9,533.8 2114.4,534.5 C2112.8,535.2 2111.8,537.2 2111.6,540.6 C2111.4,543.9 2111.4,550.3 2113.0,554.5 C2114.6,558.7 2117.2,562.4 2121.3,565.6 C2125.5,568.8 2132.9,571.2 2138.0,573.9 C2143.1,576.7 2149.7,579.0 2151.9,582.3 C2154.1,585.5 2150.9,589.2 2151.4,593.4 C2151.8,597.6 2154.6,602.7 2154.7,607.3 C2154.8,611.9 2151.7,616.6 2151.9,621.2 C2152.1,625.8 2154.0,630.9 2156.1,635.1 C2158.2,639.3 2162.1,642.1 2164.4,646.2 C2166.7,650.4 2168.6,655.5 2170.0,660.1 C2171.4,664.8 2172.8,669.9 2172.8,674.0 C2172.8,678.2 2168.8,681.9 2170.0,685.1 C2171.1,688.4 2178.6,690.7 2179.7,693.5 C2180.9,696.3 2179.2,699.3 2176.9,701.8 C2174.6,704.4 2168.1,706.5 2165.8,708.8 C2163.5,711.1 2163.3,713.6 2163.0,715.7 C2162.8,717.8 2164.2,720.4 2164.4,721.3 M2113.0,605.1 C2112.2,606.8 2107.1,612.5 2108.0,615.6 C2108.9,618.8 2116.1,620.7 2118.5,624.0 C2121.0,627.2 2122.7,631.9 2122.7,635.1 C2122.7,638.3 2117.6,640.7 2118.5,643.4 C2119.5,646.2 2126.9,647.2 2128.3,651.8 C2129.7,656.4 2126.7,665.7 2126.9,671.2 C2127.1,676.8 2129.9,680.5 2129.7,685.1 C2129.4,689.8 2127.6,695.3 2125.5,699.0 C2123.4,702.8 2118.5,704.8 2117.2,707.4 C2115.8,709.9 2114.8,711.8 2117.2,714.3 C2119.5,716.9 2128.7,721.3 2131.1,722.7 M1860.0,717.1 C1861.9,716.9 1867.6,716.5 1871.1,715.7 C1874.6,714.9 1878.1,712.3 1880.9,712.4 C1883.6,712.5 1884.3,715.4 1887.8,716.3 C1891.3,717.2 1897.1,718.1 1901.7,718.0 C1906.3,717.8 1911.4,715.8 1915.6,715.2 C1919.8,714.6 1923.5,714.2 1926.7,714.3 C1930.0,714.5 1932.7,715.5 1935.1,716.3 C1937.4,717.1 1937.8,718.5 1940.6,719.1 C1943.4,719.7 1949.2,719.0 1951.7,719.9 C1954.3,720.8 1954.1,724.3 1955.9,724.6 C1957.8,724.9 1959.9,722.5 1962.9,721.8 C1965.9,721.2 1971.9,721.5 1974.0,720.7 C1976.1,719.9 1973.5,717.7 1975.4,717.1 C1977.2,716.5 1983.0,717.6 1985.1,717.1 C1987.2,716.7 1986.7,714.3 1987.9,714.3 C1989.0,714.3 1989.7,716.8 1992.1,717.1 C1994.4,717.4 1999.2,716.7 2001.8,716.3 C2004.3,715.8 2006.0,714.2 2007.3,714.3 C2008.7,714.5 2006.9,716.5 2010.1,717.1 C2013.4,717.7 2023.1,718.1 2026.8,718.0 C2030.5,717.8 2030.0,716.0 2032.4,716.3 C2034.7,716.6 2037.2,719.0 2040.7,719.9 C2044.2,720.8 2049.0,721.4 2053.2,721.8 C2057.4,722.3 2062.5,722.3 2065.7,722.7 C2069.0,723.0 2070.8,722.9 2072.7,724.1 C2074.5,725.2 2075.7,727.9 2076.8,729.6 C2078.0,731.4 2077.3,734.9 2079.6,734.6 C2081.9,734.4 2088.4,729.1 2090.7,728.2 C2093.1,727.4 2094.9,728.0 2093.5,729.6 C2092.1,731.2 2085.0,736.8 2082.4,738.0 C2079.9,739.1 2075.9,737.5 2078.2,736.6 C2080.6,735.7 2091.0,734.0 2096.3,732.4 C2101.6,730.8 2106.0,728.1 2110.2,726.8 C2114.4,725.5 2117.9,725.3 2121.3,724.6 C2124.8,723.9 2127.8,722.8 2131.1,722.7 C2134.3,722.6 2137.8,724.8 2140.8,724.1 C2143.8,723.4 2147.3,719.0 2149.1,718.5 C2151.0,718.0 2149.6,720.7 2151.9,721.3 C2154.2,721.8 2159.8,722.3 2163.0,721.8 C2166.3,721.4 2170.0,719.1 2171.4,718.5 M1918.4,722.7 C1918.8,722.4 1920.3,721.1 1921.2,721.3 C1922.0,721.5 1923.4,723.1 1923.4,724.1 C1923.4,725.0 1922.0,726.8 1921.2,726.8 C1920.3,726.9 1918.8,725.3 1918.4,724.6 C1917.9,723.9 1918.4,723.0 1918.4,722.7 M1873.9,763.0 C1874.8,762.3 1876.0,760.1 1879.5,758.8 C1882.9,757.5 1890.6,755.7 1894.8,755.2 C1898.9,754.7 1900.5,755.0 1904.5,756.0 C1908.4,757.1 1912.8,760.0 1918.4,761.6 C1923.9,763.2 1931.4,764.4 1937.8,765.8 C1944.3,767.2 1950.8,768.3 1957.3,769.9 C1963.8,771.6 1970.7,773.2 1976.8,775.5 C1982.8,777.8 1987.9,781.3 1993.4,783.8 C1999.0,786.4 2004.6,788.2 2010.1,790.8 C2015.7,793.3 2022.6,796.1 2026.8,799.1 C2031.0,802.1 2031.4,806.3 2035.1,808.9 C2038.9,811.4 2044.9,812.6 2049.0,814.4 C2053.2,816.3 2056.5,818.4 2060.2,820.0 C2063.9,821.6 2068.5,822.5 2071.3,824.2 C2074.1,825.8 2075.5,827.4 2076.8,829.7 C2078.2,832.0 2077.5,835.0 2079.6,838.1 C2081.7,841.1 2089.4,844.6 2089.4,847.8 C2089.4,850.9 2083.6,855.6 2079.6,857.0 C2075.7,858.3 2071.8,856.0 2065.7,856.1 C2059.7,856.2 2050.0,858.4 2043.5,857.5 C2037.0,856.6 2032.4,852.2 2026.8,850.6 C2021.2,848.9 2015.7,849.2 2010.1,847.8 C2004.6,846.4 1999.0,844.1 1993.4,842.2 C1987.9,840.4 1981.9,839.0 1976.8,836.7 C1971.7,834.3 1968.4,831.1 1962.9,828.3 C1957.3,825.5 1947.1,822.8 1943.4,820.0 C1939.7,817.2 1942.5,814.7 1940.6,811.6 C1938.8,808.6 1935.1,804.9 1932.3,801.9 C1929.5,798.9 1927.6,796.6 1923.9,793.6 C1920.2,790.6 1914.7,786.6 1910.0,783.8 C1905.4,781.1 1900.3,779.0 1896.1,776.9 C1892.0,774.8 1887.3,772.5 1885.0,771.3 C1882.7,770.2 1883.4,770.3 1882.2,769.9 C1881.1,769.6 1879.5,770.3 1878.1,769.1 C1876.7,767.9 1874.6,764.0 1873.9,763.0 M1940.6,811.6 C1941.5,811.2 1945.2,810.9 1946.2,808.9 C1947.2,806.8 1945.3,801.4 1946.7,799.1 C1948.1,796.8 1951.8,795.0 1954.5,795.0 C1957.2,795.0 1959.6,797.3 1962.9,799.1 C1966.1,801.0 1970.3,804.3 1974.0,806.1 C1977.7,807.8 1982.1,808.9 1985.1,809.7 C1988.1,810.5 1990.9,810.6 1992.1,810.8 M1860.0,849.7 C1862.3,851.0 1869.7,854.4 1873.9,857.5 C1878.1,860.7 1881.8,864.9 1885.0,868.6 C1888.3,872.3 1891.5,876.2 1893.4,879.8 C1895.2,883.3 1895.7,888.3 1896.1,890.0 M1865.6,882.5 C1867.4,882.1 1873.9,878.5 1876.7,879.8 C1879.5,881.0 1881.3,888.3 1882.2,890.0 M2190.6,523.9 C2191.3,526.7 2192.9,534.6 2194.8,540.6 C2196.6,546.6 2199.6,554.0 2201.7,560.0 C2203.8,566.1 2204.5,571.6 2207.3,576.7 C2210.0,581.8 2214.7,587.1 2218.4,590.6 C2222.1,594.1 2228.1,595.0 2229.5,597.6 C2230.9,600.1 2228.1,603.4 2226.7,605.9 C2225.3,608.5 2221.6,609.4 2221.2,612.9 C2220.7,616.3 2222.3,621.7 2223.9,626.8 C2225.6,631.9 2228.8,638.3 2230.9,643.4 C2233.0,648.5 2234.4,653.9 2236.5,657.3 C2238.5,660.8 2240.9,662.5 2243.4,664.3 C2246.0,666.1 2250.4,667.3 2251.7,667.9 M2240.6,523.9 C2239.9,527.1 2237.4,536.4 2236.5,543.4 C2235.5,550.3 2233.9,559.8 2235.1,565.6 C2236.2,571.4 2240.2,576.3 2243.4,578.1 C2246.6,580.0 2250.8,577.4 2254.5,576.7 C2258.2,576.0 2261.9,573.0 2265.6,573.9 C2269.4,574.9 2273.1,579.7 2276.8,582.3 C2280.5,584.8 2283.5,587.4 2287.9,589.2 C2292.3,591.1 2300.6,592.7 2303.2,593.4 M2262.9,523.9 C2265.2,526.0 2272.6,533.6 2276.8,536.4 C2280.9,539.2 2284.6,538.0 2287.9,540.6 C2291.1,543.1 2293.9,547.5 2296.2,551.7 C2298.5,555.9 2300.9,560.5 2301.8,565.6 C2302.7,570.7 2301.3,577.4 2301.8,582.3 C2302.2,587.1 2304.1,592.7 2304.6,594.8 M2336.5,523.9 C2337.2,525.8 2339.1,532.7 2340.7,535.0 C2342.3,537.3 2345.6,534.1 2346.3,537.8 C2347.0,541.5 2344.9,550.8 2344.9,557.3 C2344.9,563.7 2347.0,571.6 2346.3,576.7 C2345.6,581.8 2341.6,586.0 2340.7,587.8 M2362.9,523.9 C2363.6,524.6 2365.0,527.1 2367.1,528.1 C2369.2,529.0 2373.8,526.9 2375.5,529.5 C2377.1,532.0 2377.8,538.7 2376.8,543.4 C2375.9,548.0 2371.3,553.6 2369.9,557.3 C2368.5,561.0 2368.7,564.2 2368.5,565.6 M2177.5,722.7 C2178.3,721.8 2180.5,717.9 2182.2,717.1 C2184.0,716.3 2186.4,718.4 2187.8,718.0 C2189.2,717.5 2189.2,714.3 2190.6,714.3 C2192.0,714.3 2194.3,716.8 2196.1,718.0 C2198.0,719.1 2199.2,721.7 2201.7,721.3 C2204.2,720.9 2208.4,717.6 2211.4,715.7 C2214.4,713.9 2217.8,711.8 2219.8,710.2 C2221.8,708.5 2223.6,707.2 2223.4,706.0 C2223.2,704.8 2218.5,704.8 2218.4,703.2 C2218.2,701.6 2220.2,698.1 2222.6,696.3 C2224.9,694.4 2228.8,693.9 2232.3,692.1 C2235.8,690.2 2240.6,687.0 2243.4,685.1 C2246.2,683.3 2247.3,682.4 2249.0,681.0 C2250.6,679.6 2253.1,678.2 2253.1,676.8 C2253.1,675.4 2249.2,674.1 2249.0,672.6 C2248.7,671.2 2250.6,668.8 2251.7,667.9 C2252.9,667.0 2254.8,666.1 2255.9,667.1 C2257.1,668.1 2257.9,671.9 2258.7,674.0 C2259.5,676.1 2260.9,678.4 2260.6,679.6 C2260.4,680.7 2258.1,682.4 2257.3,681.0 C2256.5,679.6 2255.0,675.0 2255.9,671.2 C2256.8,667.5 2260.8,661.5 2262.9,658.7 C2264.9,656.0 2266.6,656.6 2268.4,654.6 C2270.3,652.5 2272.7,648.5 2274.0,646.2 C2275.3,643.9 2276.2,640.7 2276.2,640.7 C2276.2,640.7 2273.9,644.1 2274.0,646.2 C2274.1,648.3 2275.5,651.8 2276.8,653.2 C2278.1,654.6 2280.6,655.7 2281.8,654.6 C2282.9,653.4 2283.6,649.5 2283.7,646.2 C2283.8,643.0 2282.9,638.6 2282.3,635.1 C2281.7,631.6 2279.6,627.7 2280.1,625.4 C2280.6,623.1 2283.8,621.2 2285.1,621.2 C2286.4,621.2 2286.7,626.1 2287.9,625.4 C2289.0,624.7 2289.7,619.6 2292.1,617.0 C2294.4,614.5 2299.2,612.4 2301.8,610.1 C2304.3,607.8 2307.1,605.9 2307.3,603.1 C2307.6,600.4 2302.7,594.8 2303.2,593.4 C2303.6,592.0 2308.0,595.3 2310.1,594.8 C2312.2,594.3 2313.8,591.3 2315.7,590.6 C2317.5,589.9 2319.4,590.9 2321.2,590.6 C2323.1,590.4 2325.2,590.2 2326.8,589.2 C2328.4,588.3 2330.0,584.8 2331.0,585.1 C2331.9,585.3 2330.7,590.2 2332.4,590.6 C2334.0,591.1 2337.5,589.2 2340.7,587.8 C2343.9,586.5 2348.6,584.6 2351.8,582.3 C2355.1,580.0 2357.9,576.0 2360.2,573.9 C2362.5,571.9 2363.9,571.2 2365.7,569.8 C2367.6,568.4 2369.0,565.8 2371.3,565.6 C2373.6,565.4 2376.8,568.6 2379.6,568.4 C2382.4,568.2 2385.2,565.4 2388.0,564.2 C2390.7,563.1 2393.5,562.1 2396.3,561.4 C2399.1,560.7 2402.8,559.1 2404.6,560.0 C2406.5,561.0 2405.6,565.5 2407.4,567.0 C2409.3,568.5 2413.0,568.9 2415.8,568.9 C2418.5,568.9 2422.0,568.5 2424.1,567.0 C2426.2,565.5 2426.7,561.4 2428.3,560.0 C2429.9,558.7 2432.2,560.0 2433.8,558.7 C2435.5,557.3 2436.4,554.7 2438.0,551.7 C2439.6,548.7 2442.9,543.6 2443.6,540.6 C2444.3,537.6 2441.3,535.9 2442.2,533.6 C2443.1,531.3 2447.0,527.1 2449.1,526.7 C2451.2,526.2 2452.4,531.1 2454.7,530.9 C2457.0,530.6 2461.6,526.2 2463.0,525.3 M2311.5,594.8 C2312.2,594.3 2314.1,592.3 2315.7,592.0 C2317.3,591.7 2320.1,592.2 2321.2,592.8 C2322.4,593.5 2323.1,595.3 2322.6,596.2 C2322.2,597.1 2320.1,598.2 2318.5,598.4 C2316.8,598.6 2314.1,598.2 2312.9,597.6 C2311.7,597.0 2311.7,595.3 2311.5,594.8 M2322.6,597.6 C2323.2,597.2 2325.2,595.3 2326.2,595.3 C2327.3,595.3 2329.0,596.7 2329.0,597.6 C2329.0,598.4 2327.3,600.4 2326.2,600.4 C2325.2,600.4 2323.2,598.0 2322.6,597.6 M2308.7,612.3 C2309.4,611.5 2311.1,608.6 2312.9,607.3 C2314.8,606.0 2318.6,604.4 2319.9,604.5 C2321.2,604.6 2321.4,606.6 2320.7,607.9 C2320.0,609.2 2317.4,611.1 2315.7,612.3 C2313.9,613.5 2311.3,615.1 2310.1,615.1 C2309.0,615.1 2309.0,612.8 2308.7,612.3 M2289.6,646.2 C2289.8,646.0 2290.8,644.4 2291.2,644.8 C2291.7,645.3 2292.5,647.9 2292.3,649.0 C2292.1,650.1 2290.6,651.7 2290.1,651.2 C2289.6,650.8 2289.6,647.1 2289.6,646.2 M2483.9,551.1 C2481.8,552.6 2475.3,557.4 2471.4,560.0 C2467.4,562.7 2464.0,564.7 2460.3,567.0 C2456.5,569.3 2452.1,571.4 2449.1,573.9 C2446.1,576.5 2443.8,579.0 2442.2,582.3 C2440.6,585.5 2440.6,590.2 2439.4,593.4 C2438.2,596.6 2436.2,599.2 2435.2,601.7 C2434.3,604.3 2435.2,606.6 2433.8,608.7 C2432.4,610.8 2429.0,613.1 2426.9,614.3 C2424.8,615.4 2421.3,614.7 2421.3,615.6 C2421.3,616.6 2425.3,618.2 2426.9,619.8 C2428.5,621.4 2431.1,623.3 2431.1,625.4 C2431.1,627.5 2428.5,629.8 2426.9,632.3 C2425.3,634.9 2423.6,638.1 2421.3,640.7 C2419.0,643.2 2415.8,645.8 2413.0,647.6 C2410.2,649.5 2406.7,650.6 2404.6,651.8 C2402.6,652.9 2400.0,653.4 2400.5,654.6 C2400.9,655.7 2404.6,657.6 2407.4,658.7 C2410.2,659.9 2416.7,660.6 2417.2,661.5 C2417.6,662.4 2412.5,664.1 2410.2,664.3 C2407.9,664.5 2405.1,661.3 2403.3,662.9 C2401.4,664.5 2400.2,669.9 2399.1,674.0 C2397.9,678.2 2397.2,683.3 2396.3,687.9 C2395.4,692.6 2394.9,696.7 2393.5,701.8 C2392.1,706.9 2389.8,712.9 2388.0,718.5 C2386.1,724.1 2384.3,729.6 2382.4,735.2 C2380.6,740.7 2378.7,747.2 2376.8,751.9 C2375.0,756.5 2372.7,759.3 2371.3,763.0 C2369.9,766.7 2368.5,770.4 2368.5,774.1 C2368.5,777.8 2369.9,782.4 2371.3,785.2 C2372.7,788.0 2374.3,788.5 2376.8,790.8 C2379.4,793.1 2386.1,798.2 2386.6,799.1 C2387.0,800.1 2381.7,797.7 2379.6,796.3 C2377.5,795.0 2376.2,791.9 2374.1,790.8 C2372.0,789.6 2369.9,788.9 2367.1,789.4 C2364.3,789.9 2359.9,791.5 2357.4,793.6 C2354.8,795.7 2353.2,798.7 2351.8,801.9 C2350.4,805.2 2349.0,809.3 2349.0,813.0 C2349.0,816.7 2350.0,821.4 2351.8,824.2 C2353.7,826.9 2356.9,829.5 2360.2,829.7 C2363.4,829.9 2368.7,825.1 2371.3,825.5 C2373.8,826.0 2375.9,830.6 2375.5,832.5 C2375.0,834.3 2371.1,836.2 2368.5,836.7 C2366.0,837.1 2360.6,835.0 2360.2,835.3 C2359.7,835.5 2362.9,838.5 2365.7,838.1 C2368.5,837.6 2376.4,832.5 2376.8,832.5 C2377.3,832.5 2371.5,836.9 2368.5,838.1 C2365.5,839.2 2360.6,838.1 2358.8,839.4 C2356.9,840.8 2356.2,843.6 2357.4,846.4 C2358.5,849.2 2362.5,854.3 2365.7,856.1 C2369.0,858.0 2372.7,858.0 2376.8,857.5 C2381.0,857.0 2386.6,855.9 2390.7,853.3 C2394.9,850.8 2398.6,846.2 2401.9,842.2 C2405.1,838.3 2407.0,832.3 2410.2,829.7 C2413.5,827.2 2421.1,827.0 2421.3,826.9 C2421.6,826.8 2411.6,831.0 2411.6,829.2 C2411.6,827.3 2418.1,819.9 2421.3,815.8 C2424.6,811.7 2428.7,808.4 2431.1,804.7 C2433.4,801.0 2435.2,797.0 2435.2,793.6 C2435.2,790.1 2433.4,786.6 2431.1,783.8 C2428.7,781.1 2424.1,777.4 2421.3,776.9 C2418.5,776.4 2416.7,781.8 2414.4,781.1 C2412.1,780.4 2410.0,775.3 2407.4,772.7 C2404.9,770.2 2401.4,767.5 2399.1,765.8 C2396.8,764.1 2394.5,763.0 2393.5,762.4 M2407.4,737.4 C2408.4,738.0 2410.9,738.3 2413.0,740.7 C2415.1,743.2 2417.6,749.3 2419.9,751.9 C2422.3,754.4 2424.3,754.4 2426.9,756.0 C2429.4,757.7 2432.9,761.1 2435.2,761.6 C2437.5,762.1 2437.5,758.8 2440.8,758.8 C2444.0,758.8 2452.8,759.1 2454.7,761.6 C2456.5,764.1 2452.6,770.4 2451.9,774.1 C2451.2,777.8 2449.6,784.8 2450.5,783.8 C2451.4,782.9 2454.9,773.9 2457.5,768.5 C2460.0,763.2 2463.0,756.3 2465.8,751.9 C2468.6,747.5 2471.4,743.1 2474.2,742.1 C2476.9,741.2 2480.9,747.0 2482.5,746.3 C2484.1,745.6 2483.6,739.4 2483.9,738.0 M2426.1,707.4 C2426.9,708.8 2429.1,713.2 2431.1,715.7 C2433.1,718.3 2435.2,722.2 2438.0,722.7 C2440.8,723.1 2443.8,719.7 2447.7,718.5 C2451.7,717.3 2460.0,714.8 2461.6,715.7 C2463.3,716.7 2458.9,720.8 2457.5,724.1 C2456.1,727.3 2453.3,731.5 2453.3,735.2 C2453.3,738.9 2457.2,743.1 2457.5,746.3 C2457.7,749.6 2456.5,752.6 2454.7,754.6 C2452.8,756.7 2447.7,758.1 2446.3,758.8 M2483.9,667.1 C2483.2,668.7 2481.3,674.3 2479.7,676.8 C2478.1,679.4 2475.8,681.0 2474.2,682.4 C2472.5,683.8 2469.7,684.2 2470.0,685.1 C2470.2,686.1 2475.1,685.6 2475.5,687.9 C2476.0,690.2 2473.9,695.8 2472.8,699.0 C2471.6,702.3 2470.4,704.6 2468.6,707.4 C2466.7,710.2 2462.8,714.3 2461.6,715.7 M2408.8,638.4 C2409.3,638.1 2410.7,636.5 2411.6,636.5 C2412.5,636.5 2414.4,637.7 2414.4,638.4 C2414.4,639.2 2412.5,641.2 2411.6,641.2 C2410.7,641.2 2409.3,638.9 2408.8,638.4 M2304.6,890.0 L2310.1,883.9 M2319.9,890.0 C2321.0,887.4 2325.2,879.2 2326.8,874.2 C2328.4,869.2 2328.2,864.7 2329.6,860.3 C2331.0,855.9 2333.8,851.0 2335.1,847.8 C2336.5,844.5 2337.0,842.2 2337.9,840.8 C2338.9,839.4 2340.2,838.5 2340.7,839.4 C2341.2,840.4 2338.9,845.2 2340.7,846.4 C2342.6,847.5 2349.0,846.4 2351.8,846.4 C2354.6,846.4 2356.5,846.4 2357.4,846.4 M1533.9,924.5 C1535.8,923.8 1541.3,922.2 1545.0,920.3 C1548.7,918.5 1552.0,916.1 1556.1,913.4 C1560.3,910.6 1565.4,906.6 1570.0,903.6 C1574.7,900.6 1579.3,897.8 1583.9,895.3 C1588.6,892.7 1593.2,890.2 1597.8,888.3 C1602.5,886.5 1607.1,885.6 1611.7,884.2 C1616.4,882.8 1623.3,880.7 1625.6,880.0 M1643.7,913.4 C1644.4,914.8 1645.3,918.7 1647.9,921.7 C1650.4,924.7 1656.7,927.7 1659.0,931.4 C1661.3,935.1 1660.6,940.0 1661.8,943.9 C1662.9,947.9 1664.6,951.4 1666.0,955.1 C1667.3,958.8 1668.3,963.2 1670.1,966.2 C1672.0,969.2 1675.2,971.3 1677.1,973.1 C1678.9,975.0 1680.6,976.6 1681.2,977.3 M1603.4,939.8 C1604.8,941.2 1609.4,945.1 1611.7,948.1 C1614.1,951.1 1614.5,955.1 1617.3,957.8 C1620.1,960.6 1626.3,961.8 1628.4,964.8 C1630.5,967.8 1628.0,972.7 1629.8,975.9 C1631.7,979.2 1636.8,981.9 1639.5,984.3 C1642.3,986.6 1646.0,987.3 1646.5,989.8 C1647.0,992.4 1643.9,996.1 1642.3,999.5 C1640.7,1003.0 1639.1,1007.0 1636.8,1010.7 C1634.4,1014.4 1631.7,1018.3 1628.4,1021.8 C1625.2,1025.3 1620.5,1028.5 1617.3,1031.5 C1614.1,1034.5 1610.4,1038.5 1609.0,1039.9 M1646.5,989.8 C1647.2,989.1 1648.1,986.1 1650.7,985.6 C1653.2,985.2 1658.3,987.5 1661.8,987.0 C1665.3,986.6 1668.7,983.1 1671.5,982.9 C1674.3,982.6 1676.8,986.6 1678.5,985.6 C1680.1,984.7 1679.9,978.9 1681.2,977.3 C1682.6,975.7 1683.6,976.8 1686.8,975.9 C1690.0,975.0 1696.1,973.1 1700.7,971.7 C1705.3,970.4 1710.4,968.0 1714.6,967.6 C1718.8,967.1 1722.9,969.4 1725.7,969.0 C1728.5,968.5 1728.5,965.7 1731.3,964.8 C1734.1,963.9 1738.7,963.9 1742.4,963.4 C1746.1,962.9 1750.3,963.5 1753.5,962.0 C1756.8,960.5 1760.2,955.0 1761.9,954.5 C1763.5,954.0 1761.9,957.7 1763.3,959.2 C1764.6,960.7 1767.2,961.8 1770.2,963.4 C1773.2,965.0 1777.4,967.3 1781.3,969.0 C1785.3,970.6 1791.3,971.7 1793.8,973.1 C1796.4,974.5 1794.1,976.4 1796.6,977.3 C1799.2,978.2 1804.7,979.6 1809.1,978.7 C1813.5,977.8 1818.9,974.1 1823.0,971.7 C1827.2,969.4 1832.1,966.6 1834.2,964.8 C1836.2,962.9 1833.7,961.8 1835.5,960.6 C1837.4,959.5 1842.3,959.2 1845.3,957.8 C1848.3,956.5 1851.5,954.8 1853.6,952.3 C1855.7,949.7 1856.7,944.6 1857.8,942.6 C1858.8,940.5 1859.6,940.2 1860.0,939.8 M1729.9,880.0 C1731.1,881.9 1734.8,887.4 1736.8,891.1 C1738.9,894.8 1740.8,898.1 1742.4,902.2 C1744.0,906.4 1744.7,912.0 1746.6,916.1 C1748.4,920.3 1751.7,923.3 1753.5,927.3 C1755.4,931.2 1756.2,936.3 1757.7,939.8 C1759.2,943.2 1761.7,945.7 1762.4,948.1 C1763.1,950.6 1762.0,953.4 1761.9,954.5 M1786.9,880.0 C1787.6,882.3 1789.6,889.3 1791.1,893.9 C1792.5,898.5 1795.3,903.2 1795.8,907.8 C1796.2,912.4 1793.7,918.0 1793.8,921.7 C1794.0,925.4 1796.6,926.6 1796.6,930.0 C1796.6,933.5 1795.2,939.8 1793.8,942.6 C1792.4,945.3 1789.2,944.4 1788.3,946.7 C1787.4,949.0 1787.4,953.7 1788.3,956.5 C1789.2,959.2 1792.2,960.9 1793.8,963.4 C1795.5,966.0 1798.0,969.7 1798.0,971.7 C1798.0,973.8 1794.5,975.2 1793.8,975.9 M1725.7,969.0 C1726.7,970.1 1728.5,974.1 1731.3,975.9 C1734.1,977.8 1738.7,978.7 1742.4,980.1 C1746.1,981.5 1749.4,982.9 1753.5,984.3 C1757.7,985.6 1764.2,986.6 1767.4,988.4 C1770.7,990.3 1771.6,992.6 1773.0,995.4 C1774.4,998.2 1774.6,1001.6 1775.8,1005.1 C1776.9,1008.6 1779.0,1013.7 1779.9,1016.2 C1780.9,1018.8 1781.6,1019.0 1781.3,1020.4 C1781.1,1021.8 1779.5,1021.6 1778.5,1024.6 C1777.6,1027.6 1776.7,1034.8 1775.8,1038.5 C1774.8,1042.2 1774.8,1045.2 1773.0,1046.8 C1771.1,1048.4 1766.5,1047.3 1764.6,1048.2 C1762.8,1049.1 1763.7,1052.1 1761.9,1052.4 C1760.0,1052.6 1756.8,1050.0 1753.5,1049.6 C1750.3,1049.2 1746.1,1050.1 1742.4,1050.1 C1738.7,1050.1 1735.0,1050.1 1731.3,1049.6 C1727.6,1049.0 1723.9,1047.3 1720.2,1046.8 C1716.5,1046.3 1712.3,1046.4 1709.0,1046.8 C1705.8,1047.2 1703.0,1048.5 1700.7,1049.0 C1698.4,1049.6 1696.2,1050.6 1695.1,1050.1 C1694.1,1049.7 1694.7,1046.9 1694.6,1046.2 M1781.3,1017.6 C1783.2,1017.4 1788.7,1017.8 1792.4,1016.2 C1796.2,1014.6 1799.9,1010.2 1803.6,1007.9 C1807.3,1005.6 1811.0,1003.8 1814.7,1002.3 C1818.4,1000.8 1823.0,999.7 1825.8,999.0 C1828.6,998.3 1831.4,997.1 1831.4,998.2 C1831.4,999.2 1824.9,1004.4 1825.8,1005.1 C1826.7,1005.8 1833.7,1002.6 1836.9,1002.3 C1840.2,1002.1 1844.3,1002.6 1845.3,1003.7 C1846.2,1004.9 1841.8,1008.1 1842.5,1009.3 C1843.2,1010.4 1847.8,1009.7 1849.4,1010.7 C1851.1,1011.6 1850.5,1014.8 1852.2,1014.8 C1854.0,1014.8 1858.7,1011.4 1860.0,1010.7 M1860.0,994.0 C1859.2,994.9 1855.6,997.7 1855.0,999.5 C1854.4,1001.4 1855.6,1003.9 1856.4,1005.1 C1857.2,1006.3 1859.4,1006.3 1860.0,1006.5 M1852.2,1014.8 C1851.1,1016.0 1846.9,1019.2 1845.3,1021.8 C1843.6,1024.3 1843.9,1027.3 1842.5,1030.1 C1841.1,1032.9 1837.4,1036.1 1836.9,1038.5 C1836.5,1040.8 1839.9,1042.6 1839.7,1044.0 C1839.5,1045.4 1836.0,1045.0 1835.5,1046.8 C1835.1,1048.7 1837.9,1052.4 1836.9,1055.1 C1836.0,1057.9 1832.8,1060.7 1830.0,1063.5 C1827.2,1066.3 1823.7,1069.1 1820.3,1071.8 C1816.8,1074.5 1812.6,1077.4 1809.1,1079.6 C1805.7,1081.8 1798.9,1084.1 1799.4,1085.2 C1799.9,1086.3 1809.6,1085.5 1811.9,1086.3 C1814.2,1087.1 1811.2,1090.0 1813.3,1089.9 C1815.4,1089.8 1821.6,1086.0 1824.4,1085.7 C1827.2,1085.5 1828.1,1088.4 1830.0,1088.5 C1831.8,1088.6 1833.2,1086.5 1835.5,1086.3 C1837.9,1086.1 1842.4,1085.8 1843.9,1087.1 C1845.4,1088.4 1845.4,1091.5 1844.7,1094.1 C1844.0,1096.6 1841.2,1099.6 1839.7,1102.4 C1838.2,1105.2 1836.0,1107.5 1835.5,1110.7 C1835.1,1114.0 1835.5,1118.9 1836.9,1121.9 C1838.3,1124.9 1843.4,1127.0 1843.9,1128.8 C1844.3,1130.7 1838.8,1132.2 1839.7,1133.0 C1840.6,1133.8 1847.5,1131.2 1849.4,1133.5 C1851.4,1135.9 1851.2,1143.0 1851.4,1146.9 C1851.6,1150.7 1849.8,1153.8 1850.8,1156.6 C1851.9,1159.4 1856.3,1160.6 1857.8,1163.6 C1859.3,1166.6 1861.2,1172.7 1860.0,1174.7 C1858.8,1176.6 1852.4,1175.2 1850.8,1175.2 M1533.9,1149.7 C1536.2,1149.6 1545.0,1150.0 1547.8,1149.1 C1550.6,1148.2 1549.2,1145.4 1550.6,1144.1 C1552.0,1142.8 1555.0,1142.7 1556.1,1141.3 C1557.3,1139.9 1558.0,1137.6 1557.5,1135.8 C1557.1,1133.9 1553.8,1132.1 1553.4,1130.2 C1552.9,1128.4 1553.4,1126.7 1554.8,1124.6 C1556.1,1122.6 1559.2,1119.8 1561.7,1117.7 C1564.2,1115.6 1567.3,1113.2 1570.0,1112.1 C1572.8,1111.1 1575.8,1110.6 1578.4,1111.3 C1580.9,1112.0 1583.5,1114.6 1585.3,1116.3 C1587.2,1118.0 1588.4,1121.8 1589.5,1121.3 C1590.6,1120.8 1591.5,1116.7 1591.7,1113.5 C1592.0,1110.4 1590.1,1103.6 1590.9,1102.4 C1591.7,1101.2 1594.6,1105.0 1596.5,1106.6 C1598.3,1108.2 1599.7,1111.9 1602.0,1112.1 C1604.3,1112.4 1608.5,1108.1 1610.4,1108.0 C1612.2,1107.8 1611.5,1110.1 1613.1,1111.3 C1614.8,1112.5 1617.8,1114.5 1620.1,1114.9 C1622.4,1115.4 1624.7,1115.0 1627.0,1114.1 C1629.4,1113.2 1632.4,1111.8 1634.0,1109.4 C1635.6,1106.9 1636.1,1102.4 1636.8,1099.6 C1637.5,1096.8 1636.5,1094.3 1638.2,1092.7 C1639.8,1091.1 1644.9,1092.0 1646.5,1089.9 C1648.1,1087.8 1646.7,1083.4 1647.9,1080.2 C1649.0,1076.9 1651.7,1073.4 1653.4,1070.4 C1655.2,1067.4 1657.8,1065.6 1658.4,1062.1 C1659.1,1058.6 1657.1,1052.6 1657.6,1049.6 C1658.2,1046.6 1659.5,1046.3 1661.8,1044.0 C1664.1,1041.7 1668.7,1036.1 1671.5,1035.7 C1674.3,1035.2 1677.3,1040.3 1678.5,1041.2 M1544.5,1016.2 C1545.9,1017.4 1550.3,1020.4 1553.4,1023.2 C1556.5,1026.0 1560.8,1029.9 1563.1,1032.9 C1565.4,1035.9 1566.6,1039.9 1567.3,1041.2 M1545.6,1051.0 C1545.9,1052.1 1547.4,1054.5 1547.2,1057.9 C1547.1,1061.4 1544.4,1068.5 1544.5,1071.8 C1544.6,1075.2 1545.4,1077.5 1547.8,1077.9 C1550.2,1078.4 1557.1,1075.2 1558.9,1074.6 M1638.2,1142.7 C1639.3,1142.3 1642.3,1139.5 1645.1,1139.9 C1647.9,1140.4 1653.2,1144.6 1654.8,1145.5 M1571.4,1248.4 C1572.6,1246.7 1576.1,1241.9 1578.4,1238.6 C1580.7,1235.4 1584.4,1231.6 1585.3,1228.9 C1586.3,1226.2 1584.2,1223.6 1583.9,1222.5 M1600.6,1208.1 C1600.9,1208.7 1602.5,1209.9 1602.0,1212.2 C1601.5,1214.5 1598.8,1218.5 1597.8,1222.0 C1596.9,1225.4 1595.5,1229.8 1596.5,1233.1 C1597.4,1236.3 1600.4,1238.9 1603.4,1241.4 C1606.4,1244.0 1612.7,1247.2 1614.5,1248.4 M1733.5,1227.0 C1733.8,1228.0 1735.6,1231.4 1735.5,1233.1 C1735.3,1234.8 1733.1,1236.5 1732.7,1237.2 M1773.0,1248.4 C1774.8,1247.0 1781.1,1243.0 1784.1,1240.0 C1787.1,1237.0 1789.0,1233.1 1791.1,1230.3 C1793.1,1227.5 1795.6,1225.3 1796.6,1223.3 C1797.7,1221.4 1797.3,1219.4 1797.5,1218.6 M1802.2,1225.6 C1803.3,1225.0 1806.6,1224.2 1809.1,1222.0 C1811.7,1219.7 1814.2,1214.9 1817.5,1212.2 C1820.7,1209.5 1824.9,1207.1 1828.6,1205.8 C1832.3,1204.6 1836.8,1205.3 1839.7,1204.7 C1842.6,1204.2 1843.7,1201.5 1845.8,1202.5 C1847.9,1203.5 1849.9,1207.6 1852.2,1210.8 C1854.6,1214.1 1858.7,1220.1 1860.0,1222.0 M1848.1,1248.4 C1849.0,1247.2 1851.6,1243.0 1853.6,1241.4 C1855.6,1239.8 1858.9,1239.1 1860.0,1238.6 M1860.0,882.8 C1861.9,883.5 1867.4,886.5 1871.1,887.0 C1874.8,887.4 1878.5,885.1 1882.2,885.6 C1885.9,886.0 1890.6,888.6 1893.4,889.7 C1896.1,890.9 1898.0,892.0 1898.9,892.5 M1860.0,902.2 C1862.8,901.3 1871.6,896.9 1876.7,896.7 C1881.8,896.4 1887.1,899.0 1890.6,900.9 C1894.1,902.7 1896.4,906.6 1897.5,907.8 M1860.0,938.4 L1868.3,935.6 M1860.0,1010.7 C1861.2,1009.3 1865.1,1005.6 1867.0,1002.3 C1868.8,999.1 1870.2,994.9 1871.1,991.2 C1872.0,987.5 1872.7,982.4 1872.5,980.1 C1872.3,977.8 1870.9,975.4 1869.7,977.3 C1868.6,979.2 1867.2,988.0 1865.6,991.2 C1863.9,994.4 1860.9,995.8 1860.0,996.8 M1873.9,1133.0 C1875.3,1131.1 1879.0,1126.0 1882.2,1121.9 C1885.5,1117.7 1889.7,1112.4 1893.4,1108.0 C1897.1,1103.6 1901.8,1098.3 1904.5,1095.5 C1907.2,1092.6 1908.6,1089.1 1909.5,1090.7 C1910.4,1092.4 1910.6,1100.9 1910.0,1105.2 C1909.4,1109.5 1907.3,1113.1 1905.9,1116.3 C1904.5,1119.6 1901.2,1122.3 1901.7,1124.6 C1902.2,1127.0 1906.3,1127.7 1908.7,1130.2 C1911.0,1132.8 1913.7,1137.9 1915.6,1139.9 C1917.5,1142.0 1919.5,1140.9 1919.8,1142.7 C1920.0,1144.6 1918.2,1148.7 1917.0,1151.1 C1915.8,1153.4 1912.4,1156.2 1912.8,1156.6 C1913.3,1157.1 1917.5,1153.1 1919.8,1153.8 C1922.1,1154.5 1925.1,1161.3 1926.7,1160.8 C1928.3,1160.3 1928.1,1153.1 1929.5,1151.1 C1930.9,1149.0 1932.3,1148.3 1935.1,1148.3 C1937.8,1148.3 1943.4,1149.4 1946.2,1151.1 C1949.0,1152.7 1949.7,1157.3 1951.7,1158.0 C1953.8,1158.7 1956.4,1154.5 1958.7,1155.2 C1961.0,1155.9 1963.8,1160.4 1965.6,1162.2 C1967.5,1163.9 1967.0,1165.3 1969.8,1165.8 C1972.6,1166.3 1977.0,1165.4 1982.3,1165.0 C1987.7,1164.5 1995.8,1163.9 2001.8,1163.0 C2007.8,1162.1 2012.4,1160.2 2018.5,1159.4 C2024.5,1158.6 2031.9,1158.3 2037.9,1158.0 C2043.9,1157.7 2050.0,1157.2 2054.6,1157.5 C2059.2,1157.7 2063.3,1158.6 2065.7,1159.4 C2068.1,1160.2 2070.0,1160.6 2069.1,1162.2 C2068.1,1163.8 2063.5,1167.3 2060.2,1169.1 C2056.8,1171.0 2052.3,1172.4 2049.0,1173.3 C2045.8,1174.2 2043.0,1173.3 2040.7,1174.7 C2038.4,1176.1 2037.2,1180.0 2035.1,1181.6 C2033.1,1183.3 2030.5,1183.3 2028.2,1184.4 C2025.9,1185.6 2022.6,1187.0 2021.2,1188.6 C2019.9,1190.2 2018.9,1193.0 2019.9,1194.2 C2020.8,1195.3 2025.0,1194.2 2026.8,1195.5 C2028.7,1196.9 2031.0,1200.2 2031.0,1202.5 C2031.0,1204.8 2026.8,1207.8 2026.8,1209.4 C2026.8,1211.1 2031.9,1210.8 2031.0,1212.2 C2030.0,1213.6 2025.2,1216.5 2021.2,1217.8 C2017.3,1219.0 2011.1,1220.2 2007.3,1219.7 C2003.6,1219.3 2001.3,1216.9 1999.0,1215.0 C1996.7,1213.1 1995.8,1209.7 1993.4,1208.1 C1991.1,1206.4 1985.6,1206.7 1985.1,1205.3 C1984.6,1203.9 1989.0,1201.3 1990.7,1199.7 C1992.3,1198.1 1995.1,1196.9 1994.8,1195.5 C1994.6,1194.2 1991.8,1192.8 1989.3,1191.4 C1986.7,1190.0 1980.2,1188.8 1979.5,1187.2 C1978.8,1185.6 1983.5,1183.2 1985.1,1181.6 C1986.7,1180.1 1990.2,1177.8 1989.3,1178.0 C1988.3,1178.3 1982.6,1181.3 1979.5,1183.0 C1976.5,1184.8 1973.5,1187.4 1971.2,1188.6 C1968.9,1189.7 1965.2,1189.3 1965.6,1190.0 C1966.1,1190.7 1973.3,1191.6 1974.0,1192.8 C1974.7,1193.9 1971.7,1196.2 1969.8,1196.9 C1968.0,1197.6 1965.9,1197.6 1962.9,1196.9 C1959.9,1196.2 1955.4,1194.4 1951.7,1192.8 C1948.0,1191.1 1943.9,1189.1 1940.6,1187.2 C1937.4,1185.3 1934.8,1183.7 1932.3,1181.6 C1929.7,1179.6 1926.0,1176.5 1925.3,1174.7 C1924.6,1172.8 1928.6,1171.7 1928.1,1170.5 C1927.6,1169.4 1926.0,1168.4 1922.6,1167.7 C1919.1,1167.0 1911.2,1167.0 1907.3,1166.3 C1903.3,1165.7 1900.5,1165.4 1898.9,1163.6 C1897.3,1161.7 1897.1,1158.0 1897.5,1155.2 C1898.0,1152.4 1901.5,1149.4 1901.7,1146.9 C1901.9,1144.3 1901.7,1141.0 1898.9,1139.9 C1896.1,1138.9 1888.7,1140.8 1885.0,1140.8 C1881.3,1140.8 1878.5,1141.2 1876.7,1139.9 C1874.8,1138.6 1874.4,1134.1 1873.9,1133.0 M1860.0,1171.9 C1860.7,1172.4 1863.9,1172.4 1864.2,1174.7 C1864.4,1177.0 1859.8,1183.5 1861.4,1185.8 C1863.0,1188.1 1869.5,1187.9 1873.9,1188.6 C1878.3,1189.3 1884.1,1189.1 1887.8,1190.0 C1891.5,1190.9 1892.9,1193.9 1896.1,1194.2 C1899.4,1194.4 1903.6,1190.9 1907.3,1191.4 C1911.0,1191.8 1915.4,1195.3 1918.4,1196.9 C1921.4,1198.6 1924.9,1199.7 1925.3,1201.1 C1925.8,1202.5 1923.7,1204.3 1921.2,1205.3 C1918.6,1206.2 1913.5,1206.0 1910.0,1206.7 C1906.6,1207.4 1901.7,1208.3 1900.3,1209.4 C1898.9,1210.6 1899.8,1212.2 1901.7,1213.6 C1903.6,1215.0 1908.4,1216.2 1911.4,1217.8 C1914.4,1219.4 1917.5,1221.5 1919.8,1223.3 C1922.1,1225.2 1922.8,1227.5 1925.3,1228.9 C1927.9,1230.3 1932.1,1231.7 1935.1,1231.7 C1938.1,1231.7 1940.6,1229.1 1943.4,1228.9 C1946.2,1228.7 1949.9,1229.4 1951.7,1230.3 C1953.6,1231.2 1955.4,1233.5 1954.5,1234.5 C1953.6,1235.4 1945.7,1235.2 1946.2,1235.9 C1946.6,1236.5 1954.5,1237.2 1957.3,1238.6 C1960.1,1240.0 1960.5,1243.7 1962.9,1244.2 C1965.2,1244.7 1967.5,1242.1 1971.2,1241.4 C1974.9,1240.7 1980.5,1240.0 1985.1,1240.0 C1989.7,1240.0 1994.8,1240.9 1999.0,1241.4 C2003.2,1241.9 2007.3,1241.9 2010.1,1242.8 C2012.9,1243.7 2014.8,1246.3 2015.7,1247.0 M1860.0,1227.5 C1860.9,1228.9 1863.2,1234.9 1865.6,1235.9 C1867.9,1236.8 1871.6,1234.5 1873.9,1233.1 C1876.2,1231.7 1877.6,1227.3 1879.5,1227.5 C1881.3,1227.7 1885.0,1232.1 1885.0,1234.5 C1885.0,1236.8 1881.8,1239.8 1879.5,1241.4 C1877.1,1243.0 1872.5,1243.7 1871.1,1244.2 M2019.9,1235.9 C2020.6,1235.6 2022.8,1234.2 2024.0,1234.2 C2025.3,1234.2 2027.4,1235.2 2027.4,1235.9 C2027.4,1236.5 2025.3,1237.8 2024.0,1237.8 C2022.8,1237.8 2020.6,1236.2 2019.9,1235.9 M2046.3,1248.4 C2048.6,1246.7 2056.0,1241.9 2060.2,1238.6 C2064.3,1235.4 2068.6,1230.8 2071.3,1228.9 C2074.0,1227.0 2075.4,1225.3 2076.3,1227.0 C2077.2,1228.6 2076.5,1235.1 2076.8,1238.6 C2077.2,1242.2 2078.0,1246.7 2078.2,1248.4 M2065.2,1071.8 C2065.7,1070.4 2067.5,1065.8 2068.5,1063.5 C2069.5,1061.2 2070.9,1059.8 2071.3,1057.9 C2071.7,1056.1 2070.0,1054.0 2070.7,1052.4 C2071.4,1050.7 2073.5,1049.6 2075.5,1048.2 C2077.4,1046.8 2079.9,1046.1 2082.4,1044.0 C2085.0,1041.9 2088.0,1038.7 2090.7,1035.7 C2093.5,1032.7 2096.8,1028.0 2099.1,1026.0 C2101.4,1023.9 2102.2,1023.7 2104.6,1023.2 C2107.1,1022.6 2112.4,1021.9 2113.5,1022.6 C2114.7,1023.3 2113.1,1025.6 2111.6,1027.3 C2110.1,1029.1 2106.3,1032.4 2104.6,1032.9 C2103.0,1033.4 2103.3,1030.2 2101.9,1030.1 C2100.5,1030.0 2098.6,1030.0 2096.3,1032.3 C2094.0,1034.7 2090.5,1041.2 2088.0,1044.0 C2085.4,1046.9 2082.9,1047.7 2081.0,1049.6 C2079.2,1051.4 2078.0,1052.8 2076.8,1055.1 C2075.7,1057.5 2073.6,1061.4 2074.1,1063.5 C2074.5,1065.6 2078.0,1066.7 2079.6,1067.7 C2081.2,1068.6 2083.6,1068.4 2083.8,1069.0 C2084.0,1069.7 2083.1,1071.3 2081.0,1071.8 C2078.9,1072.4 2073.9,1072.4 2071.3,1072.4 C2068.6,1072.4 2066.2,1071.9 2065.2,1071.8 M2171.4,1099.6 C2170.4,1101.5 2168.6,1107.0 2165.8,1110.7 C2163.0,1114.5 2157.5,1118.2 2154.7,1121.9 C2151.9,1125.6 2151.0,1129.3 2149.1,1133.0 C2147.3,1136.7 2144.7,1140.4 2143.6,1144.1 C2142.4,1147.8 2143.1,1152.0 2142.2,1155.2 C2141.3,1158.5 2139.4,1160.8 2138.0,1163.6 C2136.6,1166.3 2135.2,1169.1 2133.8,1171.9 C2132.4,1174.7 2131.3,1177.7 2129.7,1180.3 C2128.0,1182.8 2126.9,1184.4 2124.1,1187.2 C2121.3,1190.0 2116.0,1193.9 2113.0,1196.9 C2110.0,1199.9 2107.4,1202.7 2106.0,1205.3 C2104.6,1207.8 2104.4,1209.4 2104.6,1212.2 C2104.9,1215.0 2106.5,1218.5 2107.4,1222.0 C2108.4,1225.4 2109.3,1228.7 2110.2,1233.1 C2111.1,1237.5 2112.5,1245.8 2113.0,1248.4 M2167.2,1142.7 C2166.0,1143.6 2162.3,1146.2 2160.3,1148.3 C2158.2,1150.4 2156.5,1153.1 2154.7,1155.2 C2152.8,1157.3 2151.2,1158.0 2149.1,1160.8 C2147.0,1163.6 2144.0,1168.7 2142.2,1171.9 C2140.3,1175.2 2138.9,1177.0 2138.0,1180.3 C2137.1,1183.5 2136.9,1189.5 2136.6,1191.4 M2179.7,1199.7 C2178.3,1200.4 2174.6,1203.2 2171.4,1203.9 C2168.1,1204.6 2163.5,1203.0 2160.3,1203.9 C2157.0,1204.8 2154.7,1207.4 2151.9,1209.4 C2149.1,1211.5 2145.9,1214.8 2143.6,1216.4 C2141.3,1218.0 2137.1,1218.5 2138.0,1219.2 C2138.9,1219.9 2145.4,1221.5 2149.1,1220.6 C2152.8,1219.6 2157.0,1215.7 2160.3,1213.6 C2163.5,1211.5 2167.7,1207.6 2168.6,1208.1 C2169.5,1208.5 2165.3,1214.3 2165.8,1216.4 C2166.3,1218.5 2170.4,1219.9 2171.4,1220.6 M2140.8,1226.1 C2142.2,1225.9 2146.8,1224.3 2149.1,1224.7 C2151.4,1225.2 2155.2,1227.5 2154.7,1228.9 C2154.2,1230.3 2149.1,1231.0 2146.3,1233.1 C2143.6,1235.2 2138.5,1239.1 2138.0,1241.4 C2137.5,1243.7 2142.6,1246.0 2143.6,1247.0 M2154.7,1241.4 C2156.1,1241.6 2160.7,1241.6 2163.0,1242.8 C2165.3,1244.0 2167.7,1247.4 2168.6,1248.4 M2104.1,1005.7 C2104.6,1005.4 2106.4,1004.0 2107.4,1004.0 C2108.4,1004.0 2110.3,1005.1 2110.2,1005.7 C2110.1,1006.2 2107.9,1007.3 2106.9,1007.3 C2105.9,1007.3 2104.6,1005.9 2104.1,1005.7 M2276.2,920.3 C2277.2,918.7 2279.9,913.4 2282.3,910.6 C2284.7,907.8 2287.9,905.9 2290.7,903.6 C2293.4,901.3 2296.5,899.2 2299.0,896.7 C2301.6,894.1 2303.9,890.7 2306.0,888.3 C2308.0,886.0 2311.3,881.9 2311.5,882.8 C2311.7,883.7 2309.0,891.1 2307.3,893.9 C2305.7,896.7 2302.9,897.6 2301.8,899.5 C2300.6,901.3 2299.9,903.6 2300.4,905.0 C2300.9,906.4 2303.6,908.5 2304.6,907.8 C2305.5,907.1 2304.8,900.9 2306.0,900.9 C2307.1,900.9 2309.4,906.9 2311.5,907.8 C2313.6,908.7 2317.1,908.7 2318.5,906.4 C2319.9,904.1 2319.4,897.6 2319.9,893.9 C2320.3,890.2 2320.6,886.5 2321.2,884.2 C2321.9,881.9 2323.6,880.7 2324.0,880.0 M2276.2,920.3 C2278.2,919.8 2284.1,918.7 2287.9,917.5 C2291.7,916.4 2295.3,914.5 2299.0,913.4 C2302.7,912.2 2306.0,911.3 2310.1,910.6 C2314.3,909.9 2319.4,909.1 2324.0,909.2 C2328.7,909.3 2334.2,911.1 2337.9,911.1 C2341.6,911.1 2343.9,909.3 2346.3,909.2 C2348.6,909.1 2352.3,909.7 2351.8,910.6 C2351.4,911.5 2346.3,913.1 2343.5,914.8 C2340.7,916.4 2337.9,918.5 2335.1,920.3 C2332.4,922.2 2328.9,924.5 2326.8,925.9 C2324.7,927.3 2323.8,927.3 2322.6,928.7 C2321.5,930.0 2321.5,931.7 2319.9,934.2 C2318.2,936.8 2315.5,940.7 2312.9,943.9 C2310.4,947.2 2307.3,950.7 2304.6,953.7 C2301.8,956.7 2299.2,959.2 2296.2,962.0 C2293.2,964.8 2289.7,967.3 2286.5,970.4 C2283.3,973.4 2279.3,977.6 2276.8,980.1 C2274.2,982.5 2272.7,983.9 2271.2,985.1 C2269.7,986.2 2268.1,985.6 2267.9,987.0 C2267.6,988.5 2268.6,991.7 2269.8,994.0 C2271.1,996.3 2274.0,998.2 2275.4,1000.9 C2276.8,1003.7 2277.9,1007.7 2278.2,1010.7 C2278.4,1013.7 2276.1,1016.9 2276.8,1019.0 C2277.5,1021.1 2280.0,1022.2 2282.3,1023.2 C2284.6,1024.2 2287.4,1025.1 2290.7,1025.1 C2293.9,1025.1 2298.1,1024.0 2301.8,1023.2 C2305.5,1022.4 2308.7,1021.3 2312.9,1020.4 C2317.1,1019.5 2323.6,1018.8 2326.8,1017.6 C2330.0,1016.5 2330.0,1014.4 2332.4,1013.4 C2334.7,1012.5 2337.9,1012.5 2340.7,1012.1 C2343.5,1011.6 2347.2,1012.3 2349.0,1010.7 C2350.9,1009.0 2350.4,1003.9 2351.8,1002.3 C2353.2,1000.7 2356.9,1000.0 2357.4,1000.9 C2357.9,1001.9 2353.2,1006.6 2354.6,1007.9 C2356.0,1009.1 2362.5,1008.7 2365.7,1008.4 C2369.0,1008.2 2370.8,1007.1 2374.1,1006.5 C2377.3,1005.9 2382.9,1004.5 2385.2,1005.1 C2387.5,1005.7 2386.1,1009.4 2388.0,1010.1 C2389.8,1010.8 2394.0,1008.8 2396.3,1009.3 C2398.6,1009.7 2399.6,1012.7 2401.9,1012.9 C2404.2,1013.1 2407.4,1011.3 2410.2,1010.7 C2413.0,1010.1 2415.8,1009.6 2418.5,1009.3 C2421.3,1008.9 2424.6,1007.7 2426.9,1008.4 C2429.2,1009.1 2430.1,1012.8 2432.4,1013.4 C2434.8,1014.0 2438.5,1013.0 2440.8,1012.1 C2443.1,1011.1 2445.0,1007.7 2446.3,1007.9 C2447.7,1008.0 2446.8,1012.2 2449.1,1012.9 C2451.4,1013.6 2457.0,1011.5 2460.3,1012.1 C2463.5,1012.6 2465.8,1015.6 2468.6,1016.2 C2471.4,1016.8 2474.4,1016.6 2476.9,1015.7 C2479.5,1014.7 2482.7,1011.5 2483.9,1010.7 M2371.3,959.2 C2372.2,959.5 2375.0,962.2 2376.8,960.6 C2378.7,959.0 2381.0,952.5 2382.4,949.5 C2383.8,946.5 2383.3,945.1 2385.2,942.6 C2387.0,940.0 2390.3,937.2 2393.5,934.2 C2396.8,931.2 2400.9,927.5 2404.6,924.5 C2408.4,921.5 2412.1,918.9 2415.8,916.1 C2419.5,913.4 2423.2,910.6 2426.9,907.8 C2430.6,905.0 2434.3,902.7 2438.0,899.5 C2441.7,896.2 2445.9,891.6 2449.1,888.3 C2452.4,885.1 2456.1,881.4 2457.5,880.0 M2395.8,947.3 C2397.2,946.0 2402.7,942.4 2404.6,939.8 C2406.6,937.1 2405.1,933.7 2407.4,931.4 C2409.7,929.1 2414.4,927.0 2418.5,925.9 C2422.7,924.7 2428.3,924.9 2432.4,924.5 C2436.6,924.0 2440.8,924.9 2443.6,923.1 C2446.3,921.2 2447.3,916.8 2449.1,913.4 C2451.0,909.9 2451.9,905.9 2454.7,902.2 C2457.5,898.5 2462.8,894.8 2465.8,891.1 C2468.8,887.4 2471.6,881.9 2472.8,880.0 M2424.1,953.7 C2424.6,952.7 2426.0,948.3 2426.9,948.1 C2427.8,948.0 2429.9,951.2 2429.7,952.8 C2429.4,954.5 2425.3,955.2 2425.5,957.8 C2425.7,960.5 2429.7,964.8 2431.1,969.0 C2432.4,973.1 2433.8,978.2 2433.8,982.9 C2433.8,987.5 2431.1,992.1 2431.1,996.8 C2431.1,1001.4 2433.4,1008.3 2433.8,1010.7 M2470.0,943.4 C2468.8,943.9 2465.1,944.8 2463.0,946.7 C2460.9,948.7 2458.2,951.4 2457.5,955.1 C2456.8,958.8 2459.3,964.3 2458.9,969.0 C2458.4,973.6 2454.2,979.2 2454.7,982.9 C2455.2,986.6 2461.6,988.0 2461.6,991.2 C2461.6,994.4 2457.2,998.8 2454.7,1002.3 C2452.1,1005.8 2447.7,1010.4 2446.3,1012.1 M2211.2,1070.7 C2211.4,1070.4 2212.2,1069.0 2212.5,1069.0 C2212.9,1069.1 2213.5,1070.6 2213.4,1071.3 C2213.2,1071.9 2212.1,1073.0 2211.7,1072.9 C2211.3,1072.8 2211.2,1071.1 2211.2,1070.7 M2160.0,1116.3 C2161.4,1114.5 2166.0,1108.9 2168.3,1105.2 C2170.7,1101.5 2172.0,1096.3 2173.9,1094.1 C2175.8,1091.8 2177.4,1091.6 2179.5,1091.8 C2181.5,1092.1 2183.9,1095.3 2186.4,1095.5 C2189.0,1095.6 2193.8,1092.0 2194.8,1092.7 C2195.7,1093.4 2193.1,1097.1 2192.0,1099.6 C2190.8,1102.2 2187.1,1106.3 2187.8,1108.0 C2188.5,1109.6 2193.8,1108.9 2196.1,1109.4 C2198.5,1109.8 2200.8,1108.2 2201.7,1110.7 C2202.6,1113.3 2202.6,1120.9 2201.7,1124.6 C2200.8,1128.4 2196.8,1129.7 2196.1,1133.0 C2195.4,1136.2 2198.0,1140.4 2197.5,1144.1 C2197.1,1147.8 2195.0,1151.5 2193.4,1155.2 C2191.7,1158.9 2189.4,1162.4 2187.8,1166.3 C2186.2,1170.3 2184.8,1175.4 2183.6,1178.9 C2182.5,1182.3 2180.2,1187.2 2180.9,1187.2 C2181.5,1187.2 2185.5,1181.2 2187.8,1178.9 C2190.1,1176.5 2194.3,1172.6 2194.8,1173.3 C2195.2,1174.0 2192.4,1180.5 2190.6,1183.0 C2188.7,1185.6 2185.9,1187.4 2183.6,1188.6 C2181.3,1189.7 2176.4,1189.5 2176.7,1190.0 C2176.9,1190.4 2181.8,1193.0 2185.0,1191.4 C2188.3,1189.7 2192.9,1183.3 2196.1,1180.3 C2199.4,1177.2 2201.9,1173.3 2204.5,1173.3 C2207.0,1173.3 2210.7,1177.5 2211.4,1180.3 C2212.1,1183.0 2208.2,1189.3 2208.7,1190.0 C2209.1,1190.7 2212.1,1185.8 2214.2,1184.4 C2216.3,1183.0 2218.6,1181.4 2221.2,1181.6 C2223.7,1181.9 2226.7,1184.7 2229.5,1185.8 C2232.3,1187.0 2235.5,1187.9 2237.8,1188.6 C2240.2,1189.3 2243.2,1188.6 2243.4,1190.0 C2243.6,1191.4 2239.2,1195.3 2239.2,1196.9 C2239.2,1198.6 2243.6,1198.3 2243.4,1199.7 C2243.2,1201.1 2240.2,1204.6 2237.8,1205.3 C2235.5,1206.0 2230.0,1203.2 2229.5,1203.9 C2229.0,1204.6 2232.3,1208.3 2235.1,1209.4 C2237.8,1210.6 2244.8,1209.7 2246.2,1210.8 C2247.6,1212.0 2245.7,1215.2 2243.4,1216.4 C2241.1,1217.5 2235.5,1216.9 2232.3,1217.8 C2229.0,1218.7 2226.7,1220.3 2223.9,1222.0 C2221.2,1223.6 2218.2,1224.7 2215.6,1227.5 C2213.1,1230.3 2211.0,1235.4 2208.7,1238.6 C2206.3,1241.9 2202.9,1245.6 2201.7,1247.0 M2160.0,1205.3 C2161.4,1204.3 2165.6,1201.1 2168.3,1199.7 C2171.1,1198.3 2173.4,1198.8 2176.7,1196.9 C2179.9,1195.1 2185.9,1190.0 2187.8,1188.6 M2160.0,1219.2 C2161.9,1218.2 2167.4,1214.1 2171.1,1213.6 C2174.8,1213.1 2178.5,1216.6 2182.2,1216.4 C2185.9,1216.2 2190.8,1212.7 2193.4,1212.2 C2195.9,1211.8 2198.5,1212.2 2197.5,1213.6 C2196.6,1215.0 2191.3,1218.7 2187.8,1220.6 C2184.3,1222.4 2179.9,1223.6 2176.7,1224.7 C2173.4,1225.9 2169.7,1227.0 2168.3,1227.5 M2248.4,1206.7 C2249.4,1206.4 2253.7,1204.8 2254.5,1205.3 C2255.3,1205.7 2254.2,1209.2 2253.1,1209.4 C2252.1,1209.7 2249.2,1207.1 2248.4,1206.7"/>
</g>
<circle cx="2212.3" cy="757.4" r="13.3" fill="#000"/>
<circle cx="1933.7" cy="889.7" r="13.3" fill="#000"/>
<circle cx="2228.7" cy="977.9" r="13.3" fill="#000"/>
<path d="M2416.3,582.8 C2348.8,610.7 2291.3,661.6 2250.9,721.8" fill="none" stroke="#000" stroke-width="3" stroke-linecap="round" stroke-linejoin="round"/>
<path d="M2254.5,707.4 L2251.2,721.8 L2265.1,716.3" fill="none" stroke="#000" stroke-width="3" stroke-linecap="round" stroke-linejoin="round"/>
<path d="M1710.4,835.2 C1770.1,805.1 1846.7,815.4 1896.4,859.7" fill="none" stroke="#000" stroke-width="3" stroke-linecap="round" stroke-linejoin="round"/>
<path d="M1882.2,857.5 L1896.1,859.7 L1889.2,846.4" fill="none" stroke="#000" stroke-width="3" stroke-linecap="round" stroke-linejoin="round"/>
<path d="M2326.8,1070.4 C2290,1076 2258,1060 2238.4,1024" fill="none" stroke="#000" stroke-width="3" stroke-linecap="round" stroke-linejoin="round"/>
<path d="M2237.8,1037.9 L2238.4,1024 L2250.4,1030.1" fill="none" stroke="#000" stroke-width="3" stroke-linecap="round" stroke-linejoin="round"/>
<text x="2089.5" y="810.3" font-size="44.5" fill="#111" text-anchor="start" textLength="257" lengthAdjust="spacingAndGlyphs">Northeast GSL</text>
<text x="1833.5" y="935.6" font-size="44.5" fill="#111" text-anchor="start" textLength="256.5" lengthAdjust="spacingAndGlyphs">Gaspé Current</text>
<text x="2095.5" y="1017.6" font-size="44.5" fill="#111" text-anchor="start" textLength="103.5" lengthAdjust="spacingAndGlyphs">Cabot</text>
<rect x="2269.3" y="1232.3" width="209.8" height="12" fill="#fff" stroke="#222" stroke-width="1.1"/>
<rect x="2269.3" y="1232.3" width="104.4" height="12" fill="#999" stroke="#222" stroke-width="1.1"/>
<text x="2170.5" y="1247.5" font-size="29" fill="#111" text-anchor="start" textLength="91.5" lengthAdjust="spacingAndGlyphs">200 km</text>
<g transform="translate(2384.9,1160.6) rotate(-4.5)"><circle r="30.3" fill="none" stroke="#2a2a2a" stroke-width="1.5"/><path d="M0,0 L6.7,-16.1 L22.9,-22.9 Z" fill="#6b6b6b" stroke="#777" stroke-width="0.35"/><path d="M0,0 L16.1,-6.7 L22.9,-22.9 Z" fill="#fff" stroke="#999" stroke-width="0.35"/><path d="M0,0 L16.1,6.7 L22.9,22.9 Z" fill="#6b6b6b" stroke="#777" stroke-width="0.35"/><path d="M0,0 L6.7,16.1 L22.9,22.9 Z" fill="#fff" stroke="#999" stroke-width="0.35"/><path d="M0,0 L-6.7,16.1 L-22.9,22.9 Z" fill="#6b6b6b" stroke="#777" stroke-width="0.35"/><path d="M0,0 L-16.1,6.7 L-22.9,22.9 Z" fill="#fff" stroke="#999" stroke-width="0.35"/><path d="M0,0 L-16.1,-6.7 L-22.9,-22.9 Z" fill="#6b6b6b" stroke="#777" stroke-width="0.35"/><path d="M0,0 L-6.7,-16.1 L-22.9,-22.9 Z" fill="#fff" stroke="#999" stroke-width="0.35"/><path d="M0,0 L-6.7,-16.1 L0.0,-47.0 Z" fill="#6b6b6b" stroke="#777" stroke-width="0.35"/><path d="M0,0 L6.7,-16.1 L0.0,-47.0 Z" fill="#fff" stroke="#999" stroke-width="0.35"/><path d="M0,0 L16.1,-6.7 L47.0,-0.0 Z" fill="#6b6b6b" stroke="#777" stroke-width="0.35"/><path d="M0,0 L16.1,6.7 L47.0,-0.0 Z" fill="#fff" stroke="#999" stroke-width="0.35"/><path d="M0,0 L6.7,16.1 L0.0,47.0 Z" fill="#6b6b6b" stroke="#777" stroke-width="0.35"/><path d="M0,0 L-6.7,16.1 L0.0,47.0 Z" fill="#fff" stroke="#999" stroke-width="0.35"/><path d="M0,0 L-16.1,6.7 L-47.0,0.0 Z" fill="#6b6b6b" stroke="#777" stroke-width="0.35"/><path d="M0,0 L-16.1,-6.7 L-47.0,0.0 Z" fill="#fff" stroke="#999" stroke-width="0.35"/></g>
<text x="2380.6" y="1107.9" font-size="16.5" fill="#222" text-anchor="middle" font-weight="bold">N</text>
<rect x="1530.2" y="520.2" width="957.2" height="732.3" fill="none" stroke="#4c566a" stroke-width="7"/>
</g>
<text x="1554" y="587" font-size="58" fill="#000" text-anchor="start" textLength="46.5" lengthAdjust="spacingAndGlyphs" stroke="#000" stroke-width="1.1">b)</text>
</svg></body></html>
